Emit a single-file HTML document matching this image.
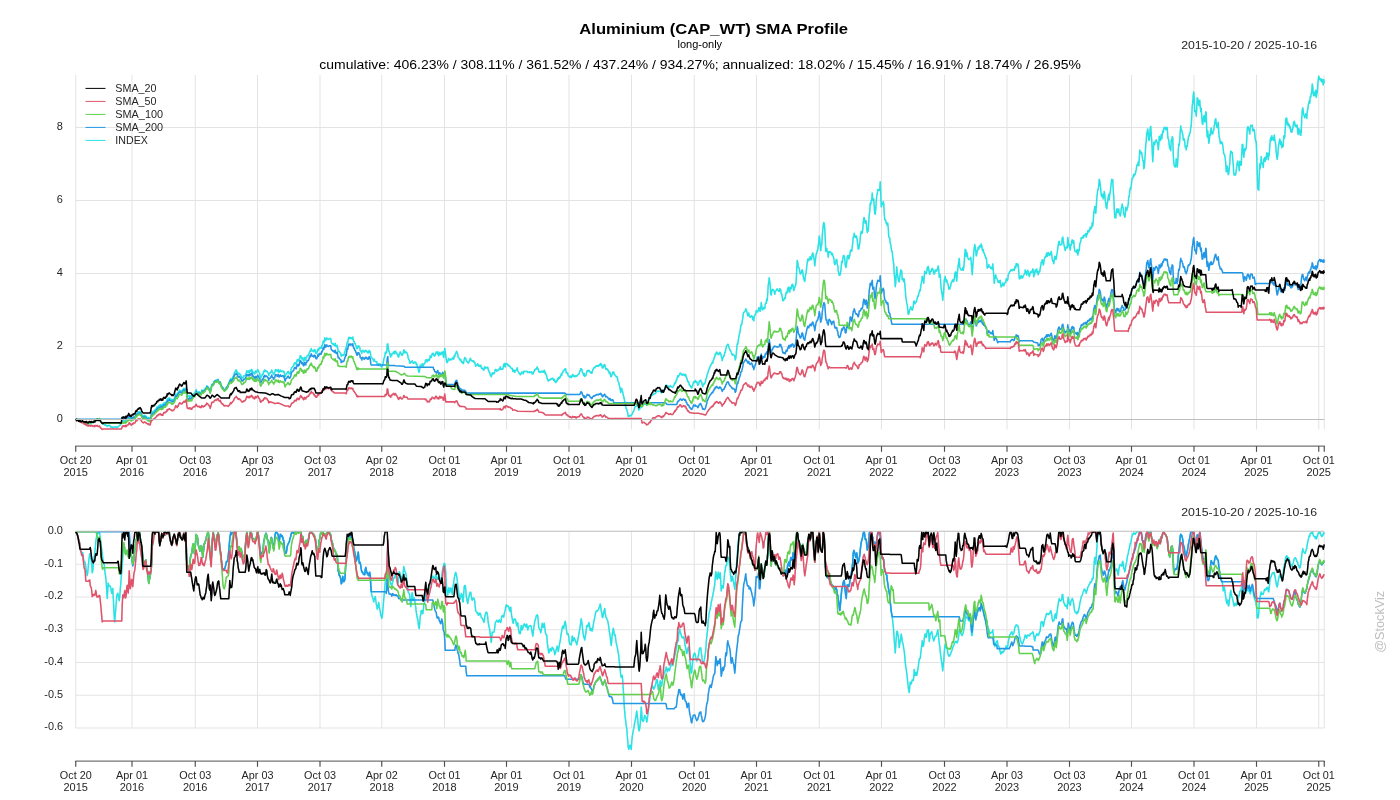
<!DOCTYPE html>
<html><head><meta charset="utf-8"><title>Aluminium (CAP_WT) SMA Profile</title>
<style>html,body{margin:0;padding:0;background:#fff;width:1400px;height:800px;overflow:hidden;font-family:"Liberation Sans",sans-serif}</style>
</head><body>
<svg width="1400" height="800" viewBox="0 0 1400 800" style="position:absolute;left:0;top:0;will-change:transform;font-family:'Liberation Sans',sans-serif">
<rect width="1400" height="800" fill="#fff"/>
<line x1="75.75" x2="75.75" y1="75" y2="429.5" stroke="#E3E3E3" stroke-width="1"/>
<line x1="132" x2="132" y1="75" y2="429.5" stroke="#E3E3E3" stroke-width="1"/>
<line x1="195.25" x2="195.25" y1="75" y2="429.5" stroke="#E3E3E3" stroke-width="1"/>
<line x1="257.5" x2="257.5" y1="75" y2="429.5" stroke="#E3E3E3" stroke-width="1"/>
<line x1="320" x2="320" y1="75" y2="429.5" stroke="#E3E3E3" stroke-width="1"/>
<line x1="381.75" x2="381.75" y1="75" y2="429.5" stroke="#E3E3E3" stroke-width="1"/>
<line x1="444.5" x2="444.5" y1="75" y2="429.5" stroke="#E3E3E3" stroke-width="1"/>
<line x1="506.5" x2="506.5" y1="75" y2="429.5" stroke="#E3E3E3" stroke-width="1"/>
<line x1="569" x2="569" y1="75" y2="429.5" stroke="#E3E3E3" stroke-width="1"/>
<line x1="631.5" x2="631.5" y1="75" y2="429.5" stroke="#E3E3E3" stroke-width="1"/>
<line x1="694.25" x2="694.25" y1="75" y2="429.5" stroke="#E3E3E3" stroke-width="1"/>
<line x1="756.5" x2="756.5" y1="75" y2="429.5" stroke="#E3E3E3" stroke-width="1"/>
<line x1="819.25" x2="819.25" y1="75" y2="429.5" stroke="#E3E3E3" stroke-width="1"/>
<line x1="881.5" x2="881.5" y1="75" y2="429.5" stroke="#E3E3E3" stroke-width="1"/>
<line x1="944.5" x2="944.5" y1="75" y2="429.5" stroke="#E3E3E3" stroke-width="1"/>
<line x1="1007" x2="1007" y1="75" y2="429.5" stroke="#E3E3E3" stroke-width="1"/>
<line x1="1069.5" x2="1069.5" y1="75" y2="429.5" stroke="#E3E3E3" stroke-width="1"/>
<line x1="1131.5" x2="1131.5" y1="75" y2="429.5" stroke="#E3E3E3" stroke-width="1"/>
<line x1="1194" x2="1194" y1="75" y2="429.5" stroke="#E3E3E3" stroke-width="1"/>
<line x1="1256.5" x2="1256.5" y1="75" y2="429.5" stroke="#E3E3E3" stroke-width="1"/>
<line x1="1318.75" x2="1318.75" y1="75" y2="429.5" stroke="#E3E3E3" stroke-width="1"/>
<line x1="1324.25" x2="1324.25" y1="75" y2="429.5" stroke="#E3E3E3" stroke-width="1"/>
<line x1="75.75" x2="1324.25" y1="346.5" y2="346.5" stroke="#E3E3E3" stroke-width="1"/>
<line x1="75.75" x2="1324.25" y1="273.5" y2="273.5" stroke="#E3E3E3" stroke-width="1"/>
<line x1="75.75" x2="1324.25" y1="200.5" y2="200.5" stroke="#E3E3E3" stroke-width="1"/>
<line x1="75.75" x2="1324.25" y1="127.5" y2="127.5" stroke="#E3E3E3" stroke-width="1"/>
<text x="56.89" y="421.90" font-size="10.03" fill="#262626" textLength="6.11" lengthAdjust="spacingAndGlyphs">0</text>
<text x="56.89" y="348.90" font-size="10.03" fill="#262626" textLength="6.11" lengthAdjust="spacingAndGlyphs">2</text>
<text x="56.89" y="275.90" font-size="10.03" fill="#262626" textLength="6.11" lengthAdjust="spacingAndGlyphs">4</text>
<text x="56.89" y="202.90" font-size="10.03" fill="#262626" textLength="6.11" lengthAdjust="spacingAndGlyphs">6</text>
<text x="56.89" y="129.90" font-size="10.03" fill="#262626" textLength="6.11" lengthAdjust="spacingAndGlyphs">8</text>
<line x1="75.75" x2="75.75" y1="531.5" y2="728" stroke="#E3E3E3" stroke-width="1"/>
<line x1="132" x2="132" y1="531.5" y2="728" stroke="#E3E3E3" stroke-width="1"/>
<line x1="195.25" x2="195.25" y1="531.5" y2="728" stroke="#E3E3E3" stroke-width="1"/>
<line x1="257.5" x2="257.5" y1="531.5" y2="728" stroke="#E3E3E3" stroke-width="1"/>
<line x1="320" x2="320" y1="531.5" y2="728" stroke="#E3E3E3" stroke-width="1"/>
<line x1="381.75" x2="381.75" y1="531.5" y2="728" stroke="#E3E3E3" stroke-width="1"/>
<line x1="444.5" x2="444.5" y1="531.5" y2="728" stroke="#E3E3E3" stroke-width="1"/>
<line x1="506.5" x2="506.5" y1="531.5" y2="728" stroke="#E3E3E3" stroke-width="1"/>
<line x1="569" x2="569" y1="531.5" y2="728" stroke="#E3E3E3" stroke-width="1"/>
<line x1="631.5" x2="631.5" y1="531.5" y2="728" stroke="#E3E3E3" stroke-width="1"/>
<line x1="694.25" x2="694.25" y1="531.5" y2="728" stroke="#E3E3E3" stroke-width="1"/>
<line x1="756.5" x2="756.5" y1="531.5" y2="728" stroke="#E3E3E3" stroke-width="1"/>
<line x1="819.25" x2="819.25" y1="531.5" y2="728" stroke="#E3E3E3" stroke-width="1"/>
<line x1="881.5" x2="881.5" y1="531.5" y2="728" stroke="#E3E3E3" stroke-width="1"/>
<line x1="944.5" x2="944.5" y1="531.5" y2="728" stroke="#E3E3E3" stroke-width="1"/>
<line x1="1007" x2="1007" y1="531.5" y2="728" stroke="#E3E3E3" stroke-width="1"/>
<line x1="1069.5" x2="1069.5" y1="531.5" y2="728" stroke="#E3E3E3" stroke-width="1"/>
<line x1="1131.5" x2="1131.5" y1="531.5" y2="728" stroke="#E3E3E3" stroke-width="1"/>
<line x1="1194" x2="1194" y1="531.5" y2="728" stroke="#E3E3E3" stroke-width="1"/>
<line x1="1256.5" x2="1256.5" y1="531.5" y2="728" stroke="#E3E3E3" stroke-width="1"/>
<line x1="1318.75" x2="1318.75" y1="531.5" y2="728" stroke="#E3E3E3" stroke-width="1"/>
<line x1="1324.25" x2="1324.25" y1="531.5" y2="728" stroke="#E3E3E3" stroke-width="1"/>
<line x1="75.75" x2="1324.25" y1="564.25" y2="564.25" stroke="#E3E3E3" stroke-width="1"/>
<line x1="75.75" x2="1324.25" y1="597.0" y2="597.0" stroke="#E3E3E3" stroke-width="1"/>
<line x1="75.75" x2="1324.25" y1="629.75" y2="629.75" stroke="#E3E3E3" stroke-width="1"/>
<line x1="75.75" x2="1324.25" y1="662.5" y2="662.5" stroke="#E3E3E3" stroke-width="1"/>
<line x1="75.75" x2="1324.25" y1="695.25" y2="695.25" stroke="#E3E3E3" stroke-width="1"/>
<line x1="75.75" x2="1324.25" y1="728.0" y2="728.0" stroke="#E3E3E3" stroke-width="1"/>
<text x="47.73" y="533.90" font-size="10.03" fill="#262626" textLength="15.27" lengthAdjust="spacingAndGlyphs">0.0</text>
<text x="44.27" y="566.65" font-size="10.03" fill="#262626" textLength="18.73" lengthAdjust="spacingAndGlyphs">-0.1</text>
<text x="44.27" y="599.40" font-size="10.03" fill="#262626" textLength="18.73" lengthAdjust="spacingAndGlyphs">-0.2</text>
<text x="44.27" y="632.15" font-size="10.03" fill="#262626" textLength="18.73" lengthAdjust="spacingAndGlyphs">-0.3</text>
<text x="44.27" y="664.90" font-size="10.03" fill="#262626" textLength="18.73" lengthAdjust="spacingAndGlyphs">-0.4</text>
<text x="44.27" y="697.65" font-size="10.03" fill="#262626" textLength="18.73" lengthAdjust="spacingAndGlyphs">-0.5</text>
<text x="44.27" y="730.40" font-size="10.03" fill="#262626" textLength="18.73" lengthAdjust="spacingAndGlyphs">-0.6</text>
<defs><clipPath id="cu"><rect x="70" y="75" width="1260" height="360"/></clipPath><clipPath id="cl"><rect x="70" y="531" width="1260" height="225"/></clipPath></defs>
<g fill="none" stroke-width="1.55" stroke-linejoin="round" stroke-linecap="butt" clip-path="url(#cu)">
<path d="M75.8 418.8l.4 .8l.6 1l.4-1.1l.6 .5l.4-.1l.6 1.2l.4-.4l.6-1.1l.4 2.1l.6-.3l.4 .2l.6 .5l.4-.9l.6 .6l.4 .2l.6 .3l.4 .6l.6-.2l.4 0l.6 .8l.4-1l.6 .4l.4 1.1l.6-.4l.4 .6l.6-1l.4-.2l.6 0l.4 .7l.6-.6l.4-1.1l.6 .6l.4-.7l1 .6l.6-.8l.4-.8l.6 1l.4-1.3l.6-.5l.4 .1l.6 .1l.4-1.3l.6 .9l.4-.1l.6-.2l.4-1l.6 .6l.4 1l1 1.4l.6 .7l.4 1.1l.6 .2l.4 .5l.6-.2l.4-.8l.6 1.9l.4 .3l.6-.4l.4 .2l.6 .3l.4 1.1l.6-.8l.4 .1l.6-.5l.4 .2l.6-.1l.4 .7l.6 1.4l.4-.7l.6 .1l.4 .4l.6-.2l.4 .8l1-1.1l.6 .1l.4 .2l.6 0l.4 .5l.6-.8l.4 .5l.6-.2l.4-.2l.6-.6l.4-.5l.6-.7l.4 .1l.6-1l.4-.4l.6-.9l.4-1.4l.6-.1l.4 .4l.6-1.1l.4 .7l.6-.4l.4 .8l.6-1.9l.4 1.4l.6-.8l.4-.9l.6-.4l.4 .1l.6-1.5l.4-.5l.6 0l.4 1.2l.6-.6l.4 1.2l.6-.4l1-1.2l.4 .7l.6-1.2l.4 .3l.6-.2l.4-.8l.6-2.1l.4-.3l.6 .7l.4-1.6l.6-.5l.4 .2l.6-1l.4 .1l.6 .5l.4-.9l.6 1.2l.4 .5l.6 1.8l.4 .5l.6 .3l.4 1l.6-.8l.4-.1l.6-.6l.4 1l.6-.2l.4 .5l.6 .8l.4 0l.6 .8l.4-.2l.6-.4l.4 1.3l.6-.8l.4 .7l.6-3l.4-1l.6-2.3l.4 .8l.6-1.2l.4-.7l.6 .2l.4-.8l.6-.3l.4-.8l.6-.6l.4 0l.6-1.7l.4-.4l.6 .5l.4-1.1l.6-.6l.4 .3l.6-.5l.4-1l1 1.4l.6-1.2l.4 .8l.6 0l.4-1.7l.6-.9l.4-.1l.6 .7l.4-.1l.6-.9l.4-1l.6 .3l.4-2.8l.6 .7l.4-1.2l.6 .1l.4-.8l.6 .5l.4 .4l.6 .2l.4 .6l.6 .7l.4-.7l.6 .7l.4-.1l.6-.9l.4-.3l.6-1.6l.4-1.3l.6-2l1 .7l.4 .2l.6-2.3l.4 .8l.6-1.8l.4-.8l.6-.7l.4 .6l.6 0l.4 .8l.6 0l.4-.6l.6-1.2l.4-.2l.6-1.2l.4 .3l.6 1.3l.4-1l.6-.4l.4-1l.6 5l.4 2.5l.6 1l.4 .8l.6-.7l.4 .6l.6-1.3l.4 .8l.6 .8l.4-.9l.6 1.1l.4-1.7l.6-.5l.4-.7l.6-.5l.4-.4l.6 .3l.4-1.4l.6-1.5l.4-1.2l.6 2.1l.4 .3l.6 .6l.4-.5l.6 .3l.4-.7l.6 1.4l.4-.1l.6-.7l.4 .8l.6-3l.4 .1l.6 .7l.4 .5l.6-.7l.4-1.3l.6 .4l1-2.1l.4 .1l.6-2.1l.4 .7l.6 .1l.4 1.3l.6 .2l.4 .9l.6 .5l.4 2.3l.6-2.5l.4-1.7l.6-3.1l.4-.2l.6 0l.4-.7l.6-.3l.4-2.1l.6 0l.4-.9l.6 .3l.4 .6l.6-.6l.4-1l.6 1.3l.4-1.4l.6 2.7l.4-.3l.6 1.1l.4-1.1l.6 2.1l.4 1.6l.6 .8l.4 1l.6-.1l.4 1.2l.6 .6l.4 .9l.6-.2l.4-.4l.6-.3l.4-1.5l.6-.7l.4 .5l.6-1.3l.4-1.6l.6-1.4l.4-.9l.6-1.5l.4-.9l.6-.9l.4 1.5l.6-1.6l.4-.2l.6-1.5l.4-.6l.6-.9l.4-2.1l.6-1.4l.4-.4l.6-.5l.4-1.3l.6 1.6l.4 .2l.6 1.4l.4 1.2l.6-.6l.4-.4l.6 .6l.4 1.1l.6 .2l.4 1.5l.6 1.1l.4 .4l.6-.8l.4 .2l.6-1.6l.4 .4l.6-.8l.4 0l.6-1.5l.4-1.1l.6-2.2l.4 .5l.6 1.1l.4 0l.6-1.6l.4 1.6l.6-.3l.4-1.9l.6 1l.4 .3l.6-2l.4 1.3l.6 2l.4-.6l.6 1.1l.4 .9l.6-.5l.4-2.3l.6-.4l.4 1.8l.6-.9l.4-.5l.6-1.8l.4 1.2l.6 1l.4 .9l.6 .9l.4 3.2l.6 1.3l1-2.2l.4-1.6l.6 .4l.4-.6l.6-3l.4 .8l.6-1.9l.4 1.6l.6-.4l.4-.3l.6 .4l.4 .5l.6 1.2l.4 0l.6 2.7l.4-2.3l.6 .1l.4-.2l.6-1.3l.4 .1l.6-2l.4 2.1l.6 .5l.4 .9l.6 1l.4-1.5l.6-.3l.4-2.6l.6-.5l.4 .4l.6 .2l.4 1.4l.6-1l.4-1.1l.6 2.6l.4 .1l.6-1.3l.4-.9l.6 1.4l.4 .1l.6-.3l.4-.3l.6 0l.4 1.1l.6-.8l.4 1l.6 3.6l.4 1l.6-2.4l1-.5l.4-1.4l.6-.6l.4-.5l.6 1.2l.4 1.3l.6-.4l.4-.2l.6-1.7l.4-2.6l.6-1.6l.4-.3l.6-.6l.4-.3l.6-.7l.4-2.2l1-.8l.6 1.6l.4 0l.6-2.8l.4-1.5l.6 1.1l.4-1.4l.6 1.6l.4-1.1l.6-2.3l.4-2.1l.6 .4l.4 1.2l.6 1.8l.4-.3l.6-1l.4 2.9l.6 .5l.4-1.5l.6-2.2l.4 2.2l.6 .5l.4-2.6l.6-.1l.4-1.8l.6 0l.4 .2l.6-1.1l.4-1.9l.6-.7l.4-1.8l.6 1l.4-2.8l.6 1.3l.4 1l.6 .3l.4-.4l.6 1.1l.4-2.2l.6 1.4l.4-.9l.6 3l.4 .4l.6-.2l.4-1.7l.6-2.3l.4 1.5l.6-.9l.4-2.2l.6 .8l.4-.3l.6-1l.4 1.1l.6-3l.4 .5l.6-2.6l.4-2.2l.6 2l.4-1.8l.6-3.3l.4 1l.6 1.7l.4-1.2l.6-1.5l.4 .9l.6 .4l.4 .1l.6 .1l.4-.9l.6 .3l.4 0l.6-.2l.4 3.7l1 1.4l.6-.1l.4 1.1l.6-.7l.4 1l.6 .7l.4-2.5l.6 2.8l.4 .5l.6 .3l.4-1.4l.6 3.2l.4 2.9l.6-.5l1 1.3l.4 1l.6 0l.4 3.1l.6-1.5l.4 .6l.6-.6l.4 .5l.6-.4l.4-1.2l.6-2l.4-1.1l.6-2.8l.4 1.4l.6-4.6l.4-2.3l.6 .2l.4-3.1l.6-2.1l.4 1.1l.6-1.1l.4 1.3l.6-1.1l.4 .1l.6 .3l.4 1l.6-1.9l.4 2.5l.6 2.1l.4-.3l.6 2.2l.4 0l.6 1.7l.4 1l.6 2.3l.4 0l.6-2.6l.4 1.1l.6-1.4l.4 1.7l.6 .2l.4 2.9l.6 .7l.4-.2l.6 2.2l.4-2.3l.6-.7l.4 .8l.6 .5l.4 .8l.6-1.1l.4-.9l.6 .9l.4-.6l.6 .6l.4 1.4l.6-.7l.4 1.1l.6-1.9l.4-.7l.6 2l.4-.8l.6 4.4l.4 .9l.6 1l.4 .2l.6 .3l.4 1.6l.6 1.2l.4-1.9l.6 1.7l.4 .3l.6 .4l.4 .4l.6-.4l.4 3.1l.6-.4l.4 1l.6-1.5l.4 .7l.6-1l.4 1.1l.6 1.6l.4-.3l.6 1.3l.4-1.6l.6-1.1l.4-2l.6-3.2l.4-1.5l.6-1.5l.4-3.6l.6-.8l.4 1.3l.6-1.5l.4-7.6l.6-.3l.4 3.1l.6 4.1l.4 .1l.6 2.8l.4 1.3l.6 1.6l.4-3l.6 1.4l.4-1.4l.6-.7l.4-.3l.6-1.2l.4 1.9l.6 .3l.4-2.8l.6 .4l.4 1l.6 .5l.4 1.5l.6 .7l.4 1.7l.6 0l.4-3.2l.6 .4l.4-2.4l.6 1.6l.4 .2l.6 1.8l.4 0l.6-1.2l.4-1.4l.6-2.8l.4 .4l.6 2.6l.4-.7l.6-.4l.4 .7l.6 .1l.4 1.2l.6 1.4l.4 3.1l.6 1l.4 .6l.6 3.2l.4 0l.6-.4l.4-1.2l.6 .1l.4-.9l.6 1.5l.4 1.1l.6 0l.4-.7l.6-.7l.4 .3l.6 0l.4 2.2l.6-.3l.4 1.7l.6 1.4l.4 1.9l.6 2.9l.4 .2l.6-3.3l.4-3.9l.6 1.4l.4-.7l.6-1.2l.4-.9l.6 2.6l.4 .2l.6-2.2l.4-.7l.6 0l.4-1.9l.6-1.9l.4 .5l.6-.2l.4 2l.6-1.4l.4-1.2l.6 .6l.4 .5l.6-1.8l.4-2.9l.6 .4l.4 1.3l.6-2.2l.4-1.7l.6-.1l.4-.3l.6 2.3l.4-.6l.6 1.2l.4-1.7l.6-1l.4-1.4l.6 .1l.4 1.7l.6-1.9l.4 2.9l.6 1l.4-1.3l.6-2.3l.4 1.3l.6 1.2l.4-.3l.6-2.2l.4 .5l.6-.8l.4 4.3l.6 1.2l.4-4.9l.6-4.1l.4 3.7l.6 3.2l.4 3.8l.6 3.3l.4 .2l.6-.9l.4-2.2l.6-1l.4 1l.6 .7l.4-1l.6-.2l.4 .5l.6 .3l.4-1.2l.6-1.1l.4 1.2l.6 .2l.4-3l.6 .7l.4-2.4l.6-1.1l.4-1.2l.6-.5l.4 2l.6 .9l.4 3l.6 .3l.4 .7l.6 1.4l.4 .4l.6-.8l.4 2.1l.6 1.1l.4-.8l.6 1.3l.4 .7l.6-1.5l.4-2.8l.6-1.8l.4 .9l.6-.1l.4 2l.6 1.3l.4-.1l.6 .7l.4 .8l.6-.6l.4-1.3l.6-1l.4-1.9l.6 .7l.4 1.4l.6 .5l.4-.2l.6 .3l.4 .6l.6-.7l.4 1.6l.6-.3l.4 2.2l.6 1.8l.4-.7l1-.9l.6-.9l.4 1.9l.6 .6l.4-.9l.6 .8l.4 0l.6-.9l.4 2.3l.6 1.3l.4-.1l.6-.6l.4 1.6l.6 .5l.4-1.1l.6-2.4l.4 1.5l.6-.8l.4 .6l.6-.5l.4 .2l.6-.5l.4 2.5l.6 .8l.4 1.7l.6 .4l.4 2.5l.6 .2l.4 1.5l.6-2l.4-1.7l.6 1l.4-1.3l.6 .1l.4 .6l.6-1.8l.4-2.1l.6 0l.4 0l.6 1.6l.4-.6l.6-.2l.4-.1l.6-1l.4-.4l.6 .5l.4-2.7l.6 1.9l.4 .7l.6-.4l.4 .1l.6 .3l.4-2.1l.6-2.5l.4-1.1l.6 2.5l.4 .9l.6-3.6l.4 .6l.6-.4l.4 .6l.6 .1l.4 1.7l.6-.7l.4 .3l.6 1.1l.4-.1l.6 1.1l.4 .7l.6 .1l.4-.1l.6 2.7l.4 .4l.6-1.6l.4 1.7l.6 .8l.4-1.5l1-.8l.6-1.3l.4-1l.6 2.9l.4 .9l.6 .8l.4 1l.6 .2l.4 1.2l.6-.3l.4-1.2l.6-1.3l.4 .1l.6 .4l.4 1.2l.6-2.5l.4 .1l.6 .2l.4 0l.6 0l.4-.2l.6-.1l.4 .4l.6 1l.4-.4l.6 0l.4-.4l.6 .9l.4-.5l.6 0l.4-.5l.6 1l.4 1.3l.6-.5l.4 .3l.6-2.5l.4 .3l.6-2.1l1 .1l.4-1.3l.6 .5l.4-1.9l.6 1.6l.4 .5l.6 2.8l.4 .3l.6-.1l.4-.5l.6 1l.4-1.3l.6 .1l.4-.1l.6 .9l.4-1.1l.6 1.2l.4-1.9l.6 1.1l.4 2.4l.6-.6l.4 1.6l.6 1.1l.4 2.9l.6 1l.4 1.3l.6-1.1l.4-.3l.6 .6l.4-1l.6-.3l.4 .2l.6-.8l.4-.2l.6 .9l.4-.6l.6 1.9l.4-1l.6 2l.4 .3l.6 1l.4-2l.6 .8l.4-.9l.6-2.3l.4 1.3l.6-2l.4 .9l.6-1.8l.4 .7l.6-1.8l.4-1.5l.6 1.1l.4-2.7l.6 0l.4-1.5l.6 0l.4-1.2l.6-.2l.4-1.1l.6 1l.4 3.3l.6-.3l.4 .9l.6-.1l.4 2.7l.6 0l.4 .5l.6 .9l.4-1.4l.6 .4l.4 1.1l.6-.7l.4-1.3l.6-1.2l.4 1.8l.6-.5l.4 .9l.6 .4l.4-1.1l.6 .4l.4 0l.6-.7l.4 .4l.6-1.1l.4-.3l.6-.8l.4 0l.6-2.8l.4-.2l.6-2.1l.4 .2l.6 .7l.4 2.1l.6 1.7l.4 .2l.6 1.9l.4-2l.6 3l.4-1.1l.6 .1l.4-1.2l.6-2.1l.4-1.6l.6 .6l.4 0l.6-.9l1 1.3l.4 .7l.6 .7l.4-.8l.6 1.2l.4-1.1l.6-2.5l.4-.6l.6-1.3l.4-.2l.6 .3l.4-1.2l.6-.2l.4-.8l.6 .4l.4-.5l.6 .2l.4 .5l.6-.5l.4-1l.6 .4l.4-1.4l.6-.4l.4 1.9l.6-.4l.4 2.9l.6 .1l.4-.5l.6-1.5l.4-1.3l.6 .2l.4 2l.6 2.1l.4 .5l.6-.8l.4 .6l.6 .4l.4 1.5l.6 0l.4 2.3l.6-1.2l.4 1.2l.6 3.1l.4 .1l.6-1.5l.4-.8l.6-2.2l.4 .1l.6-.1l.4 2.6l.6 0l.4 .5l.6 .6l.4 1.1l.6 .1l.4-.2l.6 3.4l.4 1.4l.6 .8l.4 2.8l.6 1.5l.4 3l.6 2.8l.4-4.1l.6 .2l.4 1.9l.6 1.7l.4 3.1l.6 1.3l.4 2.2l.6 3l.4 1.4l.6 2.9l.4 2.7l.6 .4l.4 2.2l.6 1.9l.4 3.1l.6-.7l.4 0l.6 .4l.4-.8l.6 .4l.4-.2l.6-.8l.4-.6l.6-1.8l.4-.4l.6-.9l.4-1.6l.6-1.9l.4-1l.6-.3l.4 0l.6-.2l.4-.9l.6-.5l.4 2l.6 3.4l.4-.3l.6-.9l.4-1.8l.6-.4l.4 .8l.6-1.6l.4 1l.6-1.4l.4-.7l.6-.2l.4-.6l.6 .4l.4 0l.6 0l.4 .3l.6 .8l.4-1.5l.6-.4l.4-1.4l.6-2.3l.4-1.6l.6 .8l.4-.3l.6-3.1l.4 .4l.6-.9l.4 .2l.6-.4l.4-.7l.6 .1l.4-.6l1-.1l.6-.6l.4-1.2l.6-.1l.4-.3l.6-.4l.4 .2l.6 .3l.4-.1l.6-.3l.4 .2l.6-.1l.4 1.7l.6-.5l.4-1.4l.6-.6l.4 1.4l.6-1l.4-1.2l.6-.6l.4-1.5l.6-2.1l.4-.4l.6 .5l.4 .4l.6-.1l.4 .4l.6 1l.4-.6l.6 0l.4-1.1l.6 1.1l.4 .1l.6 .5l.4 .3l.6-.3l.4-.4l.6-1.5l.4-.7l.6-1.9l.4 .9l.6-1.5l.4-1.8l.6-.3l.4-2.3l.6-1.9l.4 1.1l.6-1.1l.4-.7l.6-1.3l.4-.6l.6-.1l.4 1.2l.6 .7l.4 .2l.6-.9l.4-.2l.6 .9l.4-.5l.6 1.2l.4-1.5l.6 .6l.4 2.5l.6 .6l.4 2.2l.6 1.6l.4-.4l.6 .8l.4 2.5l.6 1l.4-.3l.6 1.8l.4 .3l.6 .6l.4-1.8l.6-.7l.4-2.5l.6-1.3l.4 .9l.6-.4l.4-1.7l.6 1.5l.4-.5l.6 .4l.4 1.1l.6 2.2l.4-.1l.6-1.8l.4-1.6l.6-1.1l.4-.2l.6-.3l.4 1.8l.6 .6l.4 2.2l.6 1.9l.4-2.2l.6-.4l.4 .1l.6-1.1l.4-.1l.6-3.4l.4-1l.6-1.9l.4-2.2l.6-1l.4-1.8l.6-1.8l1-2.1l.4-1.8l.6-.5l.4-1l.6-1.1l.4-1.1l.6 .9l.4-2.8l.6-.5l.4-2.8l.6 0l.4-3l.6 .6l.4-2l.6-.6l.4 1.2l.6 0l.4 1.5l.6-.1l.4-.7l.6-1.7l.4 .8l.6 .9l.4 2.3l.6 1.7l.4 2.7l.6-2.8l.4-.4l.6-1.8l.4 .1l.6-3.5l.4 .1l.6-3.2l.4-1.5l.6-2.3l.4-.3l.6-.8l.4 .3l.6 2l.4 1.8l.6 .7l.4 1.8l.6 .2l.4 1.2l.6 1.6l.4 1.3l.6-1l.4 .7l.6 .3l.4 .1l.6 1.3l.4 3.4l.6-1.4l.4-4.2l.6-6l.4-4.6l.6 .4l.4-3.5l.6-3.1l.4-2.8l.6-2.2l.4-1.7l.6-5l.4-1l.6-.2l.4-3.4l.6-2.8l.4-4.5l.6-1.6l1-.8l.4-.5l.6-2.3l.4 1.2l.6 1.4l.4 1.9l.6 2.7l.4-1.4l.6-1.5l.4 2.9l.6 .9l.4 .5l.6-.6l.4-1l.6 0l.4 .9l.6 3.1l.4-2.6l.6 3.7l.4-3.8l.6-1.7l.4-.9l.6-.7l.4-3.1l.6 1.2l.4-.2l.6 .4l.4-1.6l.6-2.7l.4 .1l.6 2.6l.4 1l.6-3.4l.4-5.5l.6 4l.4 2.1l.6 1.4l.4-1.4l.6-1.1l.4 .2l.6 1l.4-4.5l.6-1.5l.4 .6l.6-4.5l.4 1.9l.6-7.5l.4-7.9l.6-3.2l.4-4.3l.6 4l.4 4.5l.6 7.2l.4 1.6l.6-3.8l.4-1.6l.6-.4l.4 .4l.6 .8l.4 .9l.6 2.9l.4-2.1l.6-1.2l.4-.9l1-1.3l.6 1.4l.4 .4l.6 .4l.4 .5l.6-2.9l.4 1l.6 .3l.4 4.1l.6 .1l.4 2.9l.6 3.8l.4-1.3l.6 .9l.4-1.8l.6-1l.4 .9l.6-4.4l.4-1.9l.6 1l.4-1l.6-4.2l.4 1.5l.6-2.4l.4 5l.6-.2l.4-3.9l.6-.7l.4 1.5l.6-3.6l.4-.9l.6 .3l.4 2.2l.6 3.8l.4-1.2l.6-2.6l.4-.3l.6-1.9l.4-4.3l.6-11.2l.4-8.7l.6 1.9l.4 4.7l.6 .4l.4 1.1l.6 3.4l.4 2l.6-.2l.4-.8l.6-2.8l.4-.2l.6 1.8l.4 4.4l.6 2.8l.4 1.4l.6 1.2l.4-4l.6-3.8l.4-1.6l.6-6l.4-2.9l.6-4.1l.4 .9l.6 .6l.4-2l.6-1.1l.4-.8l.6 3.1l.4-.2l.6-1.7l.4-4l.6-1l.4 1.7l.6 2.8l.4 2.4l.6 6.1l.4-3.9l.6-5l.4-3.2l.6-.8l.4-2.3l.6-.9l.4-3.9l.6-3.5l.4-6.3l.6 2.9l.4 6.3l.6 5.4l.4-4l.6-2.1l.4-8.8l.6-5.1l.4-5.3l.6-2.9l.4 1.2l.6 4.7l.4 10.2l.6 12.7l.4 .1l.6-3l.4 3.1l.6 .8l.4 4.9l.6-5.3l.4-.5l.6 .8l.4-.2l.6 .3l.4 1.4l.6 1.1l.4-1.6l.6 2.4l.4 .6l.6 2.1l.4 4.2l.6 2l.4-.4l.6-1.9l.4-2.8l.6 .2l.4 4.3l.6 1.6l.4 5.7l.6 1.7l.4 2.4l.6-.1l.4-.6l.6-3.6l.4-4.1l.6-5.7l.4 1.3l.6-3.2l.4-3.2l.6-.7l.4 .7l.6 2.5l.4 6l.6 2.8l.4-.7l.6-4.7l.4-5.3l.6-1.1l.4-.2l.6 3.5l.4-1l.6-2.3l.4-3.8l.6-1.9l.4 .7l.6 .6l.4-3.5l.6-5l.4-5.5l.6-.8l.4-3.2l.6 3.1l.4 1.1l.6-.2l.4-1.3l.6 1.5l.4 3l1 8.5l.6 .1l.4-2.6l.6-3.6l.4-4.4l.6-5.1l.4-1.8l.6 0l.4 1.7l.6-4.1l.4-6.2l.6-4.8l.4-.5l.6 4l.4 1.6l.6-2.6l.4 1.3l.6 6.2l.4 4.4l.6-3.5l.4 2l.6-8.6l.4-7.8l.6-3.8l.4-7.4l.6 1.1l.4-3.9l.6-.7l.4-6.8l.6 6.8l.4 .8l.6-1.6l.4 7.1l.6 7.6l.4 .4l.6-5.6l.4-6.7l.6-6.2l.4-1.4l.6-4.7l.4 0l.6 .2l.4 .7l.6-1.4l.4-7.3l.6 13l.4 12l.6-.9l.4-2.6l.6 .7l.4-2.5l.6 2.4l.4 9.3l.6 6.4l.4-.1l.6 1.4l.4 2.6l.6-.7l.4 2.5l.6-2l.4 4.5l.6 9.1l.4 .5l.6 .8l.4 5l.6 1.2l.4 4.1l.6 2.9l.4 0l.6 6.3l.4 3.3l.6 3.1l.4 10.1l.6 4.1l.4 8.4l.6-3.9l.4-8.1l.6-7.8l.4 5.9l.6 3.5l.4 2.7l.6 2.3l.4 .6l.6-5.2l.4-2.5l.6-4.3l.4 .5l.6 1.2l.4 8.1l.6-1.2l.4 1l.6 2l.4-2.6l.6 5.2l.4 5l.6 8.1l.4 2.5l.6 3.8l.4 1l.6 5.3l.4 4.4l.6 0l.4-2.1l.6-2.8l.4-.7l.6-1.9l.4 2l.6 .5l.4 .9l.6-1.5l.4-2.1l.6-5.2l.4-.3l.6 2.8l.4-.7l.6-1.1l.4 .3l.6-2.6l.4-1.4l.6-2.4l.4 .5l.6-2.8l.4-1.5l.6-2l.4 .9l.6-4.9l.4-2.7l.6-2.3l.4-4.8l.6 2.1l.4 1.1l.6 3.7l.4-6.7l.6-5.2l.4 1.7l.6-.4l.4 1.1l.6-1.8l.4-4.3l.6 2l.4-3.2l.6 2.7l.4 3.7l.6 1.7l.4-2.5l.6-1.2l.4 .5l.6-2.2l.4-.7l.6 .4l.4 1.8l.6 3.3l.4 .1l.6-1.2l.4-2.7l.6 .2l.4 .8l.6-.1l.4-2l.6-1.3l.4-1.7l.6 3.6l.4 7.5l.6-3.1l.4 1.5l.6 8.2l.4 5.5l.6 3.4l.4 2.3l.6 5.4l.4-5.4l.6-6.3l.4-7.7l.6-2.9l.4-1.4l.6 3.1l.4 2.4l.6-2.2l.4 2.3l.6 1.6l.4 1.3l.6 4l.4-1.5l.6 1.4l.4-1.9l.6-1.5l.4-2.9l.6-.7l.4-1.2l.6-1l.4 1.9l.6-.5l.4-1.6l.6-5.2l.4-2.3l.6 0l.4 4.9l.6 4.1l.4-7.2l.6-4.9l.4-4.1l.6-2.8l.4-3.7l.6 8.5l.4 1.3l.6 1.3l.4 .6l.6-.3l.4 0l.6-2.2l.4 2.7l.6-2.7l.4-5.2l.6-7.8l.4-5.2l.6 .8l.4 6.1l.6-3.8l.4 1.9l.6 3l.4 1.3l.6 .9l.4-.1l.6-.4l.4-.5l.6-1.2l.4 4.6l.6 7.4l.4 5.2l.6-8l.4-6.4l.6-7.9l.4-3.9l.6-3.8l1 6.4l.4 5l.6-1.7l.4-3.5l.6-.5l.4-3l.6 1.7l.4-2.2l.6-1.2l.4 .6l.6 .7l.4-3l.6 1.8l.4 3.7l.6 1.5l.4-1.3l.6 3.3l.4 .2l.6 2.3l.4 .3l.6 2.3l.4-.3l.6 4.5l.4 5.9l.6-1.4l.4 .6l.6-2.7l.4 1.5l.6 .5l.4 .7l.6 1.2l.4-1.1l.6 .2l.4 1.3l.6-5l.4 5.8l.6 5.9l.4 7.7l.6-4.3l.4-2.3l.6-1.8l.4 2.9l.6 .4l.4 1l.6 1.6l.4 1.7l.6-1.5l.4 .9l.6 .8l.4-2.4l.6 5.1l.4 1.6l.6-1.6l.4 .1l.6-2.4l.4 .6l.6 2.2l.4-2.1l.6-.7l.4-.6l.6-.2l.4-3.5l.6 .7l.4 1l.6-1l.4-4.6l.6-1l.4-1.1l.6-1.3l.4 0l.6-1.6l.4 .7l.6-.8l.4 .8l1-1.4l.6 0l.4 1.3l.6-2.9l.4-1.3l.6 1.5l.4-4.2l.6 .4l.4 1.5l.6-1.5l.4 1l.6 6.7l.4 6.9l.6 .3l.4-2.3l.6 1.2l.4-2.2l.6 1.3l.4 1.2l.6-.6l.4-1.4l.6-1.1l.4-.8l.6-.4l.4-3.9l.6 1.6l.4 .6l.6 2.9l.4-3.5l.6-1.2l.4 1.9l.6 2.5l.4 1.7l.6-1.2l.4-2.9l.6-.5l.4 .7l.6-.3l.4-1.6l.6-1.7l.4 1.2l.6 6.7l.4-2.3l.6-.4l.4-4.2l.6 1.6l.4 .1l.6-2.6l.4 3.6l.6-1l.4 3.2l.6-1.6l.4-1.8l.6 .2l.4-2.9l.6-3.2l.4-3.3l.6 0l.4-2.4l.6 2.1l.4 3.1l.6-1.5l.4-3.9l.6-1.9l.4-.9l.6 .4l.4-2.3l.6-1.9l.4 3.3l.6-2.8l.4-.9l.6 .7l.4 2.2l.6-.3l.4-.7l.6-1.7l.4-1.4l.6 3.6l.4 4.1l.6 2.2l.4-.4l.6 2.7l.4-3.4l.6-3.9l.4 .1l.6 2.9l.4-.1l.6-4.3l.4-2.2l.6-4.9l.4-2.6l.6-3.2l.4-.7l.6 3.6l.4 0l.6-.2l.4 0l.6-.4l.4-6.1l.6-1.2l.4 3.2l.6 3.7l.4 1.9l.6 2.6l.4 2.1l.6-2.3l.4-1.2l.6 .3l.4 .6l.6-10.5l1 7.4l.4 2.1l.6-2.1l.4 5.1l.6-4.3l.4-.8l.6-3.5l.4-1.5l.6 3.2l.4-2.1l.6-.1l.4 6.4l.6 3.2l.4 1.2l.6-.3l.4-.4l.6 1.7l.4-3.2l.6 5.6l.4-1.9l.6-3.2l.4 .8l.6-6.8l.4-1.1l.6-1.4l.4-3.7l.6-.1l.4 .7l.6-.2l.4-2.3l.6 1.3l.4-2.1l.6-.1l.4 .2l.6-1.6l.4 3.6l.6-3.1l.4 .4l.6-3.6l.4 .4l.6 .7l.4-2l.6 .6l.4-3.4l.6 1.1l.4 .3l.6-1.4l.4-4.3l.6 2.9l.4-4.4l.6-8.7l.4-2.2l.6-3.8l.4 4.5l.6 2.2l.4-6l.6-8.6l.4-4.2l.6-4.9l.4 0l.6-4.5l.4-5.8l.6 2l.4 2.7l.6 5.5l.4 5.4l.6 1.6l.4-2.2l.6 .2l.4 4.4l.6-2.1l.4-5.2l.6 2.4l.4 6.2l.6 3.1l.4 4.2l.6 1.1l.4-4.3l.6-3.3l.4-3.8l.6-3l.4 5.5l.6-5.2l.4-2l.6-5.1l.4-4.3l.6-3.8l.4 2.1l.6-1.6l.4 9.9l.6 7.1l.4 11.5l.6 9.2l.4 .2l.6 .2l.4-5.2l.6-3.4l.4-.4l.6 3.5l.4-.2l.6-3.1l.4 4.5l.6 .6l.4 1.8l.6-2.5l.4-4.7l.6-2.2l.4-2.6l.6 3.5l.4 .2l.6 7l.4 .3l.6 2.3l.4-1.4l.6-8.7l.4 .9l.6 2.3l.4-2.1l.6-1.3l.4-3l.6-7.5l.4-.1l.6-5.5l.4-2.9l.6 1l.4-3.2l.6-5l.4-2.3l.6-.2l.4-2l.6-2.1l.4 1.9l.6-2l.4 .1l.6-2.7l.4-1.8l.6-4.1l.4-1l.6 .4l.4-3l.6 3.8l.4-5.7l.6-10.1l.4 2.5l.6 1l.4-1.5l.6 1.1l.4 3.4l.6 3.9l.4 0l.6 8.2l.4-.6l.6-6.7l.4-7.3l.6-9.6l.4-3.3l.6-8.1l.4-1.4l.6-2.5l.4 4.1l.6 7l.4 0l.6-5.6l.4-6.4l.6-1.8l.4 8.1l.6 6.5l.4 10.6l.6 10.2l.4-8.1l.6-11.5l.4 .7l.6 1.6l.4-3.2l.6-.6l.4-.9l.6 2.1l.4 .3l.6 2.1l.4 5.4l.6-4.8l.4-8.6l.6 1.4l.4 2.9l.6-1.1l.4-5l.6 4.3l.4-3.1l.6-4.8l.4 1.4l.6-3.2l.4-1.8l.6 1.2l.4-1l.6 2.2l.4-2.1l.6-.1l.4 .2l.6 9.3l.4 1.9l.6 1.4l.4 4.9l.6 3.3l.4-.4l.6 2.6l.4-10.3l.6 .9l.4-4.6l.6 1.1l.4 16.1l.6 7.8l.4 4.1l.6 .6l.4 .6l.6-1.7l.4-6.5l.6 2.2l.4 6.1l.6-5.6l.4-9.9l.6-7.5l.4 1.1l.6-5.4l.4-7.8l.6-6.1l.4 4.6l.6-.4l.4 2.7l.6 1.6l.4 5.2l.6 .7l.4-1.4l.6 3.6l.4 4.7l.6-.9l.4 3.5l.6-4.2l.4 .7l.6-4.6l.4-3.3l.6-2.6l.4 .1l.6-3l.4 0l.6-5.8l.4-1l.6-10.4l.4-9.7l.6-3.9l.4-6.8l.6-3.3l.4 7.2l.6 12.5l.4-1.5l.6 1.9l.4 4.2l.6-7.9l.4-10.7l.6 1.2l.4 1.8l.6 4.8l.4-2.3l.6-2.9l.4 6.3l.6 5.1l.4-3.5l.6 8.7l.4 6.2l.6 1.3l.4-4.2l.6-4.2l.4-.4l.6 6.4l.4-2.4l.6-7.8l.4 1l.6 17.7l.4 6.5l.6-6l.4 5.3l.6 7l.4-2l.6-7l.4 1.1l.6-5.6l.4-1.8l.6 5.9l.4-.5l.6 .4l.4-2.7l.6-1l.4-3.7l.6-3.3l.4-3.5l.6-.9l.4 4.3l.6 3.9l.4 .9l.6-2.1l.4-3.5l.6 9.9l.4 4.9l.6 2.2l.4 4l.6 .6l.4-2.1l.6 1.1l.4-.3l.6 2.8l.4 4.4l.6 4l.4 .6l.6 1.3l.4 2.7l.6 5.4l.4 8l.6-.3l.4-5.3l.6 4.1l.4 4.4l.6-1.2l.4-4.9l.6-4.5l.4-9.1l.6-3.7l.4 .2l.6 1.4l.4-.3l.6 7.3l.4 4.6l.6 8.7l.4 1.9l.6-.9l.4 1l.6-1l.4-3.4l.6-4l.4-4.1l.6-1.6l.4 3.9l.6 .6l.4 5.3l.6-9.5l.4 1.7l.6 .8l.4 1.5l.6-12l.4-8.8l.6-.1l.4 6.5l.6 6.4l.4-4.1l.6-4.6l.4 2.1l.6-1.8l.4-.6l.6-8.9l.4-10.2l.6-2.4l.4 0l.6 3.4l.4 .3l.6 3.5l.4-5.8l.6-2.8l.4 .4l.6-.3l.4-.4l.6 5.6l.4-1.8l.6 2.1l.4-1.4l.6 4.2l.4 5.3l.6 2.5l.4 0l.6 13.6l.4 17l.6 16.7l.4 .6l.6 .6l.4-13.5l.6-12.8l.4 4.5l.6-4.3l.4-7.5l.6 6.5l.4 .3l.6 1.2l.4 3l.6-7.7l.4-1.2l.6-1l.4 3.8l.6-4.7l.4 2.5l.6-6.3l.4 2l.6-1.6l.4 6.5l.6-4.6l.4 .1l.6-9l.4-6.2l.6-2.5l.4 3l.6-4.9l.4 3.4l.6-1.4l.4 2.4l.6 0l.4-5.1l.6 4.6l.4 2l.6 3.6l.4 6.5l.6 5.5l.4 2.2l.6-4.3l.4-6.3l.6-4.5l.4-2.3l.6-3l.4 2.3l.6 3.4l.4-3.1l.6 6.1l.4-3l.6-.4l.4 2.2l.6-10.6l.4 2.7l.6-1.8l.4-7.2l.6-10.2l.4-1.3l.6 .1l.4 6.2l.6-2.1l.4 3.5l.6-1.1l.4-.3l.6 3.4l.4-1l.6 4.8l.4-2.4l.6 3.1l1-4l.4-3.2l.6-2.6l.4-1.3l.6 1.9l.4 3.2l.6-.3l.4-.9l.6 2l.4-1.8l.6 6.9l.4 2.3l.6-6l.4 1.2l.6 1l.4 4.3l.6 .3l.4-3.7l.6-14.1l.4-7l.6-2.6l.4 3l.6 3.8l.4 1.3l.6 1.7l.4-1.7l.6-2.1l.4 .4l.6 4.1l.4-7l.6-1.8l.4-4.2l.6-2.5l.4-2.1l.6 2.3l.4-6.2l.6 .2l.4-3.3l.6-2.1l.4-7.7l.6 2.6l.4 7.7l.6 1.5l.4-.3l.6-3.5l.4 3.4l.6-5.2l.4 7.2l.6-3l.4-1.9l.6-7.5l.4-5.2l.6-3.5l.4 2.9l.6-.9l.4 1.1l.6 1.4l.4-1.8l.6 2.9l.4 .1l.6-2.4l.4 5.4l.6-5.1l.4 3.4" stroke="#28E2E5"/>
<path d="M75.8 419.2l45.4 0l.6-.4l.4-1.2l.6 .1l.4 .6l.6-1l.4 .9l.6-.3l.4 1.1l.6-1.8l.4 1.6l.6-.6l.4-.8l.6-.3l.4 .4l.6-1.4l.4-.4l.6 .3l.4 1.4l.6-.5l.4 1.4l.6-.2l1-.8l.4 .8l.6-1l.4 .5l.6 0l.4-.6l.6-1.9l.4-.2l.6 .8l.4-1.5l.6-.5l.4 .2l.6-.9l.4 .1l.6 .4l.4-.7l.6 1.1l.4 .6l.6 1.7l.4 .5l.6 .3l.4 1l.6-.7l.4-.1l.6-.6l.4 1l.6-.1l.4 .4l.6 .9l.4 0l.6 .8l.4-.2l.6-.4l.4 1.4l.6-.8l.4 .7l.6-2.9l.4-.9l.6-2.3l.4 .8l.6-1.2l.4-.6l.6 .1l.4-.8l.6-.3l.4-.7l.6-.6l.4-.1l.6-1.6l.4-.4l.6 .5l.4-1.1l.6-.5l.4 .2l.6-.5l.4-.9l1 1.2l.6-1.2l.4 .8l.6 0l.4-1.6l.6-.9l.4-.1l.6 .6l.4-.1l.6-.9l.4-.9l.6 .2l.4-2.6l.6 .6l.4-1.2l.6 .1l.4-.9l.6 .6l.4 .3l.6 .2l.4 .5l.6 .7l.4-.7l.6 .6l.4-.1l.6-.8l.4-.4l.6-1.6l.4-1.2l.6-2l1 .6l.4 .2l.6-2.2l.4 .7l.6-1.8l.4-.8l.6-.7l.4 .5l.6 0l.4 .7l.6 .1l.4-.7l.6-1.2l.4-.2l.6-1.2l.4 .2l.6 1.3l.4-1l.6-.4l.4-1l.6 6l.4 3.1l.6 .8l.4 .7l.6-.7l.4 .5l.6-1.3l.4 .6l.6 .8l.4-1l.6 .9l.4-1.6l.6-.6l.4-.8l.6-.5l.4-.5l.6 .2l.4-1.4l.6-1.6l.4-1.2l.6 1.8l.4 .3l.6 .5l.4-.6l.6 .3l.4-.6l.6 1.3l.4-.1l.6-.7l.4 .7l.6-2.9l.4 .1l.6 .7l.4 .4l.6-.7l.4-1.3l.6 .5l1-2.2l.4 .1l.6-2.1l.4 .7l.6 0l.4 1.3l.6 .2l.4 .9l.6 .5l.4 2.2l.6-2.4l.4-1.7l.6-3.1l.4-.2l.6-.1l.4-.7l.6-.3l.4-2.1l.6 0l.4-.9l.6 .3l.4 .6l.6-.6l.4-1l.6 1.2l.4-1.4l.6 2.6l.4-.2l.6 1.1l.4-1.1l.6 2.1l.4 1.6l.6 .7l.4 1.1l.6-.2l.4 1.2l.6 .7l.4 .8l.6-.2l.4-.4l.6-.3l.4-1.4l.6-.8l.4 .5l.6-1.3l.4-1.5l.6-1.4l.4-.8l.6-1.3l.4-.8l.6-.8l.4 1.7l.6-1.5l.4 0l.6-1.3l.4-.4l.6-.8l.4-1.8l.6-1.3l.4-.1l.6-.4l.4-1.1l.6 1.6l.4 .1l.6 1.4l.4 1.2l.6-.6l.4-.4l.6 .6l.4 1.1l.6 .2l.4 1.5l.6 1.1l.4 .3l.6-.7l.4 .2l.6-1.5l.4 .4l.6-.8l.4 .1l.6-1.4l.4-1.1l.6-2.1l.4 .5l.6 1.1l.4 0l.6-1.5l.4 1.6l.6-.3l.4-1.8l.6 1l.4 .2l.6-1.9l.4 1.3l.6 2l.4-.6l.6 1.1l.4 1.2l.6 .4l.4-1.8l.6-.3l.4 1.7l.6-.9l.4-.5l.6-1.7l.4 1.2l.6 .9l.4 .8l.6 .9l.4 2.9l.6 1.2l1-2.1l.4-1.5l.6 .4l.4-.6l.6-2.8l.4 .7l.6-1.8l.4 1.5l1-.7l.6 .3l.4 .5l.6 1.2l.4-.1l.6 2.5l.4-2.1l.6 .1l.4-.2l.6-1.3l.4 .1l.6-1.9l.4 1.9l.6 .5l.4 .8l.6 1l.4-1.5l.6-.2l.4-2.5l.6-.5l.4 .3l.6 .2l.4 1.3l.6-.9l.4-1.1l.6 2.5l.4 .1l.6-1.3l.4-.9l.6 1.4l.4 .1l.6-.3l.4-.4l.6 .1l.4 .9l.6-.7l.4 .9l.6 3.4l.4 .9l.6-2.3l1-.4l.4-1.4l.6-.6l.4-.4l.6 1.1l.4 1.2l.6-.4l.4-.2l.6-1.6l.4-2.5l.6-1.5l.4-.3l.6-.6l.4-.3l.6-.7l.4-2.1l1-.8l.6 1.5l.4 0l.6-2.7l.4-1.5l.6 1.1l.4-1.3l.6 1.5l.4-1.1l.6-2.2l.4-2l.6 .4l.4 1.1l.6 1.7l.4-.3l.6-.9l.4 2.7l.6 .5l.4-1.4l.6-2.1l.4 2.1l.6 .5l.4-2.5l.6-.1l.4-1.8l.6 .1l.4 .2l.6-1.1l.4-1.8l.6-.7l.4-1.7l.6 .9l.4-2.6l.6 1.2l.4 1l.6 .3l.4-.3l.6 1l.4-1.9l.6 1.3l.4-.8l.6 2.8l.4 .4l.6-.1l.4-1.6l.6-2.2l.4 1.5l.6-.9l.4-1.9l.6 .7l.4-.3l.6-.8l.4 1l.6-2.8l.4 .5l.6-2.4l.4-2l.6 1.9l.4-1.7l.6-3.1l.4 1l.6 1.7l.4-1.1l.6-1.3l.4 .9l.6 .4l.4 .2l.6 .1l.4-.8l.6 .3l.4 0l.6-.2l.4 3.5l1 1.3l.6 0l.4 .9l.6-.5l.4 .9l.6 .6l.4-2.3l.6 2.6l.4 .5l.6 .2l.4-1.2l.6 3l.4 2.7l.6-.5l1 1.2l.4 1l.6 0l.4 2.9l.6-1.4l.4 .5l.6-.5l.4 .4l.6-.4l.4-1.2l.6-1.9l.4-1.1l.6-2.7l.4 1.3l.6-4.4l.4-2.2l.6 .1l.4-3l.6-2l.4 1l.6-1.1l.4 1.1l.6-1l.4 0l.6 .3l.4 1.1l.6-1.8l.4 2.5l.6 2l.4-.2l.6 2.2l.4 0l.6 1.7l.4 1l.6 2.2l.4 .1l.6-2.4l.4 1l.6-1.2l.4 1.6l.6 .3l.4 2.8l.6 .7l.4-.1l.6 2.1l.4-2l.6-.7l.4 .8l.6 .6l.4 .7l.6-1.1l.4-1l.6 .8l.4-.7l.6 .5l.4 1.2l.6-.7l.4 .9l.6-1.9l.4-.8l.6 1.8l.4-.1l.6 5.4l.4 1.3l15.6 0l.4-6.4l.6-2l.4 7.3l.6 1.6l6 0l.4 .3l8.6 .4l1 .9l.4 .1l28 .1l.6 2.3l.4-.1l.6 2.1l.4-.1l.6 .5l.4 1.1l.6-1.4l.4 .8l.6-2l.4 2.1l.6 1.5l.4-.3l.6-1.1l.4 1.6l.6 1l.4 0l.6-1.6l.4-.1l.6-1.3l.4 2.8l.6-.1l.4-1.5l.6-1.1l.4 4.5l.6 3.7l.4 3.8l8 0l.6-.1l.4-2.2l.6-1.1l.4-.6l.6-.1l.4 2l.6 1.2l.4 2.7l.6 .5l.4 .9l.6 1.4l.4 .3l.6-.7l.4 1.4l.6 .6l.4-.6l2.6 .2l.4 .7l.6 .5l.4 1.7l98.6 0l.4 .3l1 1l13.6 0l.4-.6l.6-1.8l.4-.2l.6 .5l.4 1.6l.6 1.4l.4 .3l.6 1.5l.4-1.4l.6 2.3l.4-.7l.6 .2l.4-1.3l.6-.8l.4-1l.6 .6l.4 .3l.6-.5l1 1.5l.4 .7l.6 .8l.4-.3l.6 1.1l.4-.5l.6-1.5l.4-.2l.6-.7l.4 .1l.6 .3l.4-.8l.6-.1l.4-.6l.6 .2l.4-.3l.6 .1l.4 .3l.6-.4l.4-.5l.6 .3l1-1.1l.4 1.5l.6-.1l.4 2l.6 0l.4-.4l.6-1.1l.4-.9l.6 .1l.4 1.2l.6 1.4l.4-.7l.6 .4l.4 .5l.6 .4l.4 1l.6 .3l.4 .9l.6-1.3l.4 .3l.6 1.7l.4 .2l.6-.8l.4 .4l.6-.5l.4 .9l.6 2.2l51.4 0l.6 .1l1 1.3l.4 .2l9.6 0l.4-1.4l.6-1.7l.4 .3l.6-.8l.4-.4l.6-1l.4-.4l.6-.1l.4 .9l.6 .5l.4-.1l.6-.8l.4-.4l.6 .4l.4-.2l.6 1.1l.4-.7l.6 .8l.4 2l.6 .3l.4 1.5l.6 .9l.4-.3l.6 .5l.4 1.6l.6 .8l.4-.2l.6 1.3l.4 .3l.6 .4l.4-1.3l.6-.6l.4-1.7l.6-1l.4 .9l.6 .1l.4-.9l.6 1.3l.4-.4l.6 0l.4 .5l.6 1.2l.4-.3l.6-1.4l.4-1.1l.6-.9l.4-.1l.6-.2l.4 1.6l.6 .7l.4 1.8l.6 1.5l.4-.7l.6 .5l.4 .7l.6-.7l.4-.1l.6-2.2l.4-1.5l.6-2.2l.4-2.4l.6-.7l.4-1.2l.6-1.3l1-1.5l.4-1.1l.6-.5l.4-.6l1-1.5l.6 .6l.4-1.8l.6-.3l.4-1.7l.6 .1l.4-1.8l.6 .6l.4-1.1l.6-.4l.4 .9l.6 .1l.4 1l.6 0l.4-.4l.6-1.1l.4 .4l.6 .3l.4 1.3l.6 1l.4 1.5l.6-1.6l.4 0l.6-1l.4 .3l.6-2.2l.4 .1l.6-2l.4-.9l.6-1.5l.4-.2l.6-.6l.4 .2l.6 1.4l.4 1.3l.6 .5l.4 1l.6 0l.4 .7l.6 .9l.4 .9l.6-.6l.4 .6l.6 .2l.4 .1l.6 1l.4 2.3l.6-.9l.4-2.3l.6-3.5l.4-2.5l.6 .5l.4-2.1l.6-1.8l.4-1.8l.6-1.3l.4-1.1l.6-3.2l.4-.7l.6-.3l.4-2.4l.6-2l.4-3.2l.6-1.5l1-1.5l.4-.2l.6-1.5l.4 .9l.6 .7l.4 1l.6 1.4l1-1.6l.4 2l.6 .7l.4 .3l.6-.6l.4-.8l.6 .2l.4 1.2l.6 2.6l.4-.8l.6 3.4l.4-1.5l.6-1.9l.4-1.4l.6-1.2l.4-3.4l.6-1l.4-2l.6 .1l.4-.1l.6-.7l.4 .6l.6 1.9l.4 .9l.6-2.3l.4-3.6l.6 2.6l.4 1.2l.6 .7l.4-1.1l.6-.9l.4 .2l.6 .6l.4-3l.6-.9l.4 .4l.6-2.1l.4 2.8l.6-3.3l.4-4.9l.6-3.1l.4-3.6l.6 3.4l.4 3.6l.6 4.9l.4 1.2l.6-2.2l.4-.8l.6-.9l.4-1.1l1-1.6l.6 .7l.4-.5l.6 .1l.4 .2l.6 .4l.4-.3l.6 .4l.4-.2l.6-.2l.4-.2l.6-2.2l.4 .4l.6-.1l.4 2.5l.6 .2l.4 2.4l.6 2.9l.4-.4l.6 1.1l.4-.6l.6 0l.4 1.1l.6-2.6l.4-1l.6 1l.4-.5l.6-3l.4 .2l.6-2.3l.4 2.5l.6-.8l.4-2.2l.6 0l.4 1.4l.6-1.9l.4-.7l.6 0l.4 1.1l.6 2.2l.4-.4l.6-1.2l.4-.7l.6-2.5l.4-4.2l.6-7.4l.4-4.4l.6 2.3l.4 4.2l.6 1.2l.4 .6l.6 2.1l.4 1.2l.6-.3l.4-1l.6-2.8l.4-1l.6 .9l.4 3l.6 1.9l.4 1l.6 .5l.4-2.9l.6-2.9l.4-1.3l.6-3.4l.4-1.4l.6-2.1l.4 1.2l.6 .4l.4-1.7l.6-1.2l.4-.9l.6 1.6l.4 .2l.6-.9l.4-2.4l.6-.4l.4 1.2l.6 1.9l.4 1.5l.6 4l.4-2.8l.6-3.5l.4-2.3l.6-.7l.4-1.3l.6-.3l.4-2.3l.6-2.1l.4-3.8l.6 2.2l.4 4.5l.6 3.9l.4-2.3l.6-1.6l.4-5.9l.6-3.5l.4-3.8l.6-2.3l.4 0l.6 2l.4 5.8l.6 7.7l.4 1.8l.6-.4l.4 3.4l.6-.4l.4 2.3l.6-4.4l.4-1.4l1 1.4l.6 .9l.4 1.8l.6 1.3l.4-2.5l.6 .2l.4-1l.6 0l.4 3.1l.6 2.7l.4 1l.6 .1l.4-.7l.6 .2l.4 2.9l.6 1.1l.4 3.7l.6 1l.4 1.2l.6-.4l.4-.7l.6-2.7l.4-1.9l.6-3l.4 1.6l.6-1.2l.4-1.8l.6-.6l.4 .4l.6 1.5l.4 3.6l.6 .6l.4-1.6l.6-4.1l.4-1.9l.6 .9l.4 1.1l.6 .4l.4-2.5l.6-3.4l.4-4.9l.6 .3l.4 2l.6 1.9l.4-2.5l.6-3.4l.4-3.7l.6-.7l.4-2.2l.6 1.9l.4 1.9l.6 1.2l.4 .4l.6-.3l.4 .7l.6 1.6l.4 .8l.6-2l.4-3.8l.6 .1l.4-.4l.6-.8l.4-1.5l.6-.4l.4 .7l.6-2.6l.4-3.9l.6-3l.4 .3l.6 3.2l.4 1.8l.6-3.6l.4-1l.6 2.3l.4 5.6l.6-1.9l.4-.5l.6-7.8l.4-6.9l.6-3.9l.4-3.6l.6 2.3l.4-2.5l.6-.4l.4-2.4l.6 8.8l.4-.2l.6-1.7l.4 5.1l.6 5.8l.4 .1l.6-4.6l.4-5.5l.6-4.5l.4-.6l.6-2.8l1 .4l.4 .6l.6-.8l.4-4.7l.6 9.8l.4 8l.6-1.4l.4-2.5l.6 .4l.4-1.7l.6 1.6l.4 6l.6 4.1l.4 0l.6 1l.4 1.8l.6-.4l.4 1.7l.6-1.2l.4 3.2l.6 6.3l.4 .4l.6 .6l.4 3.2l.6 .8l.4 3.6l.6 2.7l.4 .6l71 0l.6 .4l.4-1l.6-2.8l.4-2.1l.6 .3l.4 3.8l.6-2.7l.4 1.2l.6 1.9l.4 1l.6 .7l.4 .2l.6-.5l.4-1.3l.6-1.6l.4 2.2l.6 4.2l.4 2.8l.6-3.3l.4-2l.6-2.9l.4-1.2l.6-2.6l1 3.9l.4 3.1l.6-1.1l.4-2.3l.6-.3l.4-1.5l.6 1.6l.4-.9l.6-.7l.4 .4l.6 .5l.4-2l.6 1.1l.4 2.2l.6 1l.4-.9l.6 2.1l.4-.1l.6 1.1l.4 0l.6 1.6l.4-.4l.6 2.6l.4 3.5l.6-1.1l.4 .2l.6-1.8l.4 .9l.6 .5l.4 .5l.6 .9l.4-.7l.6 .2l.4 .8l.6-3.4l.4 3.6l.6 2.5l.4 3.8l.6-2.4l.4-.9l.6-.6l.4 2.5l.6 .8l.4 1.2l.6 1.7l.4-.9l11.6 0l.4 .2l.6-1.6l.4 0l.6-1l.4 .1l1 .5l.6 .6l.4-.2l.6-3l.4-.9l.6 1.1l.4-2.7l.6 .4l.4 1l.6-.8l.4 .7l.6 2.7l.4 2.9l.6-1l12.4 0l.6 .2l1 1l.4 .3l3.6 .7l.4 2.7l.6-.4l.4-.6l.6 .7l.4-1.6l.6-2.2l.4-2.3l.6 0l.4-1.1l.6 1.6l.4 2.1l.6-.9l.4-2.3l.6-1.1l.4-.6l.6 .2l.4-1.4l.6-1.1l.4 2.1l.6-1.7l.4-.4l.6 .4l.4 1.3l.6-.5l.4-.9l.6-1.2l.4-.6l.6 2.5l.4 2.6l.6 1.4l.4-.2l.6 1.5l.4-2.4l.6-2.8l.4 .1l.6 2.3l.4 .6l.6-2.6l.4-1.9l.6-3.6l.4-1.9l.6-1.6l.4-.2l.6 2.3l.4 .2l.6-.3l.4-.2l.6-.4l.4-3.7l.6-.7l.4 2.2l.6 2.6l.4 1.3l.6 1.4l.4 1.2l.6-1.2l.4-.3l.6 .5l.4 .2l.6-7.3l.4 2.5l.6 2.5l.4 1.3l.6-1.1l.4 3.1l.6-2.7l.4-.6l.6-2.4l.4-.9l.6 2l.4-1.3l.6 0l.4 3.7l.6 1.9l.4 .7l.6-.2l.4-.2l.6 1.2l.4-1.9l.6 3.4l.4-1l.6-2.1l.4 .3l.6-4.2l.4-.7l.6-.8l.4-2.3l.6-.2l.4 .4l.6-.3l.4-1.3l.6 .8l.4-1.3l.6-.1l.4 .1l.6-.9l.4 2.2l.6-1.9l.4 .2l.6-2.2l.4 .2l.6 .3l.4-1.3l.6 .6l.4-1.9l.6 .9l.4 .4l.6-.6l.4-2.3l.6 1.5l.4-3.4l.6-5.8l.4-1.3l.6-2.3l.4 3.2l.6 1.9l.4-3.8l.6-5.7l.4-2.7l.6-2.8l.4 .1l.6-2.6l.4-3.8l.6 1l.4 1.6l.6 3.6l.4 3.6l.6 1.1l.4-1l.6 .3l.4 2.6l.6-1.5l.4-3.5l.6 1.1l.4 3.9l.6 2.2l.4 2.8l.6 .6l.4-2.7l.6-2.1l.4-2.3l.6-2l.4 3.3l.6-3.2l.4-1.3l.6-3l.4-2.6l.6-2.3l.4 1.3l.6-.9l.4 5.9l.6 4.1l.4 6.6l.6 5.1l.4 .6l.6 .7l.4-2.6l.6-1.7l.4-.2l.6 2.1l.4-.1l.6-1.7l.4 2.8l.6 .5l.4-.6l.6-1.1l.4-2.4l.6-.9l.4-1.6l.6 2l.4 0l.6 3.2l.4-.9l.6 .3l.4-.3l.6-4.8l.4 1.1l.6 1.9l.4-1.5l.6-1l.4-1.5l.6-4.2l.4 .4l.6-2.9l.4-1.8l.6 .2l.4-2.4l.6-3.4l.4-1.2l.6 .1l.4-1l.6-1l.4 1.4l.6-1l.4 .3l.6-1.8l.4-1.3l.6-2.6l.4-.6l.6 .3l.4-1.6l.6 2.4l.4-3.6l.6-6.4l.4 2l.6 1.2l.4-.9l.6 .6l.4 2.2l.6 3l.4 .6l.6 5.2l.4 .1l.6-4l.4-4.4l.6-5.7l.4-3.2l.6-6l.4-.9l.6-1.5l.4 2.7l.6 4.5l.4 .2l.6-3.7l.4-4.2l.6-1.3l.4 5l.6 4l.4 6.3l.6 5.9l.4-5l.6-7l.4 .9l.6 1.3l.4-2.4l.6-.8l.4-.6l.6 1.2l.4 .5l.6 1.8l.4 3.7l.6-3.2l.4-5.4l.6 1l.4 1.9l.6-.9l.4-3.2l.6 2.4l.4-1.7l.6-2.8l.4 .8l.6-2.1l.4-1.3l.6 .6l.4-.6l.6 1.2l.4-.9l.6 .3l.4 0l.6 5.4l.4 1.3l.6 1l.4 3.2l.6 2.4l.4 .2l.6 1.4l.4-6.8l.6-.1l.4-2.7l.6 .6l.4 10.2l.6 5.2l.4 2.3l1 .3l.6-1.1l.4-4l.6 1.5l.4 3.8l.6-3.5l.4-6.2l.6-4.8l.4 1l.6-3l.4-4.9l.6-4l.4 2.6l.6-.2l.4 1.8l.6 1.1l.4 3.3l.6 .5l.4-.7l.6 2.3l.4 2.9l.6-.4l.4 2.3l.6-2.4l.4-.5l.6-3.7l.4-1.5l.6-1l.4 .5l.6-1.4l.4 .1l.6-3.8l.4-.9l.6-6.2l.4-5.7l.6-3l.4-4.6l.6-2.1l.4 4.6l.6 8.3l.4-.4l.6 1.4l.4 2.4l.6-5.4l.4-7l.6 1.2l.4 1.5l.6 2.1l.4-2.1l.6-1.5l.4 4.9l.6 3.3l.4-2.8l.6 6.8l.4 4.2l.6-.2l.4-3.5l.6-2.6l.4-.3l.6 5.1l.4-1.8l.6-7.6l.4 1.2l.6 13.3l.4 3.6l.6-4.4l.4 3.2l.6 5.2l.4-1.8l.6-5.1l.4 1.4l.6-2.4l.4-.7l.6 2.9l.4-.9l.6 .4l.4-1.5l.6-1l.4-2.7l1-4.1l.6-.6l.4 2.7l.6 2.5l.4 .6l.6-1.2l.4-2l.6 5.8l.4 2.9l.6 1.1l.4 2.3l.6 .2l.4-.5l.6 1.6l.4 .7l.6 1.9l19.4 0l.6 .7l.4 4.2l.6 3.8l.4-2.4l.6-2.6l.4 1.3l.6 .1l.4 2.4l.6-2.3l.4-2.9l.6-.8l.4 0l.6 2.1l.4 .6l.6 2.1l.4-3.3l.6-1.7l.4 .3l.6-.1l.4 .2l.6 3.5l.4-.8l.6 1l.4-.9l.6 3.5l.4 3.7l.6-.2l.4-.8l13.6 0l.4-3.3l.6-.5l.4 2.8l.6-2.4l.4 2.5l.6-.1l.4 1.8l.6 .6l.4-2.1l.6 2.1l.4 .3l.6 1.3l.4 1.6l.6 5l.4 1.9l.6-1.6l.4-2.7l.6-2.6l.4 .4l.6-.9l.4 1.9l.6 2.2l.4-2.2l.6 2.7l.4-2.2l.6 .1l.4 2.1l.6-4.5l.4 2.4l.6 0l.4-2.8l.6-4.6l.4-.9l.6-.1l.4 3l.6-1.2l.4 1.8l.6-.3l.4-.5l.6 1.7l.4-.8l.6 2.3l.4-1.5l.6 1.4l.4-.9l.6-.9l.4-1.5l.6-1.4l.4-.6l.6 1l.4 1.8l1-.1l.6 .8l.4-1l.6 3.5l.4 1.2l.6-3.4l.4 .5l.6 .3l.4 1.2l.6-1.9l.4-5l.6-4.7l.4-1.8l.6-.2l.4 2.1l.6 2.8l.4 .4l.6 1l.4-1.3l.6-2.2l.4 .1l.6 3l.4-3.7l.6-1.4l.4-2.4l1-1.2l.6 1.4l.4-3.2l.6-.2l.4-2.8l.6-.2l.4-3.9l.6 1.5l.4 3.9l.6-1.3l.4 1.8l.6-1.9l.4 1.7l.6-2.7l.4 3.8l.6-1.4l.4-.7l.6-3.5l.4-2.3l.6-1.1l.4 0l.6-1.2l1 2.2l.4-1.8l.6 1.3l.4 .5l.6-1.4l.4 2l.6-2.4l.4 2.9" stroke="#2297E6"/>
<path d="M75.8 418.8l.4 .7l.6 1l.4-1.1l.6 .6l.4-.1l.6 1.1l.4-.4l.6-1.1l.4 2l.6-.2l.4 .2l.6 .4l.4-.9l.6 .6l.4 .2l.6 .3l.4 .6l.6-.2l.4 0l.6 .7l.4-1l.6 .4l.4 1.1l.6-.4l.4 .6l.6-1l.4-.2l.6 0l.4 .7l.6-.6l.4-1.1l.6 .6l.4-.7l1 .6l.6-.7l.4-.8l.6 1l.4-1.3l.6-.5l.4 .1l.6 .1l.4-1.2l.6 .9l.4-.1l.6-.3l.4-.9l.6 .6l.4 1l1 1.5l.6 .7l.4 1l.6 .3l.4-.4l19 0l.6-.3l.4 .3l.6-1l.4 .6l.6-.3l.4 .8l.6-1.8l.4 1.3l.6-.7l.4-.8l.6-.5l.4 .2l.6-1.4l.4-.5l.6 .1l.4 1.1l.6-.6l.4 1.2l.6-.4l1-1.1l.4 .7l.6-1.1l.4 .3l.6-.2l.4-.7l.6-2l.4-.2l.6 .7l.4-1.5l.6-.4l.4 .2l.6-.9l.4 0l.6 .5l.4-.7l.6 1.1l.4 .5l.6 1.8l.4 .4l.6 .3l.4 1l.6-.7l.4-.1l.6-.5l.4 .9l.6-.1l.4 .4l.6 .8l.4 .1l.6 .8l.4-.3l.6-.3l.4 1.3l.6-.8l.4 .8l.6-2.8l.4-.9l.6-2.2l.4 .7l.6-1l.4-.7l.6 .2l.4-.8l.6-.3l.4-.7l.6-.5l.4-.1l.6-1.5l.4-.4l.6 .5l.4-1l.6-.6l.4 .3l.6-.5l.4-.9l1 1.3l.6-1.2l.4 .8l.6 0l.4-1.6l.6-.8l.4-.1l.6 .7l.4-.2l.6-.8l.4-.9l.6 .2l.4-2.5l.6 .7l.4-1.2l.6 .1l.4-.8l.6 .5l.4 .3l.6 .2l.4 .5l.6 .6l.4-.6l.6 .5l.4-.1l.6-.8l.4-.4l.6-1.5l.4-1.3l.6-1.9l1 .6l.4 .1l.6-2.2l.4 .7l.6-1.7l.4-.8l.6-.7l.4 .5l.6-.1l.4 .7l.6 0l.4-.6l.6-1.2l.4-.2l.6-1.2l.4 .2l.6 1.1l.4-.9l.6-.4l.4-1l.6 6l.4 3.1l.6 .8l.4 .6l.6-.7l.4 .3l.6-1.3l.4 .6l.6 .7l.4-1.1l.6 .9l.4-1.6l.6-.7l.4-.8l.6-.6l.4-.5l.6 .2l.4-1.5l.6-1.6l.4-1.3l.6 1.8l.4 .2l.6 .4l.4-.6l.6 .3l.4-.7l.6 1.3l.4-.1l.6-.7l.4 .7l.6-2.9l.4 .1l.6 .7l.4 .4l.6-.8l.4-1.2l.6 .4l1-2.1l.4 0l.6-2l.4 .7l.6 0l.4 1.2l.6 .2l.4 .9l.6 .4l.4 2.2l.6-2.4l.4-1.7l.6-3.1l.4-.2l.6 0l.4-.8l.6-.3l.4-2.1l.6-.1l.4-.8l.6 .3l.4 .5l.6-.6l.4-1l.6 1.2l.4-1.4l.6 2.7l.4-.3l.6 1.1l.4-1l.6 2l.4 1.6l.6 .8l.4 1.1l.6-.2l.4 1.2l.6 .7l.4 .9l.6-.2l.4-.5l.6-.2l.4-1.4l.6-.7l.4 .5l.6-1.3l.4-1.5l.6-1.3l.4-.8l.6-1l.4-.6l.6-.6l.4 1.8l.6-1.2l.4 .2l.6-1.1l.4-.2l.6-.6l.4-1.5l.6-1l.4 0l.6-.1l.4-1l.6 1.5l.4 .2l.6 1.2l.4 1.1l.6-.5l.4-.4l.6 .6l.4 1l.6 .1l.4 1.5l.6 1l.4 .3l.6-.7l.4 .1l.6-1.4l.4 .4l.6-.7l.4 0l.6-1.4l.4-1l.6-2l.4 .4l.6 1.1l.4 0l.6-1.5l.4 1.5l.6-.3l.4-1.7l.6 .9l.4 .2l.6-1.8l.4 1.2l.6 1.9l.4-.6l.6 1l.4 1.1l.6 .2l.4-1.7l.6-.3l.4 1.7l.6-.8l.4-.5l.6-1.5l.4 1.2l.6 .9l.4 .8l.6 .9l.4 2.9l.6 1.1l1-1.9l.4-1.3l.6 .4l.4-.6l.6-2.5l.4 .7l.6-1.7l.4 1.5l1-.5l.6 .3l.4 .5l.6 1.2l.4 0l.6 2.4l.4-2l.6 .2l.4-.2l.6-1.1l.4 .1l.6-1.7l.4 1.9l.6 .5l.4 .8l.6 1l.4-1.4l.6-.2l.4-2.2l.6-.5l.4 .4l.6 .3l.4 1.2l.6-.8l.4-.9l.6 2.3l.4 .2l.6-1.2l.4-.7l.6 1.3l.4 .1l.6-.2l.4-.3l.6 .1l.4 .9l.6-.6l.4 .9l.6 3.2l.4 .9l.6-2.1l1-.3l.4-1.2l.6-.5l.4-.3l.6 1l.4 1.2l.6-.3l.4-.2l.6-1.4l.4-2.2l.6-1.4l.4-.3l.6-.6l.4-.3l.6-.7l.4-1.9l1-.8l.6 1.4l.4-.1l.6-2.5l.4-1.4l.6 .9l.4-1.2l.6 1.4l.4-1.1l.6-2l.4-1.9l.6 .3l.4 1.1l.6 1.7l.4-.3l.6-.8l.4 2.6l.6 .5l.4-1.3l.6-1.9l.4 1.9l.6 .5l.4-2.2l.6 0l.4-1.6l.6 .1l.4 .2l.6-1l.4-1.6l.6-.6l.4-1.4l.6 .8l.4-2.1l.6 1.5l.4 1.2l.6 .7l.4 .1l.6 1.3l.4-1.4l.6 1.5l.4-.3l.6 2.9l.4 .7l.6-.1l.4-1.7l.6-2.3l.4 1l.6-1.1l.4-2l.6 .2l.4-.5l.6-1.1l.4 .6l.6-2.9l.4 .1l.6-2.5l.4-2.3l.6 1.4l.4-1.9l.6-3l.4 .9l.6 1.5l.4-1l.6-1.2l.4 .8l.6 .5l.4 .1l.6 .1l.4-.7l.6 .3l.4 0l.6-.1l.4 3.2l1 1.3l.6 0l.4 .9l.6-.5l.4 .9l.6 .6l.4-2.1l.6 2.5l.4 .4l.6 .3l.4-1.1l.6 2.8l.4 2.5l.6-.4l.4 .6l.6 .2l5.4 0l.6-.4l.4 1.1l.6-4l.4-2.1l.6 .1l.4-2.7l.6-1.9l.4 .7l.6-1l.4 .9l.6-1l.4-.1l.6 .6l.4 1.3l.6-1.2l.4 2.5l.6 2.1l.4 .1l.6 2.3l.4 .3l.6 1.8l.4 1.2l.6 2.2l.4 .4l.6-1.8l.4 1.3l.6-.8l.4 .6l27.6 0l.4-5.1l.6-1l.4 6.8l.6 1.5l6 0l.4 .1l3.6 1.8l2.4 1.9l1.6-.5l.4-.2l1-1l.6 .4l.4 .7l.6 .7l1.4 .8l.6 .1l17 .5l.4 .2l1.6 1l.4 .1l4 0l.6-.5l.4-1.5l.6-.3l.4-.4l.6 1.7l.4-.7l.6 .8l.4-1.3l.6-.2l.4-.7l.6 .5l.4 1.8l.6-1.4l.4 1.9l.6 .5l.4-1.3l.6-2.2l.4 1l.6 1.1l.4-.1l.6-1.6l.4 .3l.6-.7l.4 3.2l.6 .4l.4-3.7l.6-3.4l.4 2.6l.6 3.5l.4 8.5l3.6 .4l.4 .2l.6 .5l.4 1l.6 .9l.4 .5l2 .3l.6-.1l.4-2.2l.6-1l.4-.3l.6 .2l.4 1.4l.6 .4l.4 2l.6 .4l.4 .7l.6 1.2l.4 .2l.6-.8l.4 1.1l.6 .5l.4-.6l2.6 0l.4 .5l.6 .1l.4 1.3l40 0l2 .4l2 .7l.6 .1l4.4 .7l1 .2l18 0l.6-1l.4-.1l.6 0l.4-.9l.6 .3l.4-1.3l.6 1.3l.4 .4l.6 1.7l3.4 1.1l.6 .1l18.4 0l.6 .8l.4-1.6l.6 .2l.4-.9l.6-.1l.4-.9l.6-.2l.4-.7l.6 1l.4 2.5l.6 0l.4 1l.6 .4l.4 1.6l11 0l.6-1l.4-.2l.6-1.4l.4 .1l.6 .5l.4 1.6l.6 1.4l.4 .3l.6 1.3l.4-1.2l.6 2.1l.4-.7l.6 .2l.4-1.1l.6-.8l.4-.9l.6 .5l.4 .2l.6-.3l1 1.4l.4 .6l.6 .8l.4-.3l.6 1l.4-.4l.6-1.5l.4-.6l.6-1.1l.4-.4l.6 .1l.4-.7l.6-.1l.4-.5l.6 .2l.4-.3l.6 .1l.4 .3l.6-.3l.4-.5l.6 .3l.4-.5l.6-.4l.4 1.4l.6 0l.4 1.7l.6-.2l.4-.5l.6-1.1l.4-1l.6 .1l.4 1.1l.6 1.3l.4-.6l.6 .4l.4 .4l.6 .3l.4 1l.6 .2l25.4 0l.6-.7l.4 .1l.6 .8l.4 .7l.6-.2l.4-1.3l.6-.9l.4 1.8l.6 3.3l.4-.3l.6-.5l.4-1.4l.6 0l.4 1.4l.6-1.2l.4 1.5l.6-1.3l.4-.8l.6-.5l.4-.8l.6 .2l.4-.1l.6-.3l.4 .8l.6 1.2l.4-.6l.6 .5l.4-.4l.6-1l.4-.8l.6 1.4l.4 .6l.6-2.1l.4 1.2l.6-.1l.4 1l.6 .2l.4-.2l.6 .5l.4-.2l.6 .4l.4 .4l.6 0l.4-.5l.6 .4l.4-.3l.6-.6l.4-.2l.6 0l.4-.4l.6-.1l.4 .5l.6 .2l.4 .8l.6 .4l.4-1.1l.6-.5l.4 1.1l.6-.5l.4-1.7l.6-.9l.4-1.6l.6-2l.4 .1l.6 .7l.4 .6l.6 .2l.4 .4l.6 1l.4-.3l.6 .1l.4-.8l.6 .7l.4-.1l.6 .3l.4 .1l.6-.5l.4-.7l.6-1.5l.4-.9l.6-1.7l.4 .8l1-2.3l.6-.6l.4-1.9l.6-1.6l.4 .8l.6-.8l.4-.4l.6-1l.4-.3l.6 .1l.4 1.2l.6 .9l.4-.1l.6-.9l.4-.4l.6 .5l.4-.4l.6 1.3l.4-1l.6 .8l.4 2.2l.6 .5l.4 1.8l.6 1.3l.4-.2l.6 .6l.4 2.1l.6 1.1l.4 .1l.6 1.7l.4 .5l.6 .5l.4-1.9l.6-1l.4-2.3l.6-1.5l.4 .9l.6 0l.4-1.1l.6 1.4l.4-.4l.6 0l.4 .6l.6 1.4l.4-.3l.6-1.6l.4-1.5l.6-1l1-.5l.4 1.6l.6 .7l.4 1.9l.6 1.7l.4-.9l.6 .6l.4 .9l.6 0l.4 .7l.6-1.6l.4-1.8l.6-2.6l.4-2.7l.6-.7l.4-1.2l.6-1.3l.4-.7l.6-.7l.4-1.3l.6-.4l.4-.7l.6-.7l.4-.8l.6 .8l.4-2l.6-.2l.4-2.1l.6 0l.4-2.2l.6 .5l.4-1.5l.6-.5l.4 .9l.6 .1l.4 1.1l.6 0l.4-.4l.6-1.3l1 1.3l.4 1.7l.6 1.3l.4 2l.6-2l.4-.2l.6-1.2l.4 .2l.6-2.6l.4 .2l.6-2.2l.4-1l.6-1.7l.4-.1l.6-.6l.4 .1l.6 1.4l.4 1.3l.6 .4l.4 1.4l.6 .1l.4 .8l.6 1.2l.4 .9l.6-1l.4 .4l.6 0l.4-.1l.6 1.2l.4 2.7l.6-.9l.4-2.9l.6-4.3l.4-3.1l.6 .7l.4-2l.6-1.9l.4-2l.6-1.5l.4-1.3l.6-3.6l.4-.8l.6-.2l.4-2.6l.6-2.2l.4-3.4l.6-1.6l1-1.3l.4-.4l.6-1.8l.4 .8l.6 1.1l.4 1.4l.6 2l1-1.9l.4 2.2l.6 .7l.4 .4l.6-.7l.4-.8l.6 .1l.4 1.3l.6 2.7l.4-.7l.6 4.4l.4-1.3l.6-2.1l.4-1.5l.6-1.4l.4-3.8l.6-1.1l.4-2.3l.6 0l.4-.1l.6-.9l.4-.1l.6 .5l.4-.6l.6-2.5l.4-2.8l.6 4.3l.4 2.1l.6 1l.4-1l.6-1.2l.4-.4l.6 .1l.4-3.5l.6-.7l.4 .7l.6-2l.4 3.5l.6-3.3l.4-6.3l.6-5.5l.4-5.7l.6 4.6l.4 4.8l.6 5.6l.4 1.5l.6-2.5l.4-.9l.6-1l.4-1.1l.6-.8l.4-.8l.6 .9l.4-.7l.6 .1l.4 .2l.6 .4l.4-.4l.6 .3l.4-.4l.6-.4l.4-.3l.6-2.6l.4 .5l.6-.1l.4 2.8l.6 .3l.4 3l.6 3.6l.4-.2l.6 1.4l.4-.6l.6 .1l.4 1.4l.6-3l.4-1.2l.6 .9l.4-.5l.6-3.5l.4 .2l.6-2.7l.4 2.8l.6-1l.4-2.6l.6-.1l.4 1.5l.6-2.3l.4-.7l.6 .1l.4 1.4l.6 2.5l.4-.5l.6-1.6l.4-.9l.6-2.8l.4-4.8l.6-8.1l.4-4.6l.6 2.5l.4 4.6l.6 1.2l.4 .5l.6 2.2l.4 1.2l.6-.4l.4-1.3l.6-3.2l.4-1.2l.6 1.5l.4 4.3l.6 3.1l.4 2l.6 .5l.4-3.4l.6-3.3l.4-1.6l.6-4l.4-1.6l.6-2.5l.4 1.2l.6 .4l.4-1.9l.6-1.3l.4-1l.6 1.9l.4 .1l.6-1l.4-2.7l.6-.5l.4 1.5l.6 2.3l.4 2l.6 4.7l.4-3.2l.6-4l.4-2.6l.6-.8l.4-.7l.6 .4l.4-1.7l.6-1.5l.4-4.2l.6 1.8l.4 4.4l.6 3.6l.4-3.2l.6-2.6l.4-7.6l.6-4.9l.4-5.2l.6-3.4l.4-.1l.6 2.6l.4 6.9l.6 8.8l.4 .2l.6-2.3l.4 2.5l.6 .7l.4 3.8l.6-4l.4-.3l.6 .7l.4-.1l.6 .2l.4 1.3l.6 1.1l.4-1.1l.6 2l.4 .7l.6 1.8l.4 3.7l.6 2.2l.4 .5l.6-.6l.4-1.3l.6 .9l.4 3.2l.6 .3l.4 3.4l.6 1.9l.4 5.4l6.6 0l.4 .9l.6-1.8l.4-2.1l.6 .7l.4 1.3l.6 3.7l.4 .8l.6-.1l.4-1.1l.6 0l.4 1.6l.6 1.6l.4-2.4l.6-3.3l.4-3.7l.6-.4l.4-1.8l.6 1.9l.4 1.9l.6 1.2l.4 .5l.6-.2l.4 .6l.6 1.6l.4 .5l.6-2l.4-3.7l.6 .1l.4-.3l.6-.6l.4-1.8l.6-.8l.4 .2l.6-2.3l.4-3.5l.6-2.7l.4 .6l.6 3.5l.4 2l.6-3.4l.4-.9l.6 2l.4 5l.6-1.9l.4-.5l.6-7.3l.4-6.5l.6-3.5l.4-3.4l.6 2l.4-2.4l.6-.4l.4-2.2l.6 8.7l.4-.2l.6-1.7l.4 4.5l.6 4.9l.4 .1l.6-4l.4-4.8l.6-4.1l.4-.8l.6-2.8l.4 .1l.6 .1l.4 .5l.6-.8l.4-4.3l.6 9.7l.4 7.8l.6-1.5l.4-2.4l.6 .5l.4-1.6l.6 1.6l.4 5.9l.6 4.1l.4 0l.6 1l.4 1.6l.6-.1l.4 1.8l.6-.8l.4 1.1l.6 2.2l36.4 0l.6 2.5l.4 1l.6-1.2l.4-2.9l.6 1.6l.4-2.1l.6 2.1l.4 2.9l.6 1.5l.4-1.6l.6-.7l.4 .6l.6-.9l.4 .4l.6 1l.4 0l.6 .8l.4 2.4l.6 2l.4-.4l.6 0l.4 .3l.6 0l.4-.9l.6-.3l.4-1.1l.6 1.9l.4 4.7l.6-1.8l.4 1.5l.6 3.2l.4 1.3l.6-.2l.4 .8l.6 3.4l1-4.1l.4-3.4l.6-.7l.4 .4l.6 3l.4 2.4l.6-.7l.4 2.1l.6 1l.4 .9l.6 2.9l.4-.6l.6 1.5l.4-.9l.6-.8l.4-1.7l.6-.2l.4-.6l.6-1.1l.4 .8l.6-.9l.4-.5l.6-2.9l.4-.8l.6 .5l.4 1.7l.6 1.3l.4-4.5l.6-2.8l.4-2.4l.6-2l.4-2.7l.6 6l.4 1.3l.6 1l.4 .2l.6-.4l.4 0l.6-1l.4 2.1l.6-1.9l.4-4.1l.6-5.9l.4-3.7l.6 1l.4 4.6l.6-2.3l.4 1.2l.6 1.9l.4 .9l.6 .8l.4 .2l.6-.3l.4-.7l.6-1.1l.4 2.8l.6 5.2l.4 3.5l.6-5.2l.4-4.1l.6-5.4l.4-2.8l.6-2.6l.4 2.4l.6 2.5l.4 3.6l.6-1.3l.4-2.5l.6-.6l.4-2l.6 1.1l.4-1.4l.6-.7l.4 .4l.6 .5l.4-2l.6 1.1l.4 2.2l.6 1.2l.4-.6l.6 2.3l.4 .4l.6 1.8l.4 .5l.6 2l.4 .3l.6 3.6l.4 4.5l.6-.4l.4 .8l.6-1.4l.4 2.7l26.6 0l.4 .4l.6 .7l.4 1.4l.6-.9l.4 .1l.6 3.6l.4 3.9l.6-.9l12.4 0l.6 .1l.4 .6l.6 3.9l.4-.9l3.6-.3l.4 2.1l.6-.8l.4-.9l.6 .2l.4-1.7l.6-1.9l.4-2.1l.6 .2l.4-1.1l.6 1.6l.4 1.9l.6-1.1l.4-2.5l.6-1.2l.4-.6l.6 .1l.4-1.3l.6-1.1l.4 2l.6-1.6l.4-.4l.6 .4l.4 1.3l.6-.6l.4-.9l.6-1.1l.4-.5l.6 2.4l.4 2.5l.6 1.5l.4-.2l.6 1.4l.4-2.4l.6-2.7l.4 .1l.6 2.3l.4 .5l.6-2.5l.4-1.9l.6-3.6l.4-1.9l.6-1.6l.4-.3l.6 2.3l.4 .3l.6-.3l.4-.2l.6-.5l.4-3.6l.6-.7l.4 2.4l.6 2.9l.4 1.4l.6 1.1l.4 1l.6-1.4l.4-.2l.6 .5l.4 .1l.6-7.2l.4 2.4l.6 2.5l.4 1.4l.6-1.1l.4 3l.6-2.7l.4-.6l.6-2.3l.4-.9l.6 1.9l.4-1.2l.6-.1l.4 4l.6 2.1l.4 1l.6-.2l.4-.3l.6 1l.4-1.9l.6 3.1l.4-1.2l.6-2.1l.4 .3l.6-4.1l.4-.7l.6-.8l.4-2.2l.6-.3l.4 .4l.6-.3l.4-1.7l.6 .5l.4-1.1l1 .5l.6-.9l.4 2.1l.6-1.8l.4 .1l.6-2.1l.4 .1l.6 .3l.4-1.3l.6 .6l.4-1.8l.6 .8l.4 .2l.6-.8l.4-2.5l.6 1.5l.4-3.1l.6-5.4l.4-1.4l.6-2.2l.4 3.2l.6 1.9l.4-3.8l.6-5.6l.4-2.7l.6-2.5l.4 .3l.6-2.4l.4-3.5l.6 1.3l.4 1.6l1 6.5l.6 1.1l.4-1l.6 .3l.4 2.6l.6-1.6l.4-3.4l.6 1.1l.4 3.7l.6 1.9l.4 2.6l.6 .7l.4-2.5l.6-1.9l1-4.2l.4 2.8l.6-3.3l.4-1.1l.6-2.7l.4-2.4l.6-2l.4 1.6l.6-.7l.4 5.5l.6 3.9l.4 6.4l.6 5.1l.4 .8l.6 .8l.4-2.3l.6-1.5l.4-.2l.6 2l.4-.2l.6-2l.4 2.3l.6 .1l.4-.1l.6-.8l.4-2.1l.6-.7l.4-1.5l.6 1.9l.4 0l.6 3.7l.4-.3l.6 .8l.4-.3l.6-4.6l.4 1l.6 1.7l.4-1.2l.6-.6l.4-1.3l.6-3.9l.4 .4l.6-2.6l.4-1.7l.6 .1l.4-2.3l.6-3.3l.4-1.2l.6 0l.4-1l.6-.8l.4 1.4l.6-.8l.4 .4l.6-1.7l.4-1.3l.6-2.5l.4-.5l.6 .2l.4-1.5l.6 2.4l.4-2.3l.6-4.7l.4 1.9l.6 1.2l.4-.8l.6 .5l.4 2l.6 2.3l.4 .1l.6 4.6l.4-.2l.6-3.5l.4-3.7l.6-5.1l.4-2.6l.6-5.4l.4-.6l.6-1l.4 2.6l.6 4l.4 0l.6-3l.4-3.6l.6-1.1l.4 3.8l.6 3l.4 6l.6 5.7l.4-4.5l.6-6.4l.4 .9l.6 1.3l.4-2.2l.6-.9l.4-.6l.6 1.2l.4 .3l.6 1.5l.4 3.3l.6-2.8l.4-4.9l.6 1l.4 1.9l.6-.9l.4-3.2l.6 2.3l.4-1.7l.6-2.6l.4 .7l.6-2.1l.4-1.3l.6 .6l.4-.6l.6 1.3l.4-.9l.6 .3l.4 .1l.6 5.2l.4 1.1l.6 .8l.4 2.8l.6 2.1l.4 0l.6 1.4l.4-5.8l.6 .3l.4-2.6l.6 .6l.4 11.8l.6 4.6l4 0l.4-1.8l.6-3.1l.4 1.5l.6-1.9l.4-3.8l.6-2.9l.4 2.6l.6-.1l.4 1.5l.6 .6l.4 2.6l.6 .6l.4-.6l.6 1.7l.4 2.2l.6-.8l.4 1.5l.6-2.4l.4 2.5l.6-.3l.4-1.2l.6-.9l.4 .5l.6-1.1l.4 .3l.6-3l.4-.5l.6-3.9l.4-3.5l.6-2.7l.4-3.9l.6-1.7l.4 3.6l.6 6.2l.4-.7l.6 1l.4 2.1l.6-4.1l.4-5.4l.6 .6l.4 .9l.6 2.2l.4-1.4l.6-1.3l.4 3.7l.6 2.4l.4-2.7l.6 4.3l.4 3.1l.6 .4l.4-2.4l.6-2.1l.4-.2l.6 4.6l.4 2l.6 1.4l.4 .8l5.6 0l.4 1.4l.6-.3l.4-1.9l.6 1.3l.4 .1l.6-1.7l.4-2.1l.6-.9l.4 2.3l.6 2.2l.4 .7l.6-.7l.4-1.4l.6 4.9l.4-1.2l23 0l.6 .7l.4 2.8l.6 3.4l.4-2.1l.6-2.2l.4 1.2l.6-.3l.4 .9l.6-3.2l.4-3.9l.6-1l.4 0l.6 1.7l.4 .4l.6 1.8l.4-3.2l.6-1.7l.4 .6l.6 .2l.4 0l.6 3l.4-.8l.6 .8l.4-.9l.6 1.9l.4 2.8l.6 1.8l.4 .8l.6 1.5l.4 6l.6 6.9l11.4 0l.6-1.8l.4 .3l.6 1.3l.4 1.1l.6-2.5l.4 1.8l.6-.2l.4 1.3l.6-.4l.4-2.7l.6 2.2l.4 1.1l.6 1.8l.4 2.8l.6 2.3l.4 .9l.6-2l.4-2.9l.6-2.3l.4-1.3l.6-.9l.4 1.6l.6 1.9l.4-1.4l.6 2.6l.4-1.5l.6-.4l.4 .8l.6-4.7l.4 1.2l.6-.7l.4-3.1l.6-4.5l.4-.7l.6-.2l.4 2.7l.6-.9l.4 1.5l.6-.7l.4-.3l.6 1.7l.4-.1l.6 2.2l.4-1.4l.6 1.1l.4-.9l.6-.6l.4-1.3l.6-1.2l.4-.6l.6 .8l.4 1.5l.6 0l.4-.2l.6 1.1l.4-.7l.6 3.1l.4 1.1l.6-2.3l.4 .9l.6 .4l.4 1.7l.6-.1l.4-1.9l.6-6.5l.4-3.4l.6 1.2l.4-1l.6 2.3l.4 .4l.6 .9l.4-1.2l.6-2.1l.4 0l.6 2.4l.4-2.9l.6-.9l.4-1.9l.6-1.2l.4-.9l.6 1.3l.4-2.9l.6-.4l.4-2.5l.6 0l.4-3.2l.6 1.4l.4 3.5l.6-1.1l.4 1.7l.6-1.6l.4 1.5l.6-2.3l.4 3.3l.6-1.1l.4-.5l.6-3l.4-2l.6-1l.4-.1l.6-1.1l1 2.1l.4-1.4l.6 1.2l.4 .4l.6-1.3l.4 1.6l.6-2.3l.4 2.5" stroke="#61D04F"/>
<path d="M75.8 418.8l.4 .8l.6 1.1l.4-1.1l.6 .7l.4-.1l.6 1.2l.4-.3l.6-1l.4 2.1l.6-.2l.4 .3l.6 .5l.4-.7l.6 .6l.4 .4l.6 .4l.4 .7l.6-.1l.4 .1l.6 .8l.4-.8l.6 .5l.4 1.1l.6-.3l.4 .7l.6-.8l.4-.1l.6 .1l.4 .8l.6-.3l.4-.8l.6 .8l.4-.4l1 1l1-.9l.6 1.1l.4-.9l.6-.2l1 .6l.4-.8l.6 .9l.4 .2l.6 0l.4-.6l.6 .7l.4 .8l1.6 1.4l.4 .7l.6-.5l18.4 0l.6-.9l.4-1.8l.6-.2l.4 .4l.6-.8l.4 .6l.6-.3l.4 .8l.6-1.5l.4 1.2l.6-.6l.4-.7l.6-.4l.4 .2l.6-1.4l.4-.9l.6 .2l.4 1.3l.6-.2l.4 1.2l.6-.5l1-1.2l.4 .5l.6-1.2l.4 .3l.6-.1l.4-.7l.6-1.7l.4-.2l.6 .6l.4-1.3l.6-.4l.4 .2l.6-.7l.4 .2l.6 .5l.4-.6l.6 1l.4 .3l.6 1.5l.4 .3l.6 .2l.4 .8l.6-.6l.4-.1l.6-.4l.4 .8l.6-.2l.4 .4l.6 .6l.4 0l.6 .6l1-.4l.4 1.2l.6-.7l.4 .7l.6-2.5l.4-.9l.6-1.9l.4 .8l.6-.9l.4-.4l.6 .3l.4-.6l.6-.3l.4-.7l.6-.6l.4-.1l.6-1.4l.4-.3l.6 .4l.4-.9l.6-.5l.4 .3l.6-.5l.4-.6l1 1.6l.6-.7l.4 .9l.6-.1l.4-1.6l.6-1l.4-.4l.6 .6l.4-.1l.6-.7l.4-.7l.6 .3l.4-2.2l.6 .6l.4-.9l.6 .1l.4-.6l.6 .4l.4 .3l.6 .3l.4 .4l.6 .6l.4-.5l.6 .5l.4-.1l.6-.7l.4-.4l.6-1.3l.4-1l.6-1.6l1 1.4l.4 .6l.6-1.9l.4 .4l.6-1.7l.4-.9l.6-.7l.4 .5l.6 0l.4 .7l.6 0l.4-.5l.6-1l.4-.2l.6-1l.4 .1l.6 .8l.4-1l.6-.5l.4-1.1l.6 5.5l.4 2.8l.6 .5l.4 .3l.6-.6l.4 .5l.6-.9l.4 .7l.6 .7l.4-.7l.6 .9l.4-1.3l.6-.4l.4-.6l.6-.3l.4-.1l.6 .3l.4-.9l.6-1l.4-.8l.6 1.6l.4 .3l.6 .5l.4-.4l.6 .4l.4-.4l.6 1.1l.4 .1l.6-.5l.4 .7l.6-2.1l.4 .3l.6 .7l.4 .5l.6-.4l.4-.8l.6 .3l1-1.5l.4 .1l.6-1.6l.4 .6l.6 .1l.4 1l.6 .2l.4 .9l.6 .6l.4 1.9l.6-2l.4-1.5l.6-2.5l.4-.2l.6 .2l.4-.3l.6 0l.4-1.4l.6-.1l.4-.7l.6 .2l.4 .3l.6-.6l.4-.9l.6 .8l.4-1.2l.6 2.1l.4-.2l.6 .9l.4-.9l.6 1.5l.4 1l.6 .5l.4 .7l.6-.2l.4 .9l.6 .5l.4 .7l.6-.4l3 .4l.4 .4l.6-.8l.4-.3l.6-1.1l.4-.8l.6-.8l.4 1l.6-1.1l.4-.1l.6-1.1l.4-.3l.6-.7l.4-1.4l.6-1.1l.4-.2l.6-.4l.4-.9l.6 1.2l.4 .2l.6 1l.4 .8l.6-.5l.4-.3l.6 .4l.4 .8l.6 .1l.4 1.1l.6 .8l.4 .3l.6-.6l.4 .2l.6-1l.4 .3l.6-.5l.4-.2l.6-1.3l.4-1l.6-1.9l.4 .2l.6 1l.4 .2l.6-1l.4 1.1l.6-.3l.4-1.3l.6 .6l.4 .1l.6-1.4l.4 .9l.6 1.5l.4-.4l.6 .9l.4 .6l.6-.4l.4-1.7l.6-.3l.4 1.2l.6-.7l.4-.3l.6-.9l.4 1.2l.6 1l.4 .7l.6 .5l.4 2.1l.6 1l1-1.2l.4-.9l.6 .5l.4-.3l.6-1.9l.4 .5l.6-1.4l.4 1l.6-.3l.4-.2l.6 .5l.4 .6l.6 1.2l.4 .3l.6 2.2l.4-1.2l.6 .5l.4-.5l2 .7l2.6 1.1l.4 .1l2.6-.5l.4 0l2.6 .8l.4 .2l3.6 1.8l.4 .1l3.6 0l.4 1l.6-.2l.4-.2l.6-1l.4-1.5l.6-.9l.4-.1l.6-.3l.4-.1l.6-.4l.4-1.4l1-.7l.6 .8l.4-.1l.6-1.8l.4-.9l.6 .9l.4-.6l.6 1.2l.4-.5l.6-1.1l.4-1.7l.6-.8l.4 .4l.6 1.5l.4 .3l.6-.2l.4 1.9l.6 .2l.4-.9l.6-1.4l.4 1.3l.6 .2l.4-1.5l.6-.1l.4-1.1l.6 .1l.4 .1l.6-.6l.4-1.2l.6-.6l.4-1.1l.6 .4l.4-1.8l.6 .7l.4 .5l.6 .1l.4 .3l.6 1.5l.4-.3l.6 1.6l.4-.1l.6 1.5l.4 0l.6-.2l.4-1.2l.6-1.4l.4 .9l.6-.7l.4-1.3l.6 .4l.4-.4l.6-.9l.4 .3l.6-2l.4 .4l.6-1.3l.4-1.1l.6 1.3l.4-1l.6-1.8l.4 .7l.6 1.1l.4-.7l.6-.7l.4 .5l.6 .3l.4 .1l.6 0l.4-.4l.6 .1l.4 0l.6-.2l.4 2.2l.6 .4l.4 .5l.6 .2l.4 .8l.6-.2l.4 .8l.6 .2l10.4 0l.6 0l.4 .9l.6-2.7l.4-1.2l.6 .3l.4-1.6l.6-1l.4 .8l.6-.5l.4 .8l.6-.7l.4 0l.6 .2l.4 .9l.6-.8l.4 1.6l.6 1.2l.4 .2l.6 1.4l.4 0l.6 1.1l.4 .5l.6 1.9l.4 .5l.6-1l.4 1l.6-.3l26 0l.4-1.9l.6-.2l.4 .6l.6-1l.4-5l.6 .3l.4 3.5l.6 2.8l.4-.4l.6 1l.4 .4l.6 .6l.4-2l.6 .5l.4-1.1l.6-.5l.4 0l.6-.7l.4 1.3l.6 .3l.4-1.4l.6 .5l.4 .9l.6 .6l.4 1.2l.6 .8l.4 1.3l.6 .5l.4-1.5l.6 .4l.4-1.3l.6 1l.4 .1l.6 .9l.4-.1l.6-.8l.4-.9l.6-1.7l.4 .2l.6 1.6l1-.1l.4 .1l.6-.2l.4 .5l.6 1.4l17 0l.4 .6l.6-.6l.4 .8l.6 .5l.4 1.6l1-.6l1 .7l.6-1.1l.4-1.8l.6 0l.4 .4l.6-1.6l.4-.7l.6 .4l.4 .3l.6 .6l.4 .2l.6 0l.4-1.6l.6-.9l.4 0l.6 .8l.4 1.6l.6-.9l.4 1.1l.6 .1l.4-1.2l.6-1.4l.4 1l.6 .8l.4-1.2l.6 .2l.4 .6l.6-.1l.4 2.5l.6 .1l.4-3.4l.6-2.8l.4 3.7l.6 4.2l8.4 0l.6 .8l.4-1.1l.6-.4l.4 0l.6-.4l.4 1.4l.6 .7l.4 1.8l.6 .3l.4 .4l.6 .9l.4 .2l.6-.2l4 .5l.4 .6l.6 .3l.4 1.3l33 0l.6 .4l.4-.9l.6 1.4l.4 .2l.6-.4l.4-.1l.6 0l.4-1.3l.6-1.4l.4-.6l.6 1.2l.4 .5l.6-2.1l.4 .4l.6-.2l.4 .3l.6 .1l.4 .9l.6-.5l.4 .1l.6 .5l.4-.1l.6 .6l.4 .4l.6 .2l.4 .1l.6 1.5l.4-.2l1.6 0l.4 .1l2 1l.6 .2l16.4 .2l.6-.7l1 .1l.4-.8l.6 .2l.4-1.1l.6 .8l.4 .5l.6 1.4l3.4 .6l.6 .2l2.4 2l.6 .3l15.4 0l.6 .5l.4-1.3l.6 .1l.4-.7l.6 0l.4-.6l.6-.1l.4-.5l.6 .6l.4 1.7l.6 0l.4 .4l.6-.1l.4 1.3l.6 0l.4 .2l.6 .6l.4-.4l.6 .4l.4 .7l.6-.1l1-1.4l.4 .8l.6-.4l.4 .3l.6 .3l.4-.5l.6 .3l.4 1l.6-1.1l.4 .3l.6-.4l.4 0l.6-.3l.4 .2l.6-1.4l.4-.3l.6-1.1l.4-.1l.6 .4l.4 1.2l.6 1.1l.4 .3l.6 1.1l.4-.7l.6 1.6l.4-.3l.6 .2l.4-.4l.6-.8l.4-.6l.6 .5l.4 .2l.6-.4l2 1.8l.4-.3l.6 .6l.4-.5l.6-1.1l.4-.4l.6-.8l.4-.3l.6 .1l.4-.5l.6 0l.4-.4l.6 .2l.4-.1l.6 .1l.4 .2l.6-.2l.4-.5l.6 .2l.4-.4l.6-.3l.4 1.1l.6 0l.4 1.2l.6-.1l.4-.3l.6-.8l.4-.7l.6 .1l.4 .9l.6 1.1l.4-.3l.6 .2l.4 .3l.6 .3l.4 .7l.6 .1l32.4 0l.6 2.9l.4 1.7l.6-.7l.4-.1l.6 .2l.4-.1l.6 .6l.4 .4l.6 .2l.4 .6l.6 .8l.4-.6l.6 .1l.4-.5l.6-.9l.4-.9l.6 .5l.4-.1l.6-1.9l.4-.2l.6-1.1l.4-.4l.6-.7l.4-.7l.6 .3l.4-.2l.6 .3l.4 0l.6-.5l.4-.9l.6-.2l.4-.2l.6-.4l.4 0l.6 .2l.4-.2l.6 .1l.4 .5l.6 .3l.4 .8l.6 .1l.4-1l.6-.5l.4 .7l.6-.6l.4-1l.6-.4l.4-.9l.6-1.4l.4 0l.6 .5l.4 .5l.6 0l.4 .3l.6 .7l.4-.3l.6 0l.4-.6l.6 .6l.4 0l.6 .3l.4 .1l.6-.3l.4-.4l.6-1.1l.4-.6l.6-1.3l.4 .5l1-2l.6-.4l.4-1.4l.6-1.1l.4 .7l.6-.8l.4-.5l.6-.9l.4-.2l.6 .3l.4 1.1l.6 .8l.4-.1l.6-.8l.4-.3l.6 .3l.4-.2l.6 .9l.4-.7l.6 .6l.4 1.8l.6 .3l.4 1.3l.6 1l.4-.2l.6 .4l.4 1.2l4.6 .7l4.4 0l4.6 1.1l2.4 .7l.6-.3l.4-.6l.6-1.1l.4-1.2l.6-.4l.4-.9l.6-.8l1-1l.4-.8l.6-.3l.4-.5l1-1l.6 .5l.4-1.4l.6-.3l.4-1.3l.6 0l.4-1.4l.6 .4l.4-.9l.6-.2l.4 .7l.6 .1l.4 .9l.6 0l.4-.4l.6-.9l1 .8l.4 1.2l.6 .8l.4 1.4l.6-1.5l.4-.2l.6-1l.4 0l.6-1.8l.4 .2l.6-1.6l.4-.7l.6-1.2l.4-.3l.6-.6l.4 .2l.6 1.2l.4 1l.6 .4l.4 .9l.6 .1l.4 .6l.6 .8l.4 .6l.6-.6l.4 .3l.6 0l.4 0l.6 .7l.4 1.8l.6-.7l.4-1.8l.6-2.7l.4-1.9l.6 .5l.4-1.5l.6-1.3l.4-1.3l.6-1l.4-.8l.6-2.4l.4-.3l.6 .1l.4-1.4l.6-1.2l.4-2l.6-1.1l1-.8l.4-.1l.6-1l1 1.3l.4 .9l.6 1.2l1-1.1l.4 1.6l.6 .6l.4 .3l.6-.6l.4-.6l.6 .1l.4 .9l.6 1.9l.4-.6l.6 2.6l.4-1.1l.6-1.3l.4-1l.6-.8l.4-2.5l.6-.6l.4-1.5l1 .3l.6-.4l.4 .7l.6 1.8l.4 1l.6-1.6l.4-2.9l.6 1.7l.4 .3l.6-.4l.4-1.8l.6-1l.4 .1l.6 .5l.4-2.1l.6-.4l.4 .6l.6-1.7l.4 1.8l.6-3l.4-4.1l.6-2.8l.4-3l.6 3.6l.4 3.6l.6 3.7l.4 1l.6-1.7l.4-.5l.6-.7l.4-.8l1-1.2l.6 .5l.4-.3l.6 .2l.4 .3l.6 .3l.4-.2l.6 .3l.4-.2l.6-.3l.4-.1l.6-1.8l.4 .2l.6-.2l.4 1.7l.6 .2l.4 1.9l.6 2.3l.4-.2l.6 1l.4-.4l.6 0l.4 1l.6-1.1l.4 .1l.6 1.5l.4 .5l.6-1.3l.4 .9l.6-.9l.4 2.5l.6 .1l.4-1.6l.6-.2l.4 .8l.6-1.5l.4-.5l.6-.1l.4 .8l.6 1.5l.4-1l.6-1.7l.4-1l.6-2.1l.4-3.3l.6-3.9l.4-.4l.6 1.9l.4 3l.6 1l.4 .1l.6 1.1l.4 .4l.6-.5l.4-1.1l.6-2.3l.4-1l.6 .8l.4 2.6l.6 1.9l.4 1.2l.6 .4l1-3.9l.4-.8l.6-2.6l.4-1.1l.6-1.7l.4 .7l.6 .4l.4-.8l.6-.4l.4-.2l.6 1.4l.4 0l.6-.6l.4-1.8l.6-.3l.4 .8l.6 1.2l.4 1.1l.6 2.7l.4-2.2l.6-2.7l.4-1.9l1-1.6l.6-.2l.4-1.5l.6-1.3l.4-2.4l.6 1.9l.4 3.5l.6 3l.4-1.3l.6-1.3l.4-4.4l.6-2.7l.4-3.2l.6-2.3l.4-.1l.6 1.5l.4 4.1l.6 5.5l.4 1.6l.6 .3l.4 2.8l.6 .6l.4 2.3l.6-2l.4 0l.6 .6l.4 .3l15.6 0l.4 .5l.6-1.3l.4-1.5l.6 .3l.4 .8l.6 2.4l.4 .4l.6-.1l.4-1.1l.6-.3l.4 .7l.6 .7l.4-1.2l.6-1.9l.4-2.2l.6-.4l.4-1.4l1 2.3l.6 .7l.4 .3l.6 .3l.4 1l.6 1.5l.4 .3l.6-1.4l.4-2.6l.6 .1l.4-.2l.6-.5l.4-1.2l.6-.5l.4 .2l.6-1.7l.4-2.5l.6-2l.4 .4l.6 2.3l.4 1.3l.6-2.4l.4-.8l.6 1.2l.4 3.4l.6-1.3l.4-.4l.6-5l.4-4.3l.6-2.2l.4-2.4l.6 1.3l.4-1.5l.6-.2l.4-1.6l.6 5.4l.4 0l.6-1l.4 2.8l.6 3.2l.4 0l.6-2.7l.4-3.1l.6-2.7l.4-.3l.6-1.7l.4 .2l.6 .1l.4 .4l.6-.6l.4-2.9l.6 6.1l.4 5.2l.6-.9l.4-1.5l.6 .4l.4-.9l.6 1.2l.4 3.5l.6 2.4l35 0l.4 1l.6-2.5l.4-1.2l.6-1.8l.4-4.4l.6 1.1l.4 .6l.6 2.3l.4-4.1l.6-3.1l.4 1l.6-.2l.4 .7l.6-1.1l.4-2.7l.6 1.2l.4-2l.6 1.4l.4 2.1l.6 .8l.4-1.3l.6-.6l.4 .6l.6-1.3l.4-.3l.6 .3l.4 .9l.6 1.6l.4-.1l.6-.9l.4-1.5l.6 .7l.4 1l.6 0l.4-1.8l1-2.6l.6 2.3l.4 4.6l.6-1.9l.4 .9l.6 5.3l.4 .5l12.6 0l.4 .5l.6-1.6l.4 .1l.6 1.4l.4 3.7l.6 3.2l.4-3l.6-3.3l.4-2.9l.6-1.8l.4-2.3l.6 4.9l.4 .9l.6 .7l.4 .1l.6-.3l.4 0l.6-.9l.4 1.8l.6-1.6l.4-3.4l.6-4.9l.4-3.1l.6 .8l.4 3.7l.6-1.9l.4 1.1l.6 1.7l.4 .7l.6 .6l.4 0l.6-.4l.4-.6l.6-1l.4 2.4l.6 4.2l.4 3l.6-4.1l.4-3.1l.6-4.5l.4-2.5l.6-2.3l.4 2.4l.6 2.4l.4 3.4l.6-.9l.4-1.9l.6-.2l.4-1.4l.6 1.3l.4-.9l.6-.5l.4 .5l.6 .5l.4-1.5l.6 1.1l.4 2.1l.6 .6l.4-.8l.6 1.5l.4 0l.6 1l.4 .2l.6 1.5l.4-.3l23.6 0l.4 .3l.6-1.3l.4 .1l.6-.6l.4 .5l.6-.3l.4-.6l.6-.4l.4 .2l.6-2.2l.4-.8l.6 1l.4-2.5l.6 .3l.4 1l.6-.8l.4 .7l.6 4.1l.4 4.3l.6-.7l3.4 .2l.6-1l.4 .4l.6 .7l.4-1.3l.6 1.8l.4 .9l.6 2.1l.4-1.4l.6-.1l1 2.4l.4 .7l.6-1l.4-1.8l.6-.4l.4 .3l.6-.2l.4-.9l.6-1l.4 .6l.6 3.8l.4-1.3l.6-.2l.4 .5l2.6 .3l.4 1.9l.6-.8l.4-1l.6 .1l.4-1.8l.6-2l.4-2.1l.6 0l.4-.9l.6 1.5l.4 1.8l.6-1.1l.4-2.4l.6-1.2l.4-.7l.6 .1l.4-1.3l.6-1l.4 1.8l.6-1.5l.4-.3l.6 .4l.4 1.2l.6-.3l.4-.6l.6-1l.4-.7l.6 2.1l.4 2.4l.6 1.4l.4-.2l.6 1.4l.4-2.3l.6-2.7l.4 .1l.6 2.2l.4 .5l.6-2.4l.4-2l.6-3.6l.4-1.6l.6-1.2l.4-.1l.6 2.2l.4 .3l.6-.3l.4-.2l.6-.5l.4-3.5l.6-.8l.4 2.2l.6 2.5l.4 1.3l.6 1.4l.4 1.2l.6-1.2l.4-.2l.6 .5l.4 0l.6-7l.4 2.4l.6 2.5l.4 1.3l.6-1.1l.4 2.9l.6-2.5l.4-.7l.6-2.3l.4-.8l.6 1.8l.4-1.2l.6 0l.4 4.1l.6 2.4l.4 1.3l.6 1.2l2.4 0l.6-1.1l.4 1.1l.6-2.9l.4-.4l.6-.5l.4-1.8l.6-.1l.4 .5l.6-.1l.4-1.6l.6 .3l.4-1l1 .6l.6-.9l.4 1.9l.6-1.7l.4 0l.6-2l.4 .1l.6 .3l.4-1.2l.6 .4l.4-1.6l.6 .7l.4 .1l.6-.7l.4-2.3l.6 1.5l.4-2.4l.6-4.6l.4-1.2l.6-1.9l.4 2.8l.6 1.5l.4-3.2l.6-4.8l.4-2.4l.6-2.5l.4 0l.6-2.4l.4-3.4l.6 .8l.4 1.2l1 5.4l.6 1.2l.4-.7l.6 .5l.4 2.6l.6-1.3l.4-2.9l.6 1.1l.4 3.6l.6 2l.4 2.6l.6 .6l.4-2.4l.6-1.9l.4-2.1l.6-2l.4 2.5l.6-3.2l.4-.8l.6-2.4l.4-2l.6-2l.4 1l.6-1l.4 5.1l.6 3.7l.4 6.4l.6 6.3l13 0l.4 .4l.6-3.3l.4 .4l.6-2.3l.4-1.3l.6 .4l.4-1.6l.6-2.6l.4-1.2l.6-.2l.4-1.2l.6-1.2l.4 .8l.6-1l.4 .3l.6-1.2l.4-.6l.6-1.5l.4-.9l.6-.3l.4-1.3l.6 2.2l.4-2.7l.6-4.9l.4 1.7l.6 1.1l.4-.6l.6 .6l.4 1.7l.6 2l.4 .1l.6 4.1l.4-.1l.6-3.1l.4-3.3l.6-4.5l.4-2.7l.6-5.1l.4-.5l.6-.8l.4 2.3l.6 3.3l.4-.1l.6-3.2l.4-3.6l.6-1.3l.4 3.9l.6 3.2l.4 5l.6 4.8l.4-4.2l.6-5.8l.4 1l.6 1.4l.4-2.1l.6-.9l.4-.5l.6 .9l.4 .4l.6 1.5l.4 3.2l.6-2.8l.4-4.6l.6 1l.4 1.8l.6-.7l.4-2.6l.6 1.9l.4-1.5l.6-2.4l.4 .7l.6-1.7l.4-1.1l.6 .6l.4-.3l.6 1.2l.4-.8l.6 .2l.4 .1l.6 4.4l.4 1.3l.6 2.1l11.4 0l.6-5.3l.4 1.2l.6 0l.4 1.4l.6 .8l.4 2.5l.6 .9l.4 0l.6 .9l.4 1.2l.6-.8l.4 2.2l.6-1.4l.4 .9l.6-1.7l.4-.9l.6-.6l.4 .5l.6-1.1l.4 .1l.6-3.1l.4-.8l.6-4.5l.4-4.3l.6-2.3l.4-3.5l.6-1.7l.4 3.4l.6 6.1l.4-.6l.6 1l.4 2l.6-4l.4-5.3l.6 .7l.4 .9l.6 1.7l.4-1.7l.6-1.2l.4 4l.6 2.8l.4-1.9l.6 4.3l.4 4l.6 2.8l.4 .1l.6-2.3l.4-.5l.6 2.7l.4 4.6l.6 2.1l.4 3.1l35.6 0l.4-5.1l.6-.6l.4 3.6l.6 3.6l.4-2.1l.6-2.2l.4 .8l.6-.9l.4-.5l.6-4l.4-4.5l.6-1l.4 .3l.6 1.8l.4 .5l.6 1.7l.4-3.1l.6-1.6l.4 .4l.6 .2l.4 0l.6 2.9l.4-.7l.6 .8l.4-.7l.6 1.9l.4 2.5l.6 1.5l.4 .4l.6 8.9l.4 3l12 0l.6-.8l.4 .6l.6 1.3l.4 1.1l.6-2.4l.4 1.7l.6-.1l.4 1.1l.6-.5l.4-2.8l.6 2.2l.4 1.4l.6 1.7l.4 2.5l.6 2l.4 1l.6-1.8l.4-2.5l.6-2l.4-1.1l.6-.8l.4 1.5l.6 1.8l.4-1.5l.6 2.3l.4-1.5l.6-.4l.4 .8l.6-4.4l.4 1.4l.6-.7l.4-3l.6-4.3l.4-.5l.6 .1l.4 2.6l.6-.9l.4 1.5l.6-.6l.4-.3l.6 1.5l.4-.3l.6 2l.4-1.4l.6 1l.4-.8l.6-.7l.4-1.2l.6-.9l.4-.4l.6 .9l.4 1.4l.6 0l.4-.2l.6 1.1l.4-.6l.6 3l.4 1.3l.6-1.5l.4 1.6l.6 .5l.4 1.7l.6-1.1l1 1l.4-.4l.6-.8l.4-.5l1.6 .6l.4-.7l.6-.4l1 1.5l.4-2.7l.6-1l.4-1.8l.6-1l.4-.8l.6 1l.4-2.4l.6-.2l.4-2.1l.6 .1l.4-2.6l.6 1.3l.4 2.9l.6-1.1l.4 1.5l.6-1.3l.4 1.3l.6-1.9l.4 2.9l.6-.9l.4-.3l.6-2.5l.4-1.8l.6-.7l.4-.2l.6-1.1l.4 .7l.6 .8l.4-1.2l.6 .9l.4 0l.6-1.2l.4 1.6l.6-1.9l.4 1.9" stroke="#DF536B"/>
<path d="M75.8 418.8l.4 .8l.6 1l.4-1l.6 .5l.4 0l.6 1.2l.4-.5l.6-1.1l.4 1.9l.6-.3l.4 .1l.6 .3l.4-1l.6 .5l.4 .2l.6 .2l.4 .6l.6-.4l.4 0l.6 .7l.4-1.1l.6 .4l.4 1l.6-.5l.4 .6l.6-1.1l.4-.3l.6 0l.4 .9l.6-.3l.4-.7l.6 1l.4-.5l1 .6l.6-.7l.4-.7l.6 .9l.4-1.2l.6-.5l.4 .1l.6 .1l.4-1.1l.6 1.1l.4 0l.6 0l.4-.9l.6 .5l.4 .9l1 1.3l.6 .5l.4 .6l.6-.1l.4 .1l.6-.6l16 0l.4 .3l.6-.2l.4 .1l.6-3.1l.4-2.7l.6 .1l.4 .5l.6-1l.4 .8l.6-.3l.4 1l.6-2l.4 1.5l.6-.9l.4-1l.6-.5l.4-.3l.6-1.7l.4 1.5l.6 .4l.4 1l.6-1l.4 1l1-1.5l.6-.6l.4 .7l.6-1.2l.4 .3l.6-.1l.4-.8l.6-2.1l.4-.3l.6 .8l.4-1.8l.6-.6l.4 .2l.6-1.1l.4-.1l.6 .5l.4-1l.6 1.2l.4 .6l.6 1.9l1 1.4l.4 .3l7 0l.6-2.2l.4-3l.6-2.3l.4 1.3l.6-1l.4-.4l.6 .6l.4-.7l.6-.3l.4-.9l.6-.6l.4-.1l.6-1.8l.4-.4l.6 .6l.4-1.2l.6-.6l.4 .4l.6-.6l.4-1l1 1.6l.6-1.4l.4 1l.6 .1l.4-1.8l.6-.9l.4 0l.6 .8l.4 0l.6-.9l.4-.9l.6 .3l.4-2.8l.6 .8l.4-1.2l.6 .2l.4-.8l.6 .7l.4 .3l.6 .3l.4 .5l.6 .7l.4-.7l.6 .8l.4 .1l.6-.9l.4-.7l.6-2.5l.4-1.6l.6-1.9l.4 .8l.6 .7l.4 .5l.6-2.6l.4 .5l.6-2.2l.4-1l.6-.6l.4 .7l.6 .1l.4 1l.6 .2l.4-.7l.6-1.3l.4-.2l.6-1.3l.4 .1l.6 1.3l.4-1.2l.6-.6l.4-1.3l.6 8.3l.4 3.8l3.6 0l.4 .4l1 1.4l.6 .5l1 .9l.4-.1l2-2.3l.6 .1l2 1.9l2.4 1.9l.6 .3l3 0l.4-.4l1.6-2.2l.4-.2l1 .6l.6 .4l1.4 2l.6-.5l1-2.2l.4-.3l2 1.7l.6-.2l2-2l.4-.1l1.6 1.2l.4 .5l1.6 1.5l.4 .2l7.6 0l.4 .1l.6-2.3l.4-1.4l.6-.8l.4 1.2l.6-1.5l.4-.2l.6-1.2l.4-.5l.6-.8l.4-1.7l.6-.9l.4 .1l.6-.1l.4-.7l.6 1.6l.4 .4l.6 1.3l.4 .9l.6-.5l.4-.3l.6 .4l.4 1.3l5 0l.6-.4l.4-1l.6-1.9l.4 .5l.6 1.4l.4 .4l.6-1.1l.4 .7l.6-.7l.4-1.8l.6 .9l.4 .2l.6-1.5l.4 1.1l.6 .7l2 1.5l.4 .3l2.6 .6l.4 .1l6.6 .6l.4 .1l1.6 .4l.4 .2l2.6 1.2l.4 0l2-1.2l.6 .1l2 1.1l.4 .1l2.6-.5l.4 0l2.6 1.4l4 1.6l.4 .1l3.6 0l.4 1.2l.6-.2l.4-.1l.6-1.1l.4-1.7l.6-.9l.4-.1l.6-.3l.4 0l.6-.5l.4-1.6l1-.8l.6 .9l.4-.1l.6-2.1l.4-1l.6 1.2l.4-.6l.6 1.5l.4-.5l.6-1.2l.4-1.7l.6-.9l.4 .8l.6 2.2l.4 .8l.6 .3l4 1.2l.4-.8l.6 0l.4 .1l.6-.7l.4-1.1l.6-.2l.4-.9l.6 .9l.4-1.2l3 0l.6 1.4l.4 .3l.6 2.7l.4 .2l5 0l.6-.4l.4-.3l.6-2l.4-1.6l.6 1.1l.4-1.1l.6-2l.4 .6l.6 .9l.4-.7l.6-.7l.4 .6l.6 .3l.4 .2l.6 .2l.4-.5l.6 0l.4-.1l.6-.2l.4 2.1l.6 .3l.4-.7l13 0l.6-.1l.4 .5l.6-3.3l.4-1.6l.6 .1l.4-1.9l.6-1.3l.4 .7l.6-.7l.4 .7l.6-1.1l.4-.3l.6 .1l.4 .9l.6-1l.4 1.8l.6 1.3l28.4 0l.6 .1l.4-1l.6-2l.4-.6l.6-.8l.4-2.5l.6-.3l.4 .8l.6-1.6l.4-6.7l.6 .3l.4 4.5l.6 3.8l.4-.4l.6 1.7l.4 1l2 .5l.6 0l4.4 0l.6 .2l3.4 2.3l.6 1.2l.4-.1l.6-.9l.4-1.1l.6-2.2l.4 .2l.6 2.3l.4 .1l.6 .6l2 .7l.4 .1l6.6 0l.4 .4l1 1.5l.6 .4l4.4 .2l2 1.4l.6 .1l.4-.8l.6-.1l.4-1.9l.6-1.9l1 .6l.4 1.9l.6-.9l.4-1l1 .8l.6-1.4l.4-2.1l.6 .4l.4-.4l.6-.4l.4-1.4l1-.7l.6 1.9l.4-.3l.6 1l.4-1.1l.6-.6l.4-.9l.6 .2l.4 1.5l.6-.9l.4 2.5l.6 .5l.4 .2l.6-1.2l.4 1.5l.6 1.2l.4-.5l.6-1.8l.4 .1l.6-.4l.4 3.8l.6 1.7l.4-2.4l.6-1.6l1 1l.4 2.1l8 0l.6 .2l.4-2.4l.6-1.1l.4-.3l.6 .2l.4 2l.6 1.2l.4 2.6l.6 .6l.4 .9l.6 1.3l.4 .3l.6-.9l.4 1.2l.6 .5l.4-.6l2.6 0l.4 .6l.6 .3l.4 1.6l4 .5l.6 .2l1.4 1.5l.6 .4l2 1.3l.4 .2l9.6 .2l.4 .3l2.6 2.2l.4 .3l8 0l.6 .7l.4-.3l1 .2l.6-1l.4-.4l.6 .1l.4-2l.6 1l.4-.4l.6 .7l.4 .4l.6 .5l.4-1.1l.6-1.8l.4-1l.6 1.3l.4 .4l.6-2.6l.4 .4l.6-.3l.4 .4l.6 .1l.4 1l.6-.5l.4 .2l.6 .6l.4-.1l.6 .6l.4 .1l.6-.2l.4-.4l.6 .7l2 0l.4 0l1 .2l5 0l2.6 1l2.4 .6l2.6 1.9l3 .6l.4 .1l.6 .1l.4 .6l.6-1.3l.4 .6l.6-1l.4 0l.6-.5l.4-1.1l.6-.1l.4-1.3l.6 1l.4 .4l.6 1.9l.4 .1l3 .8l.6 .1l14 0l.4 1.3l.6-.5l.4 1.7l.6 .2l.4-.2l.6-1.4l.4 .3l.6-1.4l.4-1l.6 .6l.4-1.8l.6 .1l.4-1l.6-.1l.4-.9l.6-.2l.4-.4l.6 1.3l.4 2.7l.6 .4l.4 .5l.6-.4l.4 1.1l11 0l.6-1.6l.4-.9l.6-2.1l.4-.7l.6 .2l.4 1.8l.6 1.6l.4 .4l.6 1.4l.4-1.2l.6 2.1l.4-.6l.6 .3l.4-1.1l.6-.7l.4-.8l.6 .6l.4 .3l.6-.2l1 1.6l.4 .8l.6 .8l.4 0l.6 1.1l.4-.2l.6-1.3l.4-.4l.6-1l.4-.2l.6 .2l.4-.7l.6-.1l.4-.4l.6 .2l.4-.1l.6 .1l.4 .3l.6-.2l.4-.5l.6 .3l.4-.4l.6-.5l.4 1.2l.6-.2l.4 1.4l3 .2l29 0l.6-1.7l.4-1l.6-2l.4-1.2l.6 .2l.4 1l.6 2.6l.4 1l.6 3.5l.4-.3l.6-2.3l.4-3.9l.6-2.5l.4-3l.6 7.1l.4 1.2l.6-1.5l.4-.6l.6-.6l.4-.7l.6-.1l.4-.4l.6-.2l.4 1.6l.6 2l.4-.3l.6 0l.4-1.5l.6-2.2l.4-1.8l.6 .7l.4-.2l.6-3.4l.4 0l.6-1.5l.4-.3l.6-.9l.4-1.2l.6-.8l.4 .2l.6 .6l.4 .3l.6-.8l.4-1.5l.6-.2l.4-.4l.6-.6l.4 0l.6 .3l.4-.3l.6 .3l.4 1.1l.6 .8l.4 1.4l.6 .8l.4-1.1l.6-.4l.4 1.7l.6-.3l.4-1.8l.6-.7l.4-1.5l.6-2.2l.4 .1l.6 1l.4 .8l.6 .3l.4 .6l.6 1.3l.4-.4l.6 .3l.4 .5l2 1.5l.6 .3l1.4 .5l.6-.2l.4 1l1-2.1l.6-.5l.4-2l.6-1.6l.4 .9l.6-.8l.4-.4l.6-1.1l.4-.4l.6-.1l.4 1.1l.6 .6l.4 1l.6 0l.4 .6l.6 1.5l.4 .1l2 .6l8.6 0l.4-1.6l.6 1.5l.4-.2l.6 .6l.4 1.2l.6 2l.4-.3l.6-1.8l.4-1.6l.6-1.2l.4-.4l.6-.5l.4 1.4l.6 .9l.4 2.2l.6 .4l2.4 .7l.6-.5l.4-1.3l.6-2.1l.4-2.2l.6-1l.4-1.6l.6-1.6l.4-1l.6-.9l.4-1.1l.6-.3l.4-.5l.6-.6l.4-1.2l.6 .4l.4-2.6l.6-.8l.4-2.4l.6 .2l.4-2.4l.6 .7l.4-1.5l.6-.4l.4 1l.6 .2l.4 .9l.6-.2l.4-.8l.6-.8l.4 2.7l.6 2.7l5.4 0l.6 .1l.4-2.9l.6-1.8l.4 .3l.6 1.6l.4 1.9l.6 1.4l.4 2.2l.6 1l.4-.1l4 0l.6-.3l.4-1.3l.6-2.5l.4-1.3l.6 1.2l.4-1.6l.6-1.4l.4-1.9l.6-1.6l.4-1.2l.6-3.6l.4-.5l.6 .2l.4-2.2l.6-1.6l.4-2.9l.6-1.8l1-1.9l.4-.2l.6-1.5l.4 1l.6 1.2l.4 1.4l.6 2l1-1.5l.4 2.3l.6 .8l.4 1l.6 .3l.4 .1l.6 .7l.4 .6l4 0l.6 .5l.4-1.2l.6-.7l.4-1.9l.6 2.6l.4 4.2l.6-.4l.4-1.8l.6-4.7l.4-1.8l.6 4.7l.4 2.5l.6 1.5l.4-.3l.6-.1l.4 .1l.6 .4l.4-2.9l.6-1l.4 .9l.6-2.2l.4 1.8l.6-4.3l.4-6.2l.6-3.3l.4-3.5l1 9.6l.6 4l.4 .6l.6-2.8l.4-1.3l.6-.6l.4 .1l1 .8l.6 .8l3.4 2.1l.6 .1l4 .7l.4 .6l.6 1.3l.4-.3l.6 .2l.4 1.3l.6-1.8l.4-.4l.6 1.4l.4 .2l.6-2.5l.4 .3l.6-2l.4 2.4l.6-.7l.4-1.7l.6 .3l.4 1.6l.6-1.5l.4-.5l.6-.2l.4 .8l.6 1.8l.4-1.2l.6-2.1l.4-.3l.6-.9l.4-2.5l.6-6.4l.4-4.9l.6 1.8l.4 3.4l.6 .8l.4 .6l.6 2l.4 1.1l.6-.1l.4-1.1l.6-2.9l.4-1.2l.6-.1l.4 1.6l.6 2l.4 1l.6 .9l.4-2.1l.6-1.5l.4 .3l.6-2.2l.4-.4l.6-1.1l.4 .5l.6 .3l.4-1.2l.6-.7l.4-.5l.6 1.5l.4-.3l.6-1.1l.4-2.3l.6-.5l.4 1.2l.6 1.9l.4 1.7l.6 3.8l.4-1.5l.6-1.9l.4-1l.6 .4l.4-1.3l.6-.5l.4-2.2l.6-1.9l.4-3l.6 2.4l.4 4.3l.6 3.8l.4-1.5l.6-1.1l.4-4.7l.6-2.7l.4-3.1l.6-1.8l.4 1.2l.6 3.3l.4 6.2l.6 6l15.4 0l.6-1.2l.4 .5l.6-2l.4-1.7l.6-.1l.4 .7l.6 1.3l.4 2.8l.6 1.5l.4 .7l.6-1.6l.4-1.7l.6 .5l.4 .9l.6 2.1l.4-.3l.6-1.1l.4-1.1l.6 .6l.4 1.2l.6 .5l.4-1.8l.6-2.4l.4-2.8l.6-1l.4-2.1l1 2.1l.6 .5l.4-.2l.6 .9l.4 1.7l.6 2.4l.4 1.1l1.6 .5l.4-.5l.6-1.4l.4 .2l.6 1.1l.4 1.9l.6-2.4l.4-3.4l.6-2.8l.4-.1l.6 2.2l.4 1.1l.6-1.8l.4 .2l.6 2.5l.4 3.4l.6-.5l.4 2.1l.6-2.8l.4-4.5l.6-5.1l.4-3l.6 1.2l.4-1.9l.6-.4l.4-2.4l.6 5.1l.4 .1l.6-1.1l.4 4.1l.6 4.5l.4 .6l.6-2.7l.4-3.3l.6-2.8l.4-.2l.6-1.7l.4 .3l.6 .2l.4 .5l.6-.3l.4-2.8l.6 7.3l20.4 0l.6 .1l.4 2.9l.6 .4l12 0l.4 1.4l.6 .9l.4 1.8l.6-1.9l.4-1.1l.6-1.9l.4-.4l.6-2.8l.4-2l.6-1.2l.4 .9l.6-3.3l.4-2.3l.6-2.2l.4-4.1l.6 2.1l.4 1.3l.6 3.2l.4-5.1l.6-4.2l.4 1l.6-.3l.4 .7l.6-1.4l.4-3l.6 1.5l.4-2.2l.6 1.9l.4 2.7l.6 1.2l.4-1.8l.6-.9l.4 .5l.6-1.6l.4-.4l.6 .3l.4 .9l.6 2l.4 .9l.6 .1l.4-1.1l.6 .7l.4 1.1l.6 .3l.4-1.1l.6-.6l.4-.9l.6 2.6l.4 2.9l4.6 .6l.4-2.8l.6-.1l.4 1l.6 3.6l.4 2l.6-1.3l.4 1.8l.6 .9l.4 .7l.6 2.6l.4-1.3l.6 1.6l.4-.6l.6-.4l.4-2.2l.6-.7l.4-1.1l.6-1.2l.4 .9l.6-.9l.4-1l.6-3.6l.4-1.4l.6 .2l.4 3.2l.6 2.7l.4-5l.6-3.3l.4-2.8l.6-2.2l.4-2.8l.6 6.2l.4 1.2l.6 .9l.4 .3l.6-.4l.4 0l.6-1.1l.4 2.3l.6-1.9l.4-4.1l.6-6.1l.4-3.8l.6 1.1l.4 4.8l.6-2.6l.4 1.3l.6 2.1l.4 .8l.6 .5l.4-.1l.6 .2l2 0l.4 7.5l.6-3.5l.4-2.2l.6-5.1l.4-2.6l.6-2.4l1 5.5l.4 3.9l.6-1.7l.4-3.1l.6-1l.4-1.6l.6 1.7l.4-.9l.6-.7l.4 .5l.6 .6l.4-2.2l.6 1.1l.4 2.3l.6 1l.4-1l.6 2.2l.4-.2l.6 1.2l.4-1.6l.6-.1l.4-.1l20.6 0l.4 1.1l.6-.8l.4-3.7l.6-.9l.4-.9l.6-1.2l.4-.1l.6-1.4l.4 .3l.6-.6l.4 .9l.6-.2l.4-.6l.6-.2l.4 .7l.6-2.6l.4-1.2l.6 1.3l.4-3.5l.6 .4l.4 1.3l.6-1.2l.4 .9l.6 3.5l.4 3.8l.6-1.3l3.4 .6l.6-1.6l.4 .4l.6 .7l.4-2.2l.6 2.3l.4 1.1l.6 2.9l.4-2.2l.6-.3l.4 1.7l.6 1.9l.4 1.1l.6-1.2l.4-2.5l.6-.5l.4 .4l.6-.3l.4-1.4l.6-1.4l.4 1.2l.6 5.7l.4-1.6l.6 1.3l3 1l.4 2.8l.6-1l.4-1.2l.6 .3l.4-2.3l.6-2.7l.4-2.9l.6-.1l.4-1.6l.6 1.9l.4 2.5l.6-1.3l.4-3l.6-1.5l.4-.6l.6 .4l.4-1.7l.6-1.4l.4 2.7l.6-2.1l.4-.7l.6 .4l.4 1.6l.6-.4l.4-.8l.6-1.6l.4-1.4l.6 2.4l.4 2.4l3.6 .7l.4 3.1l.6-1l.4-1.5l.6-3.9l.4-1.8l.6-1.5l.4-.6l.6 2.7l.4 0l.6-.2l.4-.1l.6-.5l.4-4.5l.6-1l.4 2.6l.6 2.9l.4 1.5l.6 1.7l.4 1.3l.6-1.5l.4-.1l.6 .8l.4 1.2l.6-6.8l.4 3.6l.6 3.5l.4 2.3l.6-.8l.4 4.3l.6-2.5l.4 .1l.6-1.9l.4-.8l.6 2.4l.4-1.4l.6 .1l.4 2.9l.6 .5l.4-.8l.6 1.4l4 0l.4-1.7l.6-1l.4-2.7l.6-.3l.4 .3l.6-.4l.4-1.8l.6 .8l.4-1.4l1 .3l.6-1.2l.4 2.4l.6-2.2l.4 .4l.6-2.5l.4 .3l.6 .4l.4-1.5l.6 .5l.4-2.3l.6 .7l.4 .3l.6-.8l.4-2.9l.6 1.9l.4-3.4l.6-6.4l.4-1.8l.6-2.9l.4 3.7l.6 2.2l.4-4.2l.6-6.3l.4-3l.6-3.3l.4 .1l.6-3.2l.4-4.5l.6 1.1l.4 1.8l.6 4.1l.4 4.1l.6 1.1l.4-1.5l.6 .1l.4 3.1l.6-1.5l.4-3.8l.6 1.6l.4 3.8l.6 1.6l.4 2.9l4 0l.6-3.2l.4-4.7l.6-3.2l.4 .8l.6-1.6l.4 7.1l.6 5.3l.4 8.1l.6 7.1l7 0l.4-2.1l.6 2.7l.4 .5l.6 4.8l.4 .5l.6 1.8l.4 1.1l.6-3.5l.4 2.5l.6 3l.4-2.2l.6-1.7l.4-1.3l.6-4.1l.4 .6l.6-2.8l.4-1.6l.6 .4l.4-2.1l.6-3.2l.4-1.4l.6-.2l.4-1.2l.6-.9l.4 1.6l.6-.8l.4 .5l.6-1.8l.4-1.3l.6-2.6l.4-.9l.6-.1l.4-1.7l.6 2.5l.4-2.9l.6-5.6l.4 2l.6 1.2l.4-.7l.6 .9l.4 2.6l.6 3.2l.4 1l.6 5.1l.4 .1l.6-3.7l.4-4.1l.6-5.4l.4-.2l.6-2.7l.4-.5l.6-1.4l.4 2.3l.6 3.7l.4-.3l.6-3.3l.4-3.9l.6-1.2l.4 4.2l.6 3.3l.4 7.7l.6 7.4l.4 2.1l.6-2.4l4.4 .3l.6 1.6l.4-3.9l.6 1.4l.4 2.1l.6 0l.4-2.1l.6 2.5l.4-1.5l.6-2.5l.4 .8l.6-1.5l.4-.8l.6 .8l.4-.5l.6 1.2l.4-1.3l.6-.3l.4-.1l.6 3.1l10 0l.4-1.4l.6-2.9l.4 1.8l.6-1.8l.4-4.6l.6-3.9l.4 2.3l.6 .2l.4 1.9l.6 1l.4 2.9l.6 .9l.4-.2l.6 .9l5 .9l.4 0l.6-3.7l.4-1.1l.6-4.3l.4-3.9l.6-2.6l.4-4.2l.6-2l.4 3.7l.6 7.2l.4-.7l.6 .7l.4 2l.6-4.1l.4-5.6l.6 .5l.4 .9l.6 2.4l1-2.7l.4 3.7l.6 1.7l.4-4.7l.6 4.2l4 0l.4 6.3l.6 6.5l.4 1l4.6 0l.4 1.7l.6-.2l.4-2l.6 1.2l.4-.1l.6-1.8l.4-2.3l.6-1l.4 2.2l.6 2.2l.4 .7l.6-.7l.4-1.4l.6 4.6l.4-1.3l12 0l1-.7l.6 3.8l.4 1.6l.6 3.8l.4 .1l.6-.2l.4 .8l.6-.2l1 2.9l.4 .1l.6 1.1l.4 3.8l.6-1.4l2 0l.4 1.5l.6-7l.4-5.4l.6 0l.4 4.6l.6 4.5l.4-3.2l.6-3.5l.4 1.4l.6-.5l.4 .1l.6-4.9l.4-5.7l.6-1.1l.4 .2l.6 2l.4 .4l.6 1.8l.4-3.2l.6-1.7l.4 .2l.6-.1l.4-.1l.6 3.1l.4-1.1l.6 .5l.4-1.4l.6 1.6l.4 1.2l9.6 0l.4 1.2l.6-1.5l.4 1.8l.6-3.8l.4 .7l.6-.8l.4 4l.6 1.5l.4-6.1l.6-4.7l.4-2l.6-.6l.4 .9l.6-2.8l.4 2.1l.6 .7l1-.2l.4-2.9l.6 2.5l.4 1.6l.6 3l.4 1.7l2.6 .2l.4-.5l.6-1.7l.4 1.6l.6 2.6l.4 .3l.6 2.3l.4-1.5l.6 .6l.4 2.3l.6-2.5l.4-.8l.6-1.4l.4-4l.6-5.4l.4-.7l.6 .2l.4 3.3l.6-1.4l.4 1.1l.6-.3l.4 1.2l.6 2.7l2.4 .5l.6-1.6l.4-.9l.6 .6l.4-1.9l.6 .9l.4 1.7l1 0l.6 .4l.4-1.3l.6 3.2l.4 1.1l.6-2.6l.4 1.2l.6 1.1l.4 2.8l.6 .7l.4-2.3l.6-2.2l.4 3.5l.6-5.1l.4 .7l.6 1.3l.4 .2l.6 0l.4 1.2l.6 .4l1 0l.4-3.5l.6-.9l.4-2.2l.6-1.4l.4-1l.6 1.4l.4-2.9l.6 .2l.4-2.2l.6-.5l.4-3.9l.6 1.3l.4 3.8l.6-1.3l.4 1.8l.6-1.9l.4 1.7l.6-2.3l.4 3.7l.6-.9l.4 0l.6-2.8l.4-1.8l.6-.6l.4-.1l.6-1.2l.4 1.1l.6 1.2l.4-1.4l.6 1.3l.4 .2l.6-1.5l.4 1.9l.6-2.6l.4 2.4" stroke="#000000"/>
</g>
<g fill="none" stroke-width="1.55" stroke-linejoin="round" stroke-linecap="butt" clip-path="url(#cl)">
<path d="M75.8 531.9l.4 1l.6 1l.4 1.4l.6 .8l.4 1.6l1 3.9l.6 1.8l.4 4.8l.6 2.8l.4 .6l.6 2.5l.4-1.5l.6 .2l.4 4.3l.6 3.1l.4 1l.6 .8l.4 .6l.6 4l.4 3.7l.6 1.9l.4 3.4l.6-2.9l.4-5.5l.6-5.7l.4-4.4l.6-3.3l.4 2.4l.6 2.4l.4 1.5l.6 5.4l.4 7.3l.6-2l.4-5.2l.6-4.6l.4-4l.6-5l.4-3.3l.6-6.8l.4-3.6l.6-1.9l.4-3.4l.6-.1l.4 .7l.6-.8l.4-.4l.6 1.1l.4 4.2l.6 3.7l.4 4.3l.6 4.4l.4 3.2l.6 4.5l.4 3.9l.6 1.9l.4 .7l.6 6.2l.4 3.5l.6 3.4l.4 5.3l.6 8.5l.4 7.2l.6-7.9l.4-7.4l.6 2.1l.4 .8l.6 .3l.4-.2l.6 1.8l.4 3.1l.6 2.3l.4-2.2l.6-2.7l.4 8.3l.6 9.9l.4 10.7l.6 4.6l.4-7.5l.6-5.4l.4-6.2l.6-7.1l.4-1.4l.6-1.1l.4 1.8l.6 3.7l.4 2l.6-4.3l.4-6.7l.6-6.2l.4-6.2l.6-6l.4-6.3l.6-7.4l.4-7l.6-7.5l.4 2.6l.6 2.8l.4 4.9l.6 .6l.4-.3l.6-1.9l.4-1l.6 3l.4 2.4l.6 1.6l.4 0l.6-3.7l.4-3.3l.6 2.2l.4 2.9l.6 1.7l.4 3.8l.6 4l.4-1.5l.6-4l.4-5.2l.6-4.7l.4-2.3l.6-4.2l.4-3.6l.6-1.2l.4-4.1l.6-1.5l.4-1l.6-.5l.4 1.1l.6 0l.4 5.1l.6 3l.4 3.9l.6 2.8l.4 3.7l.6 6.7l.4 4.1l.6 1l.4 1.2l.6-.9l.4-1.7l.6-1.6l.4 3.8l.6 3.6l.4 1.8l.6 5.9l.4 3l.6 5.2l.4-2.8l.6-2.6l.4-1.9l.6-4.6l.4-2.4l.6-10.4l.4-11.6l.6-4.1l.4-5.8l.6-1.7l.4-2l.6-.2l.4 .7l.6-2l.4-.1l.6-.3l.4 0l.6 .2l.4-.2l.6 1.6l.4 6.4l.6 4.8l.4-1.7l.6-2.4l.4-1.2l.6-5l.4 .6l.6 3l.4-1.7l.6-1.8l.4-1.7l.6 1.4l.4 1.2l.6-.5l.4 0l.6-.4l.4-.9l.6 0l.4-1.3l.6 .8l.4-1.2l.6 4.4l.4 4l.6 1.8l.4 1.7l.6 1.2l.4-1.4l.6-1.3l.4-3.4l.6-1.9l.4-.1l.6 0l.4 1.7l.6 1.1l.4 3l.6 2.3l.4-2.3l.6-5.3l.4-1.3l.6-3l.4 .3l.6 .1l.4 1.3l.6 3.5l.4 0l.6-.1l.4 1l.6-.8l.4-2.4l.6-2.2l.4 3.4l.6 3.9l.4-5.5l.6-3.7l.4 12.8l.6 18.1l.4 2.4l.6 1.5l.4 2.1l.6 .6l.4-2l.6-3.1l.4-4.7l.6-3.5l.4-1l.6-2.1l.4-2.3l.6-4.5l.4-1.1l.6 2.5l.4 4.6l.6 .7l.4-6.4l.6-6l.4-4.5l.6 1.3l.4-.9l.6 3.6l.4 4.9l.6 2.1l.4 .9l.6 3.5l.4-2l.6-1.6l.4-1.3l.6 .7l.4 5.2l.6 4.9l1-8.3l.4-4.6l.6-.3l.4-1.9l.6-1.7l.4-1.6l.6-3.1l.4-.6l.6-2l.4-1.3l.6 5.4l.4 6.9l.6 6l.4 5.5l.6 3.3l.4-1l.6-8.8l.4-7.9l1-8.5l.6 3.3l.4 .8l.6 4.5l.4 3.4l.6-.2l.4-1.6l.6-4.7l.4-3.1l.6-.6l.4-1.2l.6 2.8l.4 4.7l.6 6.4l.4 3.4l.6 3.4l.4 5.3l.6 4.9l.4 3.8l.6 .7l.4 .6l.6 .6l.4 .4l.6-1.4l1-3.6l.4-2.7l.6-.9l.4-.5l.6-2l.4-3.2l.6-4.9l.4-5.1l.6-6.8l.4-2.9l.6-3.7l.4 2.4l.6-1l.4-.5l.6-.5l.4 .5l.6-.9l.4-.2l.6-.6l.4 0l.6 .1l.4 4l.6 4.4l.4 4.1l.6 4.6l.4 1.3l.6-1.7l.4-1.2l.6 2.1l.4 3.3l.6-2l.4-1.5l.6 3.6l.4 2l.6 1.6l.4 2.4l.6-.8l.4-1.4l.6-3.2l.4-5.6l.6-6.4l.4-3.5l.6-3.9l.4 1.3l.6 5.7l.4 2.6l.6-1.7l.4-2.4l.6-3.6l.4-2.9l.6-1.3l.4 2.9l.6-.6l.4 3.1l.6 1.8l.4-.3l.6 .7l.4 .2l.6 1.2l.4 .2l.6-3.2l.4 .5l.6-2.1l.4-2.8l.6-1.6l.4 2.9l.6 3.2l.4 4.1l.6 6.2l.4 5.2l.6 3.1l.4-2l.6-1.5l.4-.8l.6 .1l.4-4.4l.6-6.2l.4-1.5l.6-3.1l.4-1.2l.6-2l.4-.2l.6 2.4l.4 3.2l.6 .9l.4 .9l.6 6.6l.4 3.8l.6-3.9l.4-4.6l.6-3.1l.4-1.7l.6 .7l.4 3.8l.6 2.5l.4 2.2l.6 1.8l.4-5.2l.6-5.9l.4-3.7l.6-1.8l.4 .1l.6 .4l.4 1l.6 0l.4 1.5l.6 3.8l.4 2.4l1-6.6l.6-.1l.4 .7l.6 1.1l.4-.8l.6 1.6l.4 2.9l.6 .3l.4 5.1l.6 6l.4 1l.6 0l.4-.2l.6-2.6l.4-3.4l.6-1.8l.4-1l.6-1.2l.4 0l.6-3.1l1-3.2l.4-2.1l.6-1.5l.4 .2l.6-.4l.4 .9l.6-.5l.4-1.1l.6-.2l.4 0l.6 2l.4 .2l.6-2.2l.4 0l.6 .2l.4 .5l.6 .4l.4-.6l.6-.3l.4-.2l.6 0l.4 2.1l.6 6.3l.4-1.2l.6-2.1l.4 4l.6 2.5l1-1.1l.4 3.8l.6-1.6l.4-3.6l.6 1l.4 .7l.6-.2l.4-2.2l.6-2.4l.4-3.6l.6-1.1l.4-1.3l.6 .8l.4-.4l.6 .7l.4 .4l.6 .5l.4 .8l.6 1.1l.4-.8l.6 2.8l.4 .1l.6 4.5l.4 3.7l.6 4.2l.4 2.4l.6 .3l.4-3.2l.6-5.1l.4-4l.6-1.5l1-6.1l.4 1.3l.6-1.7l.4 1.7l.6-1.2l.4-.3l.6 2.3l.4-.3l.6-.7l.4 1l.6 1.7l.4 .5l.6-3.6l.4-.6l.6-.2l.4-.9l.6 1.2l.4-.5l.6 .9l.4 .7l.6 1.4l.4 4l.6 1.6l.4 1.5l.6 1.7l.4 2.5l.6 2l.4 1.9l.6 .7l.4-.9l.6 2.8l.4 1.6l.6 .9l.4 .2l.6 8.4l.4 6.7l.6 1.3l.4 3l.6 .2l.4 1.6l.6 2.2l.4 3.8l.6-1l.4-2.2l.6-3.5l.4 2.9l.6 2.2l.4-1.4l.6-1.6l.4-5l.6-9.3l.4-4.1l.6-7.3l.4-4.3l.6-3.3l.4-5.6l.6-2.8l.4-.2l.6-1.3l.4 3l.6-1l.4-2l.6-1.1l.4 4.1l.6 1.2l1 8.7l.4 1.7l.6 2.4l.4 2.5l.6 3l.4 3l.6-1.1l.4-1.9l.6-3.1l.4-2.1l.6 4.6l.4 5.6l.6-1l.4 1.1l.6 2.9l.4 2.8l.6 3.2l.4-.4l.6 1l.4 1.3l.6 .6l.4 .4l.6-.1l.4-4.7l.6-2l.4 1.9l.6 2.4l.4 1.4l.6-.4l.4 1.8l.6 .4l.4-1.6l.6 0l.4 2.6l.6 8.9l.4 6.4l.6 3.3l.4 1.6l.6 1l.4 1.9l.6 2.4l.4-2.7l.6-.6l.4-2.1l.6 3.5l.4 4l.6 1.7l.4 3.4l.6-1.5l.4-2.3l.6-2.8l.4 3.7l.6 3.1l.4 2l.6 3.7l.4 1.3l.6 2l.4-1.1l.6-5.9l.4-5.6l.6-6.7l.4-4.9l.6-6.3l.4-5.7l.6-1.3l.4-1.1l.6-10.3l.4-16.2l.6-4.6l.4 14.8l.6 11.2l.4 1l.6 3.2l.4 2.5l.6 2.8l.4-.7l.6 2.6l.4-2.2l.6-1.6l.4-2.2l.6-2.4l.4 .4l.6-1.4l.4-1.3l.6 1.1l.4 .9l.6 3l.4 2.5l.6 1.9l.4-3.4l.6-3.9l.4-5.8l.6 .8l.4 1.2l.6 2.7l.4 1l.6 1.4l.4 1.7l.6-4.5l.4-3.9l.6-5.4l.4 1.9l.6 3l.4 .6l.6 1.2l.4 2.4l.6 4.4l.4 2.9l.6 4l.4 5.3l.6 .7l.4 .4l.6 1.9l.4 6.9l.6 4.5l.4-5.2l.6-6.2l.4-2.6l.6 4l.4 4.1l.6-1.5l.4-1.4l.6 2.5l.4 3.6l.6 3.3l.4 4.7l.6 2.9l.4 3l.6 1.5l.4 4.2l.6 3.9l.4 1l.6-5.9l.4-6.3l.6-1.4l.4-4.4l.6 .2l.4 2.1l.6 .9l.4-2.8l.6-5.5l.4-2l.6-2.2l.4-2.9l.6-3.1l.4-2.3l.6 .8l.4 2.3l.6 0l.4-3.4l.6-2.6l.4-1.9l.6-3.1l.4-2.3l.6-1.9l.4-.3l.6-2.7l.4-1.1l.6-.7l.4 .7l.6 1.7l.4-.3l.6 .5l.4-1.7l.6-2.1l.4-.6l.6 3.2l.4 2l.6-.1l.4-.5l.6-2.1l1 1.3l.4 2.9l.6 1.2l.4-1.9l.6-4.5l.4-3l.6-4.1l.4-2.2l.6-1.5l.4-1.5l.6 .3l.4 2.9l.6 5.4l.4 10.1l.6 8.3l.4 3l.6 1.9l.4-4.6l.6-2.9l.4 2.7l.6 2.1l.4-2.3l.6-2.4l.4 .6l.6 3.1l.4 2.9l.6-5.8l.4-3.8l.6-1.8l.4-4.6l.6-2.7l.4-2.3l.6-1.1l.4 1.9l.6 2.1l.4 4.5l.6 4l.4 5.1l.6 2.5l.4 3.2l.6 2.5l.4 1l.6-3l.4-2.7l.6 .5l.4 2.4l.6 5.4l.4-.2l.6-8.1l.4-7.1l.6-1l.4 0l.6 4l.4 6.2l.6 3.4l.4 2.8l.6 1.6l.4-2.8l.6-3.1l.4-2l.6-1.9l.4-1.4l.6 0l.4 3.6l.6 3.5l.4 .9l.6-1.2l.4-1.1l.6 0l.4 1.1l.6 2.3l.4 5.3l.6 4.5l.4 .5l.6 .3l.4 1.3l.6-.5l.4 2.4l.6 .3l.4-1.2l.6-1.2l.4 .6l.6 1.2l.4 2.4l.6 .9l.4 .2l.6 .8l.4 1.3l.6 2l.4-1.2l.6-4.3l.4-2.3l.6-2l.4 .1l.6-.5l.4 1.7l.6 3.7l.4 5.2l.6 2.4l.4 2.3l.6 2.7l.4 3.6l.6 4.9l.4 3.6l.6-5l.4-5.3l.6 .7l.4-.3l.6-.2l.4-1.2l.6-3.5l.4-4.3l.6-1.3l.4-.5l.6-1.2l.4 .9l.6 .3l.4 .9l.6-1.6l.4-1l.6 1.7l.4 .5l.6 .6l.4-2.6l.6-3.9l.4 .3l.6-.8l.4 .8l.6 .9l.4-3.5l.6-1.9l.4-1.7l.6-3.3l.4-1.9l.6 .3l.4 1.3l.6-.7l.4 .4l.6 1l.4 2.1l.6 1.7l.4-2.7l.6-1.1l.4 4.9l.6 4.4l.4 1.8l.6 3.5l.4 1.5l.6-3.4l.4-.9l.6 .3l.4-.3l.6 1.7l.4 2.8l.6 2.2l.4-2.5l.6-.4l.4 4.5l.6 3.6l.4 2.3l.6 .5l.4 0l.6-4.9l.4-3.2l.6 1.4l.4 2.8l.6-1.1l.4-2.6l.6-1.5l.4-.7l.6 .4l.4 1.7l.6 1l.4-1.7l.6-1.2l.4 2.5l.6 3.3l.4-1.7l1-2.2l.6-.3l.4-.1l.6 .2l.4 1.1l.6 3.4l.4 2.7l.6 3.1l.4-3.2l.6-5l.4-2.8l.6-3.8l.4-1.7l.6-1.1l.4-2.7l.6-.2l.4-.9l.6 1.1l.4 5.6l.6 6.3l.4 .7l1 1.8l.6 2.5l.4-1.9l.6-3.8l.4-3.8l.6 2.4l.4 1.8l.6-1.2l.4-2.9l.6 3.7l.4 4.8l.6 2.2l.4 .9l.6 .2l.4 6.7l1 7.8l.6 3.4l.4-1.1l.6-2l.4-1.4l.6 1.4l.4 1l.6-1.7l.4-2l.6 .9l.4 .5l.6 1.3l.4 1.1l.6 3.7l.4-1.1l.6-1.8l.4-2.5l.6-1l.4-2.2l.6 2.1l.4 3.3l.6-3l.4-2.5l.6-3.3l.4-1.7l.6-4.4l.4-2.9l.6-2.9l.4-3l.6-1.8l.4 1.1l.6 1.4l.4-2.7l.6-3.2l.4-1.4l.6 3l.4 4l.6 3.8l.4 2.4l.6-.4l.4-.2l.6 3l.4 4.7l.6 2.7l.4 0l.6 .5l.4 .2l.6-4.3l.4-4.6l.6 2.1l.4 2.8l.6-1.4l.4-1.7l.6 1.6l.4 .6l.6 1.7l.4 1l.6 2.1l.4-2.6l.6-1.9l.4-2.6l.6-3.1l.4-2.8l.6-2.7l.4-3l.6-4.2l.4-3.1l.6 3.3l.4 3.6l.6 5l.4 3.4l.6 3.1l.4 .5l.6 2.3l.4-3.4l.6-2.6l.4-3.8l.6-4.7l.4-.1l.6 1.4l.4-1.7l.6-2.5l.4 1.1l.6 3.5l.4 3.1l.6 .1l.4-2l.6 2.4l.4 .2l.6-3l.4-2.6l.6-3.5l.4-2l.6-2.6l.4-2.6l.6-2.5l.4-1.1l.6-.3l.4 .1l.6-.1l.4-1l.6-.9l.4-1.6l.6-.9l.4-2.4l.6 2.1l.4 5.1l.6 1.2l.4 4.7l.6 .4l.4-2.5l.6-2.4l.4-2.3l.6-1.7l.4 4.3l.6 3.8l.4 .8l.6 1l.4 1.2l.6 1.3l.4 2.6l.6 3.3l.4 4.3l.6 2.2l.4 3.7l.6 5.4l.4 3l.6-5.2l.4-6.1l.6-2.8l.4-3.1l.6 1.8l.4 5l.6-1l.4 1.6l.6 3.9l.4 3.7l.6 1.6l.4 2.2l.6 3.4l.4 2.6l.6 2.3l.4 5.9l.6 3.5l.4 5.1l.6 5.7l.4 1.7l.6-1.1l.4-.9l.6 5.9l.4 7.3l.6 8.3l.4 9.4l.6 6.4l.4 5.3l.6 3.7l.4 4.4l.6 2.4l.4 7l.6 5.9l.4 6.1l.6 1.9l.4-2.2l.6-1.8l.4-.1l.6 2.3l.4 1.9l1-12.8l.6-3.3l.4-2.5l.6-2.4l.4-2.9l.6-3l.4-2.2l.6-2.3l.4-3.8l.6-3.1l.4 3.8l.6 5.1l.4 4.6l.6 5.3l.4 1l.6-2.7l.4-4.3l.6-8.2l.4-8.6l.6 6l.4 6.7l.6 1.3l.4 .2l.6-1.2l.4-2.7l.6-2l.4 .9l.6 1.1l.4 1.7l.6 3l1-6.7l.4-3.7l.6-4.4l.4-4.8l.6-3l.4-4.5l.6-2.8l.4-2.6l.6-1.7l.4-1.4l.6-.4l.4 1.1l.6 2.1l.4-1.2l.6-.8l.4-2l.6-1.6l.4-2.6l.6-1.5l.4 .4l.6 5.1l.4 4.3l.6-1.4l.4-2.9l.6-1.4l.4-3l.6 1.9l.4 3.6l.6-.7l.4-3.1l.6-3.2l.4-1.4l.6-3.3l.4-1.2l.6-.8l.4-2.1l.6-1.7l.4-1.7l.6 2.6l.4 2.4l.6-1.8l.4-1.6l.6 1.3l.4 .8l.6-1.3l.4-2l.6-1.1l.4-1.9l.6-1.7l.4 1.9l.6 .9l.4-2.1l.6-2.7l.4-1.5l.6-3.8l.4-1.1l.6-3.1l.4-2.8l.6-2.5l.4-3.1l.6-2.1l.4 .2l.6-7.8l.4-1.5l.6-2.5l.4 3.1l.6 1.1l1 3.9l.4 0l1 .9l.6-1.4l.4 1.3l.6 6l.4 1.8l.6 2.3l.4 3.3l.6 2.1l.4-1.2l.6-3.6l.4-1.1l.6-.7l.4 5.7l.6 5l.4 6.2l.6 6.8l.4 2.9l.6-1.5l.4-6.3l.6-4.9l.4-4.3l.6-1.9l.4-1.1l.6-.4l.4 1.2l.6 2.9l.4 1.4l.6 2.4l.4-1.4l.6-.6l.4-3.2l.6-2.5l.4-3.6l.6-1.7l.4 .8l.6-1l.4 4.5l.6 3.1l.4 5.2l.6 2.4l.4-.7l.6 .8l.4-3l.6-2.5l.4-3.2l.6-4.6l.4-6.9l.6-6.1l.4-4l.6-5.1l.4-7.5l.6-4.2l.4-3.5l.6-1.7l.4-2.2l.6-2.8l.4-3.4l.6-2.4l.4-2.2l.6-1.8l.4-3.1l.6-2.4l.4-3.3l.6-2.5l.4-7.2l.6-5.7l.4 2.4l.6 3.7l.4 1.5l.6-3.9l.4-3.5l.6 3.3l.4 2.9l.6-3.3l.4-2.1l.6 8.3l.4 9.8l1-5.1l.6-.4l.4 2.5l.6-5l.4-5.5l.6-5.2l.4-1.7l.6-4.8l.4 .2l.6-1.5l.4-4.2l.6-3l.4 .1l.6 1.5l.4 2.9l.6 4.9l.4 5.3l.6 4.6l.4 4.8l.6-1.8l.4-3.2l.6 1.5l.4 3.1l.6 2.3l.4 2.7l.6 3.4l.4-5.2l.6-7.8l.4-7.2l.6-8.5l.4-6.5l.6-5.8l.4-6.6l.6-3.9l.4-4.3l.6-.7l.4-.6l.6-.7l.4 0l.6 .8l.4-.2l.6 .1l.4-.7l.6 0l.4 .7l.6 .6l.4 .7l.6 .8l.4 5.9l.6 2.9l.4 3.4l.6 3.2l.4 2l.6-2.5l.4 1.3l.6 2.9l.4 3.2l.6 1.9l.4 .5l.6 1.6l.4 2.3l.6 1.8l.4-.8l.6 2.2l.4 .2l.6 1.1l.4 1.4l.6 .6l.4-2l.6 1l.4-.6l.6-1.7l.4-5l.6-3.5l.4 16.1l.6 4.2l.4 1.2l.6-7.1l.4-8.2l.6 4.6l.4 4l.6 2.3l.4 2.2l.6-.7l.4-3.1l.6-2.9l.4-5.7l.6-2.8l.4 1.9l.6 .4l.4-4.4l.6-7.5l.4-11l.6-7.5l.4-1.5l.6 2.9l.4 7.8l.6 15.5l.4 3.9l.6-5.8l.4-4.7l.6 5.4l.4 3.8l1-5.3l.6 4.6l.4 2.9l.6 1.3l.4-1.1l.6-.1l.4 1.1l.6 2.4l1 1.9l.4 .6l.6-1.1l.4 1.9l.6 1l.4 2l.6-1l.4 .3l.6 2.3l.4-1.7l.6 0l.4-1.1l.6-1.5l.4-.1l.6 1.1l.4 2.1l.6-.8l.4-3.7l.6-4.2l.4-.3l.6-2.3l.4 3.7l.6 .3l.4-4.8l.6-3.3l.4 1.6l.6-.1l.4-.9l.6-3.3l.4-2.6l.6 5.9l.4 4l.6-6.7l.4-6.4l.6-4.6l.4-6.1l.6-6.7l.4-.2l.6 3.7l.4 4.1l.6 1.5l.4 .9l.6 3.4l.4 3l.6 4.1l.4 4.7l.6-4.7l.4-5.7l.6-1.2l.4 2.3l.6 1.4l.4 1.2l.6 4l.4-1.4l.6-.6l.4 .8l.6-3.6l.4-4.1l.6-4.8l.4-1l.6-3.3l.4 1l.6 2.2l.4-.9l.6-2.6l.4-4.3l.6 1l.4 .2l.6 .5l.4 6.5l.6 11.5l.4 4.1l.6 5l.4-5.8l.6-6.6l.4-4.9l.6-3.5l.4-3.3l.6 9l.4 6.2l.6-9l.4-11.4l.6 5.3l.4 9.2l.6 3.7l.4 .9l.6 1l.4-1.5l.6-8.3l.4-10l.6 3l.4 2.2l.6 12.9l.4 11.6l.6 8.4l.4 2.5l.6 1.2l.4 4l.6-.6l.4 .9l.6-1.9l.4 2.3l.6 2.4l.4 1.1l.6 .1l.4 1.3l.6 1.7l.4 .1l.6 1l.4-.3l.6 1.3l.4 2.7l.6-.2l.4-.8l.6-.8l.4 .3l.6 1.9l.4 4.2l.6 .9l.4 3.7l.6 3.6l.4 4.2l.6 3.6l.4-3.8l.6-5.8l.4-5.4l.6-5.6l.4-1.9l.6-2.3l.4-2.9l.6-1.6l.4-.6l.6 5.2l.4 5.4l.6 3.9l.4 1.8l1-11.6l.6-.1l.4-.1l.6 1.5l.4-.5l.6-3.6l.4-3.4l.6-2.6l.4-2.8l.6-2.4l.4-4.2l.6-5.2l.4-7.8l.6-2.2l.4-.1l.6 1.6l.4 1.9l.6 2.2l.4-2l.6-1.6l.4 3.7l.6 5.6l.4-.8l.6-1.4l.4-2.4l.6-3.2l.4-4.6l.6-5.2l.4-2.7l.6-2.6l.4-1l.6-2.9l.4-2.7l.6-1.3l.4-.7l.6 4.1l.4 3.9l.6-.4l.4 .5l1 9.8l.6-1.9l.4-1.1l.6-6.7l.4-6.3l.6-.6l.4-1.3l.6 1.4l.4-1.4l.6 1.2l.4 2.8l.6 2.2l.4 3.6l.6 2.3l.4-.5l.6-.3l.4 2.5l.6 3.5l1-9.3l.4-2.5l.6-4.3l.4 0l.6 .8l.4 .3l.6 .8l.4-2l.6 8.3l.4 11.4l.6 3.8l.4 2l.6 1.1l.4-.7l.6 2.8l.4 5.4l.6 3.4l.4 1.1l.6 2l.4 1.5l.6 .7l.4 4.9l.6 3.4l.4 2.9l.6 3.9l.4 2.4l.6 3.8l.4 5.3l.6 5.2l.4 4.6l.6 2.8l.4 1.7l.6 5.6l.4 3.9l.6 6.6l.4 7.7l.6 6.1l.4 6.7l.6-7.1l.4-8l.6-6.2l.4-.4l.6 2.4l.4 2.4l.6 6.3l.4 5.3l.6-4l.4-2.5l.6-3.2l.4-3.8l.6 2.9l.4 5l.6 .8l.4 1.8l.6 4.2l.4 2.4l.6 5.2l.4 6l.6 4.2l.4 2.2l.6 4.6l.4 4l.6 5.5l.4 4.4l.6 3l.4 2.2l.6-5.4l.4-5l.6 .5l.4 1.4l.6-2.3l.4-1.8l.6 .1l.4 .5l.6-3.6l.4-7.3l.6 5.5l.4 .2l.6-2.8l.4-.2l.6 3l.4-2.1l.6-3.4l.4-2.6l.6-4.5l.4-3.2l.6-1l.4-.1l.6-5l.4-4.1l.6-4l.4-4.6l.6 3.1l.4 2.5l.6-2.1l.4-5.1l.6-4l.4-1.2l.6 1.9l.4 1.6l.6-3l.4-4l.6 .7l.4-1.4l.6 3.4l.4 8.3l.6-3.7l.4-3.7l.6-1.1l1-1.3l1 5.9l.4 1.5l.6 1.9l.4-1.4l.6-2.1l.4-1.2l.6 .3l.4-.4l1-4l.6-2.4l.4 3.7l.6 5.8l.4 3.9l.6 3.2l.4 5l.6 4.5l.4 3.8l.6 3.1l.4 3.7l.6 4.4l.4-5.1l.6-5.3l.4-7.4l.6-6.2l.4-2.5l.6 1.5l.4 2.1l.6-.1l.4 1.5l.6 3.1l.4 2.6l.6 1.1l.4-.7l.6 .5l.4-1.4l.6-.8l.4-1.9l.6-.9l.4-1.1l.6-2.4l.4-.7l.6-1.7l.4-.7l.6-1.7l.4-1l1-.3l.6 1.4l.4 .2l.6-1.6l.4-1.9l.6-4l.4-5.4l.6-.7l.4 1.8l.6 2.3l.4 .8l.6 .6l.4 .7l.6-2.1l.4-.3l1-6l.6-3.6l.4-4.4l.6-4.2l.4 3.1l.6-.2l.4 0l.6-.2l.4 1.8l.6 1.2l.4 .4l.6-.4l.4-.6l.6 2.6l.4 6.8l.6 6.2l.4-.7l.6-7.6l.4-5.9l.6-6l.4-4.2l.6-.8l.4 6.6l.6 1.3l.4-1.5l.6-2.1l.4-2.3l.6-.9l.4-2.4l.6-.1l.4-1.1l.6 .9l.4 1.8l.6-2.9l.4-3.4l.6 1.7l.4 1.7l.6 2.3l.4 .4l.6 3.4l.4 1.8l.6 2.2l.4 1.1l.6 2l.4-.7l.6 0l.4 3.8l.6 2.1l.4 2.2l.6 .8l.4 2.3l.6 1.3l.4 .9l.6-.4l.4-1l.6 0l.4-.1l.6-2.2l.4 4.6l.6 5.1l.4 4.4l.6 2.5l.4-1.3l.6-2l.4-.9l.6-.7l.4-.9l1 5.2l.6 .1l.4 1.9l.6 2.4l.4 1.7l.6 2l.4-.4l.6-2.1l.4 1.1l.6 .1l.4-1.2l.6-.1l.4-1.1l.6-.8l.4-.7l.6-.6l.4-2.5l.6 1.3l.4 1.2l.6-2.3l.4-4l.6-2.6l.4-2.2l.6-2.4l.4 .1l.6-1.5l.4-.5l.6-1.1l1 3.2l.4-.9l.6-.9l.4-1.3l.6-3.7l.4-1.9l.6-.1l.4-1.3l.6 .4l.4 .8l.6-.4l.4 1.4l.6 3.9l.4 3.5l.6 3.2l.4 1l.6 2.8l.4 .8l.6 1.4l.4 .5l.6-.9l.4-1.3l.6-1.7l.4-1.2l.6-2.2l.4-1.8l.6 1l.4 .6l.6 1.5l.4-2.5l.6-.5l.4-.1l.6 .5l.4 .5l.6-.6l.4-1.4l.6-.4l.4 .1l.6-.4l.4-.5l.6-1l.4 .6l.6 3.1l.4 2.7l.6 2.6l.4-3.5l.6-1.3l.4-.5l.6-1.8l.4 .9l.6-.3l.4 1.1l.6-.9l.4-1.7l.6-.9l.4-1.4l.6-5.9l.4-2.8l.6 .5l.4-.5l.6 1.8l.4 2.9l.6-1.8l.4-3.1l.6-2.2l.4-1.5l.6-1l.4-2.4l.6-1.1l.4 .6l.6 0l.4 .6l.6-.1l.4-1.2l.6-.3l.4-1.1l.6-1.2l.4 1.4l.6 3.5l.4 3.1l.6 2.7l.4-.4l.6-.2l1-5.1l.4-1.9l.6 2.6l.4 2.1l.6-4.7l.4-3.2l.6-3.8l.4-2.8l.6-3.4l.4-2l.6 2.3l.4 .2l.6-.4l.4-.3l.6-2.1l.4-3.5l.6-.3l.4 5.2l.6 3l.4 .4l.6 1.5l.4 1.5l.6-.3l.4-.4l.6 1.1l.4 2.2l.6-7.7l.4-3.7l.6 3.4l.4 2.7l.6 .6l.4 1.3l.6-3l.4-1.7l.6-1.1l.4-1.1l.6 1.4l.4 1.3l.6 3.6l.4 4l.6 2.5l.4 1l.6 .5l.4-.1l.6 1.3l.4-2.2l.6 1.2l.4-1.1l.6-2.5l.4-1.7l.6-3.8l.4-2.4l.6-1.8l.4-2.7l.6-1l.4-.9l.6-1.3l.4-2.1l.6-.4l.4-2.1l.6 .3l.4 .9l.6 .6l.4 2.4l.6-2.4l.4-.9l.6-2.6l.4-.9l.6-.9l.4-1.3l.6-.4l.4-1.9l.6 .3l.4-.2l.6-1.1l.4-2.8l.6 .9l.4-1.1l.6-8.9l.4-7.4l.6-4.3l.4 1.3l.6 5.4l.4-6.9l.6-8.3l.4-6l.6-6.1l.4-2.1l.6-1l.4-2.2l.6 1.1l.4-.4l.6 5.6l.4 4.6l.6 4.2l.4 2.8l.6 1.6l.4 3.1l.6-1.3l.4-3.2l.6 0l.4 2.9l.6 2.2l.4 2.8l.6 4.2l1-2.8l.4-1.7l.6-2.6l.4 1.5l.6-2.2l.4-.9l.6-2.4l.4-1.9l.6-1.7l.4 .3l.6-2.4l.4 1.6l.6 4.2l.4 10.2l.6 8.8l.4 1l.6-.4l.4-1.2l.6 .2l.4 1.5l.6 3.1l.4 1.2l.6-4.9l.4-2.8l.6-2.4l.4-.2l.6 .4l.4-.1l.6 1l.4-3.3l.6-1.4l.4 2.5l.6 4.2l.4 1l.6 2.6l.4-1.4l.6-4.4l.4-2l.6-2.5l.4-4l.6-2.4l.4-1.3l.6-3.7l.4-.9l.6-3.2l.4-2.3l.6-.7l.4-2.4l.6-3.3l.4-1.9l.6-.5l.4-1.5l.6-.4l.4 1.1l.6-.6l.4 .9l.6-1l.4-.7l.6-1.1l.4 0l.6 .5l.4-.5l.6 .3l.4 .1l.6-.4l.4 .7l.6 .7l.4-1l.6 3.8l.4 3.9l.6 1.3l.4 .2l.6 5.7l.4 2.7l.6-4.4l.4-4.4l.6-5.1l.4-1.3l.6-.8l.4-1.2l.6-.5l.4 3.3l.6 4.5l.4-3.2l.6-2.5l.4-1.8l.6-.1l.4 3.3l.6 3.9l.4 2.8l.6 2.4l.4-.6l.6-1.5l.4 .8l.6 1.4l.4-.2l.6-1l.4-1.2l.6 3.2l.4 2.3l.6-2.3l.4-1.5l.6-1l.4-2l.6-.2l.4 3l.6-2.6l.4-3.7l.6 .7l.4-2.4l.6-2.4l.4 .1l.6-.9l.4 .5l.6 .7l.4 .9l.6 .5l.4 1.1l.6 1.9l.4 1.2l.6 5.5l.4 4.1l.6 3.5l.4 2.4l.6 1.6l.4-2l.6-2.1l.4-5.2l.6 .9l.4-2l.6 6.1l.4 10l.6 11l.4-1.5l.6-1.1l.4-1l.6-.6l.4-.4l.6 .8l.4-2.1l.6-4.7l.4-6.1l.6-4.8l.4-3l.6-5.8l.4-6.3l.6-2l.4 .7l.6 .5l.4 1.8l.6 2.4l.4 4.3l.6 2l.4 1.1l.6 4l.4 3.8l.6 0l.4 1l.6-3.4l.4-1.2l.6-2.6l.4-3.3l1-5.1l.6-3.1l.4-1.9l.6-3.5l.4 .1l.6-.5l.4 0l.6 .6l.4-.5l.6 .8l.4 2.4l.6 4.7l.4 1.1l.6 .7l.4 2.5l.6-3.9l.4-4.7l.6 .6l.4 1l.6-.1l.4-1.9l.6-1.9l.4 2.5l.6 5.5l.4 3.8l.6 5.1l.4 3.6l.6 3.7l.4 1.9l.6-.6l.4 1.4l.6 2.1l.4 1.5l.6 2.2l.4 1.4l.6 4.2l.4 5.8l.6 2.5l.4 .4l.6-.7l.4-1.3l.6-5l.4-4.3l.6-4.9l.4-3l.6 1.9l.4 .1l.6 1.1l.4 0l.6 .3l.4-2.3l.6-2.6l.4-2l.6-1.5l.4 1.2l.6 1.1l.4 1.6l.6 .3l.4 1.1l.6 5.1l.4 3.2l.6 3.1l.4 3.5l.6 2.2l.4 1.5l.6 1.5l.4 .3l.6 4.8l.4 4.7l.6-1.6l.4-2.2l.6 2.7l.4 4.1l.6 3.1l.4 3.5l.6 2.8l.4-2.9l.6-.4l.4 5.4l.6 .5l.4-3.7l.6-4.2l.4-4.6l.6-3l.4 2.8l.6 3.4l.4 .7l.6 2.4l.4 2.1l.6 3.1l.4 1.1l.6-1.5l.4-1.2l.6 .7l.4 1.5l.6-1.7l.4-2.7l.6-1.8l.4-1.1l.6-2.3l.4-.5l.6-4l.4-.4l.6-.6l.4-1.1l.6-3.5l.4 .5l.6 4l.4 2.7l.6-.6l.4-1.2l.6-.2l.4 1.7l.6 .6l.4-2.3l.6-2.5l.4 .5l.6 1.7l.4 .3l.6-.3l.4-2.4l.6 3.5l.4 2.1l.6-2l.4-1.4l.6-.8l.4-1.6l.6 1.5l.4 2.5l.6 3.3l.4 2.1l.6 2.3l.4 .6l.6 1.3l.4 3.1l.6 4.2l.4 8.6l.6 .5l.4-.9l.6-4.4l.4-9.5l.6-4.3l.4-2.3l.6-3.2l.4-1.6l.6 2.6l.4-.8l.6-.2l.4 .9l.6-2.3l.4-1.3l.6-1.4l.4 1l.6-1.5l.4 .6l.6-1.9l.4-.3l.6 .5l.4 3.3l.6 .8l.4-4.3l.6-6.1l.4-2.8l.6-1.8l.4-.5l.6-2.4l.4-.2l.6-1.1l.4 .4l.6 .8l.4-1.5l.6 3.1l.4 2.5l.6 2.6l.4 3.4l.6 1.9l.4 1.1l.6-3l.4-3.1l1-4.5l.6-1.5l.4 1.6l.6 1.3l.4-.7l.6 2.4l.4-2.3l.6-1.6l.4-2.8l.6-5.7l.4-1.4l.6-2.4l.4-2.8l.6-3l.4-1.4l.6-.3l.4 1.4l.6-.1l.4 1l.6-.2l.4 1.5l.6 2.2l.4 1l.6 2.6l.4-.4l.6 1.3l.4-.2l1-3.2l.6-2.3l.4-1.5l.6-1l.4-.1l.6 .4l.4 1.4l.6 2l.4-.3l.6 1.6l.4 2.6l.6 .1l.4 1.4l.6 .9l.4-.5l.6-3.7l.4-4l.6-4.6l.4-3.3l.6-3.2l.4 1.9l.6 1.5l.4 .4l1 1l.6-2.1l.4-1.8l.6-1.2l.4-3.8l.6-2.4l.4-2.6l.6-1.1l.4-2.5l.6 .4l.4-2.7l.6-.5l.4-.4l.6 .4l.4-1.6l.6 1l.4 2.8l.6 .8l.4 .5l.6 .2l.4 1.4l.6-1.6l.4 2.4l.6-1.2l.4-1.4l.6-2.1l.4-1l.6-.9l.4 .9l.6-1.3l.4 .6l.6 2.3l.4 .7l.6 .9l.4-.2l.6-1.8l.4 .4l.6-2.1l.4 1.5" stroke="#28E2E5"/>
<path d="M75.8 531.8l45.4 0l.6 .1l.4-.4l.6 .2l.4-.2l1 0l.6 1.5l.4-1.5l1.6 0l.4 .1l.6 1.3l.4-1.4l.6 .6l.4-.3l.6 7l.4 9.4l.6 4.1l.4 3l.6 1.9l.4 4.2l.6 4.4l.4-1.7l.6-4l.4-5.5l.6-4.9l.4-2.3l.6-4.1l.4-3.6l.6-1.1l.4-4.1l.6-1.5l.4-1l.6-.5l.4 1l.6 .1l.4 5.2l.6 3.3l.4 3.3l.6 2.1l.4 3.8l.6 7.8l.4 4.1l.6 1l.4 1.2l.6-1l.4-1.9l.6-1.7l.4 3.9l.6 3.6l.4 1.9l.6 5.7l.4 2.9l.6 5l.4-2.6l.6-2.5l.4-1.7l.6-4.1l.4-1.9l.6-10.9l.4-12.4l.6-4l.4-5.7l.6-2.2l.4-2.3l.6-.3l.4 .7l.6-1.4l2.4 0l.6 .4l.4 7.2l.6 5.5l.4-1.8l.6-2.6l.4-1.5l.6-5.3l.4 1l.6 3.7l.4-1.6l.6-2.2l.4-2.1l.6 1.2l.4 1.3l.6-.5l.4 .1l.6-.3l.4-.7l.6-.2l.4-1.6l.6 .5l.4-.5l.6 4.2l.4 4.4l.6 2.2l.4 1.8l.6 1.4l.4-1.5l.6-1.7l.4-3.8l.6-2l.4-.2l.6 .1l.4 1.8l.6 1.3l.4 3.4l.6 2.6l.4-2.9l.6-6.1l.4-1.7l.6-2.9l.4 .4l.6 .3l.4 1.6l.6 3.9l.4 .2l.6 0l.4 1.2l.6-.9l.4-2.8l.6-2.5l.4 3.7l.6 4.1l.4-7l.6-2.6l.4 11.2l.6 20l.4 2.6l.6 1.7l.4 2.3l.6 .6l.4-2.2l.6-3.4l.4-4.9l.6-4l.4-.8l.6-1.8l.4-2.8l.6-5.2l.4-1.1l.6 3.7l.4 5.7l.6 1l.4-7.5l.6-7l.4-5l.6 1.8l.4-.5l.6 3.8l.4 5.1l.6 2.1l.4 .8l.6 3.5l.4-2.1l.6-1.9l.4-1.5l.6 1l.4 5.5l.6 5.3l.4-4.3l.6-4.5l.4-4.9l.6-.2l.4-1.8l.6-1.6l.4-1.7l.6-3.2l.4-.6l.6-2.5l.4-.7l.6 4.7l.4 7.6l.6 6.8l.4 6.5l.6 4.3l.4-1.3l.6-10.2l.4-9.4l1-8.2l.6 3.3l.4 .7l.6 5.4l.4 4.4l.6-.2l.4-2.6l.6-5.6l.4-3l.6-.6l.4-1.4l.6 2.6l.4 5l.6 6.8l.4 3.6l.6 3.1l.4 5.2l.6 5l.4 3.7l.6 .8l.4 .6l.6 .6l.4 .4l.6-1.4l.4-1.9l.6-1.9l.4-2.7l.6-.5l.4 .1l.6-2.1l.4-3.6l.6-5.3l.4-5.1l.6-6.9l.4-2.9l.6-3.8l.4 2.5l.6-1l.4-.4l.6-.5l.4 .5l.6-.9l.4-.2l.6-.6l1 0l.4 4.1l.6 4.4l.4 4.6l.6 5.1l.4 1.2l.6-2.3l.4-1.8l.6 2.3l.4 3.5l.6-2.3l.4-1.8l.6 3.9l.4 2.4l.6 1.8l.4 2.3l.6-.9l.4-1.4l.6-3.2l.4-6l.6-6.6l.4-4.2l.6-4.6l.4 1.6l.6 7.2l.4 4l.6-1.6l.4-3.7l.6-4.3l.4-2.7l.6-1l.4 2.8l.6-.5l.4 3.3l.6 2l.4-.3l.6 .4l.4 0l.6 1.3l.4 .3l.6-3.2l.4 .5l.6-2.4l.4-3.2l.6-1l.4 2.4l.6 3.6l.4 4.1l.6 6.3l.4 5.5l.6 3.4l.4-2.2l.6-1.9l.4-.7l.6 .1l.4-4.5l.6-6.4l.4-1.6l.6-3.1l.4-1.2l.6-2l.4-.1l.6 2.5l.4 3.3l.6 .8l.4 .7l.6 6.9l.4 4.3l.6-4.2l.4-4.9l.6-3.3l.4-2l.6 .9l.4 4.2l.6 2.6l.4 2.4l.6 1.9l.4-5.5l.6-6.3l.4-3.6l.6-1.7l.4-.1l.6 .2l.4 1l.6 .3l.4 1.7l.6 3.9l.4 2.5l.6-3.7l.4-3.7l.6-.1l.4 1.1l.6 1.3l.4-.8l.6 1.5l.4 2.8l.6 .3l.4 5.5l.6 6.4l.4 1l.6 .2l.4-.4l.6-2.9l.4-3.8l.6-1.7l.4-.9l.6-1.3l.4-.1l.6-3.1l1-3.2l.4-2.1l.6-1.5l.4 .2l.6-.3l.4 .9l.6-.5l.4-1.1l.6-.2l.4 0l.6 1.9l.4 .2l.6-2.1l.4 0l.6 .4l.4 .6l.6 .2l.4-.7l.6-.5l1 0l.4 1.3l.6 7.4l.4-1.4l.6-2.4l.4 4l.6 2.7l.4-.5l.6-.5l.4 3.8l.6-1.8l.4-3.8l.6 1.5l.4 1.1l.6-.4l.4-2.6l.6-2.5l.4-3.6l.6-1.1l.4-1.2l.6 .6l.4-.4l.6 .7l.4 .4l.6 .5l.4 .8l.6 1.2l.4-.7l.6 2.8l.4 0l.6 4.5l.4 3.8l.6 4.3l.4 3.6l.6 .7l.4-4.1l.6-5.9l.4-4l.6-1.5l.4-3.2l.6-3.3l.4 1.3l.6-1.5l.4 1.7l.6-1.2l.4-.4l.6 2.3l.4-.1l.6-.6l.4 1l.6 1.8l.4 .4l.6-3.6l.4-.6l.6-.3l.4-1l.6 1.1l.4-.4l1 1.7l.6 1.5l.4 4l.6 1.5l.4 1.5l.6 1.7l.4 2.8l.6 2.1l.4 1.9l.6 .6l.4-1.1l.6 2.5l.4 1.3l.6 .6l.4 .2l.6 8.9l.4 7.2l.6 1.3l.4 3l.6 .1l.4 1.4l.6 2.5l.4 4.5l.6-.7l.4-2.8l.6-4l.4 3l.6 2.4l1-1.7l.4-5.5l.6-10.8l.4-3.8l.6-7.2l.4-4.3l.6-3.3l.4-5.6l.6-2.9l.4-.3l.6-1l.4 3.3l.6-1l.4-2.4l.6-1.5l.4 4.3l.6 1.4l1 8.8l.4 1.6l.6 2.3l.4 2.5l.6 3.4l.4 3.1l.6-1.2l.4-2.2l.6-3.5l.4-2.4l.6 5.1l.4 6.3l.6-1.2l.4 .8l.6 3l.4 2.9l.6 3.2l.4-.4l.6 1l.4 1.3l.6 .5l.4 .3l.6-.1l.4-5l.6-2.3l.4 2.2l.6 2.8l.4 1.3l.6-.5l.4 2l.6 .6l.4-2.6l.6-1.1l.4 2.8l.6 10.5l.4 6.5l14.6 0l.4 1.6l.6-5.7l.4-12.3l.6-1.5l.4 16.3l.6 2.5l.4 1.4l.6-.2l.4 .1l.6 .3l.4-.1l.6 2l.4-2.1l.6-.6l.4 1.4l.6-.4l.4 1l.6-.2l.4-.5l.6 .6l.4-.5l.6 1l.4-.2l.6 .5l.4 .7l.6 1.9l.4-.7l.6 .3l.4 .2l.6 .2l.4 1.4l.6-.4l.4-.8l.6 .8l.4 .2l29.6 0l.4 1.2l.6 2.9l.4 2.4l.6 3l.4 1.2l.6 .9l.4 1.2l.6 3.2l.4 2.1l.6-.4l.4-.7l.6 .6l.4 3.1l.6 .4l.4 1.8l.6 .8l.4-1.3l.6-3.5l.4 1.7l.6 2.9l.4 6.1l.6 1.4l.4 1.4l.6 7.7l.4 10.2l9.6 0l.4-2.6l.6-2.7l.4 .3l.6 1.6l.4 3.3l.6 1.3l.4 2.3l.6 .5l.4 3.6l.6 3.1l.4 4.1l.6 1.2l5 0l.4 5.8l.6 3.7l98 0l.4 1.4l.6 1.9l.4 .2l13.6 0l.4-1.7l.6-2.7l.4 0l.6 2l.4 1l.6 3.3l.4 1.4l.6 1.7l5 0l.4 .9l.6 1.9l.4-.6l.6 1.5l.4 .6l.6 .9l.4 1.3l.6 .2l.4-1.1l.6-2l.4-3l.6-.3l.4-1.9l.6-.5l.4-1.1l.6-.5l.4 .2l.6-2.1l.4 1.1l.6-1.2l1-2.1l.4 .4l.6 2.9l.4 1l.6 1.3l.4 2l.6 .8l.4-.8l.6-1.3l.4-.6l.6-2.1l.4 1.7l.6 1.3l.4 2.2l.6 1.9l.4 .9l.6 2.9l.4 1.4l.6 2.1l.4 1.7l.6 .5l.4-.1l.6-.1l.4 .5l.6 .4l.4 1l.6 2.6l.4 2.5l52.6 0l.4 1.1l.6 3.9l.4 .2l7 0l.6-.9l1-.8l.4 .1l.6-4l.4-4.6l.6-3l.4-1.2l.6-4.8l.4 .6l.6-.4l.4 3.4l.6 1.9l1-.8l.4 2.2l.6 2.8l.4-1.4l.6-3.8l.4-.3l.6 5.2l.4 2.1l.6 .2l.4 1.1l.6 3.7l.4 1.6l.6-2.8l.4-1.5l.6 0l.4 6.3l.6 4.2l.4 1.9l.6 2.3l.4 3.9l.6 1.1l.4-3.2l.6-2.3l.4-2l.6-.4l1-.2l.4 1.2l.6 2.3l.4 .9l.6 1.5l.4-1l.6-.4l.4-2.1l.6-1.4l.4-2.3l.6-1.2l.4 .3l.6-.8l.4 3.3l.6 2l.4 3.2l.6 1.4l.4-.6l.6 0l.4-1.1l.6-1.3l.4-2l.6-3.3l.4-5.7l.6-3.9l.4-1l.6-2.8l.4-5.5l.6-3.4l.4-3l.6-1.6l.4-1.6l.6 .9l.4 1.6l.6-3.2l.4-1.8l.6-2.8l.4-2.9l1-2.7l.6-.4l.4-7.7l.6-9.4l.4 2l.6 3.8l.4 3.2l.6-1.8l.4-2.7l.6 1.4l.4 .9l.6-4l.4-.6l.6 9.4l.4 8.1l.6-2.4l.4-3.7l.6-2.7l.4 3.1l.6-1.2l.4-2.9l.6-.3l.4-7.1l.6-6.2l.4 2.8l.6-2.5l.4-8.7l.6-3.7l.4 2.7l.6 1.8l.4 1l.6 2.4l.4 2.5l.6 8l.4 4l.6-4.5l.4-1l.6 3.5l.4 1.7l.6 2.1l.4 3.3l.6 4.8l.4-4.5l.6-8.9l.4-5l.6-5.5l.4-3.5l.6-4.5l.4-5.7l.6-.8l1-6.6l.4-2.7l.6-3.5l.4-.8l.6-.3l.4-11.5l.6-11.4l.4-7.3l.6-6.5l.4-1.5l.6-2.4l.4-3.2l.6-3.2l.4 5l.6 3.3l.4 2.8l.6 1.2l.4 .1l.6-.2l.4 3.1l.6-.7l.4-.9l.6 2l.4 1.8l.6 2.1l.4 2l.6 1.6l.4 3.1l.6 5.8l.4-3.5l.6-3.7l.4-5.8l.6-9.2l.4-7.1l.6 .8l.4-.5l.6 .6l.4-2.7l.6-2.5l.4 16.1l.6 .4l.4-3l.6-10l.4-9.8l.6 2.9l.4 2.6l.6 1l.4 3l.6 .2l.4-2.8l.6-2.8l.4-5.7l.6-2.8l.4 2.4l.6 .8l.4-4.6l.6-8l.4-12.2l.6-8.4l.4-.1l.6 2.1l.4 9.1l.6 18.8l.4 4.5l.6-8.2l.4-6.9l.6 5.9l.4 4.2l1-6l.6 5.2l.4 3.5l.6 1.4l.4-1.6l.6-.5l.4 1.3l.6 2.4l1 1.9l.4 .6l.6-1.2l.4 1.9l.6 1.2l.4 2.1l.6-.9l.4 .1l.6 2.3l.4-1.7l.6-.1l.4-1.1l.6-1.6l.4-.1l.6 1.4l.4 2.4l.6-1.1l.4-4.1l.6-4.5l.4-.1l.6-2.1l.4 3.8l.6 .4l.4-5.1l.6-3.5l.4 2.1l.6 .4l.4-.9l.6-3.8l.4-3.2l.6 6.3l.4 4.4l.6-6.9l.4-6.6l.6-4.6l.4-6.2l.6-7.1l.4 0l.6 3.9l.4 4.4l.6 1.3l.4 .9l.6 3.5l.4 3l.6 4.6l.4 5.2l.6-5.7l.4-7l.6-1.4l.4 3.1l.6 2.1l.4 1.3l.6 4l.4-1.4l.6-.6l.4 .9l.6-3.7l.4-4.2l.6-4.8l.4-1.3l.6-3.6l.4 1.6l.6 3.2l.4-.7l.6-3.3l.4-5l.6 .3l.4-.6l.6 0l.4 6.9l.6 13.4l.4 4.8l.6 5.6l.4-6.5l.6-7.7l.4-5.4l.6-3.3l.4-3.1l.6 9.6l.4 6.8l.6-10.3l.4-10.8l.6 4.2l.4 10.6l.6 3.6l.4 .8l.6 1.6l.4-.8l.6-9.1l.4-10.9l.6 2.8l.4 2.2l.6 13.4l.4 12l.6 8.4l.4 2.4l.6 1.1l.4 3.9l.6-.7l.4 .9l.6-1.9l.4 2.3l.6 2.4l.4 1.1l.6 .1l.4 1.3l.6 1.7l.4 .1l.6 1l.4-.3l.6 1.4l.4 2.9l.6-.5l.4-1.1l.6-.9l.4 .5l.6 2l.4 4.3l.6 .9l.4 3.6l.6 3.7l.4 4.3l.6 3.8l.4-3.9l.6-6l.4-5.6l.6-5.9l.4-1.8l.6-2.2l.4-2.8l.6-1.6l.4-.6l.6 5.4l.4 5.5l.6 5.3l.4 2.2l1-13.7l.6 0l.4 0l.6 1.8l.4-.3l1-7.5l1-5.4l.6-2.4l.4-4.2l.6-5.1l.4-8.9l.6-2.6l.4 .6l.6 2.3l.4 2l.6 2.4l.4-2.6l.6-2.3l.4 4.2l.6 6.2l.4-.8l.6-1.5l.4-2.3l.6-3l.4-4.8l.6-5.5l.4-2.8l.6-2.4l.4-.9l.6-3l.4-2.7l.6-1.8l.4-.1l.6 3.7l.4 4.3l.6-.5l.4 .3l1 11l.6-1.8l.4-1l.6-7.1l.4-7.3l.6-.7l.4-.9l.6 1l.4-1l.6 .7l.4 3l.6 2.5l.4 3.8l.6 2.4l.4-1l.6-.9l.4 2.9l.6 3.9l1-9.2l.4-2.8l.6-4.6l.4 0l.6 .9l.4 .5l.6 .8l.4-1.9l.6 8.7l.4 11.6l.6 3.7l.4 1.8l.6 .7l.4-1.2l.6 2.8l.4 6.3l.6 3.9l.4 .8l.6 1.7l.4 1.2l.6 .4l.4 5l.6 3.7l.4 3l.6 3.8l.4 2.3l.6 3.8l.4 5.1l.6 5.1l.4 4.5l.6 2.7l.4 2.9l67 0l.6 2.4l.4 1.8l2.6 0l.4-2.1l.6-1.8l.4-2.4l.6-2.3l.4-2.1l.6-1.8l.4 4.4l.6 1l.4-.1l.6-.4l.4 2.8l.6 2.4l.4 .8l.6-1.4l.4-1.5l.6 2.5l.4 7.9l.6 5.3l.4-.8l.6-6.6l.4-5.3l.6-6.5l.4-4.8l.6-.1l.4 9.6l.6 2.2l.4-2.2l.6-3l.4-2.4l.6-.9l.4-2.5l.6-.3l.4-1.1l.6 1.2l.4 2.1l.6-3.8l.4-3.8l.6 2.2l.4 2.3l.6 2.3l.4 .4l.6 3.4l.4 1.8l.6 2.3l.4 1.3l.6 3.4l.4 2.6l.6 3.2l.4 4.6l.6 3l.4 1.8l4.6 0l.4 1.9l.6 4.6l.4 .2l1.6 0l.4 .7l.6 .5l.4 2.9l12 0l.6-1.4l.4-.6l.6-2l.4-1l.6-1.6l.4 1.8l.6 2l.4-1.4l.6-1.6l.4-.7l.6-2.9l.4-1.9l.6-.3l.4-1.1l.6 .4l.4 1l.6-.3l.4 1.3l.6 3.9l.4 2.4l.6 1.4l5 0l.4 .3l6 0l.6 .5l.4-.3l.6 .5l.4 3.2l.6-.2l4 0l1 1.3l.4 2.1l.6 .8l.4 .3l.6-.8l.4-6l.6-3.3l.4-2.3l.6-.1l.4 4l.6 .1l.4-2l.6-2.2l.4-1.5l.6-.9l.4-2.1l.6-.8l.4 .8l.6 .2l.4-.2l.6-.8l.4-1.9l.6 0l.4-.6l.6-.1l.4 2.3l.6 3.5l.4 2.5l.6 2.2l.4 .8l.6 1l.4-3.2l.6-3.3l.4-2.7l.6 4l.4 2.6l.6-4.7l.4-4.3l.6-4.9l.4-4l.6-2.6l.4-1.3l.6 2.1l.4 .2l.6-.2l.4 .2l.6-1.6l.4-3.3l.6-.5l.4 4.9l.6 3l.4 .1l.6 1l.4 1.3l.6-.2l.4-.4l.6 1.9l.4 4l.6-5.2l.4-6.1l.6 2l.4 1.8l.6 1.6l.4 2.2l.6-3.2l.4-2l.6-1.6l.4-1.7l.6 .5l.4 .4l.6 3.9l.4 4.4l.6 2.4l.4 1l.6 .5l.4 0l.6 1.2l.4-2l.6 1.1l.4-1.1l.6-2.5l.4-1.8l.6-3.8l.4-1.8l.6-1.3l.4-1.8l.6-.2l.4-.9l.6-1.5l.4-2l.6-.5l.4-1.9l.6 .4l.4 .9l.6 .8l.4 2.4l.6-2.4l.4-1.3l.6-2.5l.4-.9l.6-.9l.4-1.2l.6-.4l.4-1.8l.6 .2l.4-.2l.6-1l.4-2.6l.6 .8l.4-1.1l.6-8.3l.4-6.9l.6-4.6l.4 .9l.6 5.3l.4-7.2l.6-8.4l.4-6.1l.6-5.8l.4-2.3l.6-1.5l.4-3l.6 .5l.4-1.2l.6 6.7l.4 4.9l.6 3.3l.4 2.1l.6 .8l.4 2.3l.6-1.2l.4-2.9l.6 .1l.4 2.4l.6 1.8l.4 2.8l.6 3.9l1-5l.4-3.3l.6-4.1l.4 1.3l.6-2l.4-.9l.6-2.4l.4-2l.6-4.5l.4-2.6l.6-3.2l.4 1.3l.6 4.6l.4 16.6l.6 15.2l.4 2.1l.6-.4l.4-1l.6 .2l.4 1.4l.6 2.3l.4 .7l.6-4.4l.4-2.4l.6-2.3l.4-.4l.6-.1l.4-1.1l.6-.1l.4-3.4l.6-1.6l.4 2.5l.6 4.3l.4 .6l.6 2l.4-1l.6-3.7l.4-1.2l.6-1.6l.4-3.3l.6-1.9l.4-1.2l.6-3.5l.4-1l.6-3.2l.4-2.2l.6-.8l.4-2.3l.6-3.3l.4-1.9l.6-1.3l.4-2.2l.6-1.8l.4-.4l.6-2.1l.4-.8l.6-2.4l.4-1.9l.6-2.5l.4-1.5l.6-.7l.4-3.5l.6-.9l.4-1.3l.6-2l.4 .1l.6 .4l.4-1.2l.6 3.9l.4 4l.6 1l.4 0l.6 5.8l.4 2.9l.6-4.3l.4-4.5l.6-5.3l.4-1.5l.6-1l.4-1.4l.6 0l.4 3.3l.6 4.8l.4-3.2l.6-2.6l.4-2l.6-.3l.4 3.5l.6 4.2l.4 2.9l.6 2.5l.4-.9l.6-1.8l.4 1.1l.6 2l.4-.1l.6-1.3l.4-1.5l.6 3.4l.4 2.5l.6-2.6l.4-1.8l.6-1.4l.4-2.4l.6-.6l.4 4.4l.6-2.6l.4-3.9l.6 .8l1-4.8l.4 .1l.6-.9l.4 .5l.6 .8l.4 .9l.6 .5l.4 .9l.6 1.5l.4 1.3l.6 5.9l.4 4.3l.6 3.7l.4 2.7l.6 1.9l.4-2l.6-2.7l.4-5.7l.6 .9l.4-1.8l.6 4.6l.4 10.2l.6 12.5l.4-1.7l.6-1.3l.4-.9l.6-.7l.4-.2l.6 .9l.4-2.2l.6-4.7l.4-6l.6-4.7l.4-3.1l.6-6l.4-6.5l.6-1.9l.4 .9l.6 .3l.4 1.7l.6 2.6l.4 4.6l.6 1.8l.4 1.1l.6 4.1l.4 4l.6 .2l.4 1.4l.6-3.4l.4-1.7l.6-3.1l.4-3.2l1-5.1l.6-3.1l.4-2l.6-3.6l.4 .2l.6-.4l.4 0l.6 .6l.4-.5l.6 .6l.4 2.4l.6 4.8l.4 1.3l.6 .7l.4 2.5l.6-4.2l.4-5l.6 1l.4 1.3l.6-.2l.4-2.1l.6-2.8l.4 2.5l.6 6.5l.4 4l.6 5.3l.4 3.5l.6 3.7l.4 1.9l.6-.8l.4 1.3l.6 2.1l.4 1.5l.6 2l.4 1.4l.6 4.3l.4 6.2l.6 2.8l.4 .6l.6-.5l.4-1.4l.6-5.5l.4-4.8l.6-4.9l.4-3l.6 1.8l.4 0l.6 1.5l.4 .4l.6 .5l.4-2.7l.6-2.9l.4-2l.6-1.5l.4 1.1l.6 1l.4 1.4l.6 .2l.4 1.1l.6 5.4l.4 3.5l.6 3l.4 3.5l.6 2.6l.4 2.1l.6 1.3l.4-.4l.6 .2l19 0l.4 .4l.6 4.6l.4 3.4l.6-.6l.4-1.3l.6-.3l.4 1.9l.6 .7l.4-2.7l.6-2.8l.4 .8l.6 2.2l.4 .5l.6-.6l.4-2.7l.6 3.7l.4 2.3l.6-2.1l.4-1.7l.6-1.1l.4-2l.6 1.4l.4 2.9l.6 3.9l.4 2.1l.6 2.4l.4 .2l.6 1l.4 .3l17 0l.6 1.7l.4 1.2l.6 2l.4 1.1l.6 1l.4 1.6l.6 2.7l.4 5.2l.6-2.6l.4-3.1l.6-2.4l.4-2.6l.6-1.1l.4 2.8l.6 2.4l.4 0l.6 2.7l.4-1.4l.6-.8l.4-2l.6-4.6l.4-1.1l.6-2.2l.4-2.6l.6-3.9l.4-2.5l.6-.7l.4 .8l.6-.3l.4 .8l.6 0l.4 1.8l.6 2.3l.4 1.1l.6 2.6l.4-.3l.6 1.2l.4-.1l.6-1.6l.4-1.7l.6-2.4l.4-1.8l.6-1.4l.4 2.7l.6 3.5l.4 1.5l.6 2l.4 .1l.6 1.7l.4 2.6l.6 .4l.4 1.4l.6 1l.4-.5l.6-3.5l.4-3.8l.6-4.4l.4-3.2l.6-3.2l.4 1.8l.6 1.6l.4 .4l1 .9l.6-1.7l.4-1.6l.6-1l.4-3.4l.6-2.2l.4-2.5l.6-1.3l.4-2.6l.6-.3l.4-3l.6-1.2l.4-1.2l.6-.4l.4-1.9l.6 1.1l.4 2.6l.6 .9l.4 .7l.6 .3l.4 1.5l.6-1.3l.4 2.2l.6-1.9l.4-3.2l.6-3.8l.4-2.6l.6-2.4l.4-.8l.6-1.9l.4 .8l.6 2.4l1 1.4l.4-.3l.6-1.6l.4 .2l.6-1.9l.4 1.3" stroke="#2297E6"/>
<path d="M75.8 531.8l20.4 0l.6 3.3l.4 1.1l.6 2l.4 2.5l.6-2.1l.4-1.6l.6 .7l.4 3.9l.6 8l.4 8.7l.6 5.5l.4 4.4l.6 1.2l.4-1.6l15.6 0l.4 6.1l.6-1.4l.4-3.9l1-5.4l.6-3.8l.4-4.2l.6-4.9l.4-3.5l.6-4.2l.4 2.8l.6 3l.4 5.3l.6 .9l.4-.8l.6-2.7l.4-1.1l.6 3.4l.4 2.9l.6 1.7l.4 .1l.6-4.2l.4-3.8l.6 2.2l.4 3l.6 1.6l.4 3.6l.6 3.8l.4-1.7l.6-4l.4-4.8l.6-4.2l.4-2.2l.6-4.1l.4-3.6l.6-1.1l.4-4.1l.6-1.5l.4-1l.6-.5l.4 1l.6 .1l.4 5.2l.6 3.3l.4 3.3l.6 2.1l.4 3.8l.6 7.8l.4 4.1l.6 1l.4 1.2l.6-1l.4-1.9l.6-1.7l.4 3.9l.6 3.6l.4 1.9l.6 6l.4 3.1l.6 5.3l.4-2.9l.6-2.7l.4-1.9l.6-4.2l.4-1.9l.6-10.9l.4-12.4l.6-4l.4-5.7l.6-2.2l.4-2.3l.6-.3l.4 .7l.6-1.4l2.4 0l.6 .4l.4 7.2l.6 5.5l.4-1.8l.6-2.6l.4-1.5l.6-5.3l.4 1l.6 3.7l.4-1.6l.6-2.2l.4-2.1l.6 1.2l.4 1.3l.6-.5l.4 .1l.6-.3l.4-.7l.6-.2l.4-1.6l.6 .5l.4-.5l.6 4.2l.4 4.4l.6 2.2l.4 1.8l.6 1.4l.4-1.5l.6-1.7l.4-3.8l.6-2l.4-.2l.6 .1l.4 1.8l.6 1.3l.4 3.4l.6 2.6l.4-2.9l.6-6.1l.4-1.7l.6-2.9l.4 .4l.6 .3l.4 1.6l.6 3.9l.4 .2l.6 0l.4 1.2l.6-.9l.4-2.8l.6-2.5l.4 3.7l.6 4.1l.4-7l.6-2.6l.4 11.2l.6 20l.4 2.6l.6 1.7l.4 2.3l.6 .6l.4-2.2l.6-3.4l.4-4.9l.6-4l.4-.8l.6-1.8l.4-2.8l.6-5.2l.4-1.1l.6 3.7l.4 5.7l.6 1l.4-7.5l.6-7l.4-5l.6 1.8l.4-.5l.6 3.8l.4 5.1l.6 2.1l.4 .8l.6 3.5l.4-2.1l.6-1.9l.4-1.5l.6 1l.4 5.5l.6 5.3l.4-4.3l.6-4.5l.4-4.9l.6-.2l.4-1.8l.6-1.6l.4-1.7l.6-3.2l.4-.6l.6-2.5l.4-.7l.6 4.7l.4 7.6l.6 6.8l.4 6.5l.6 4.3l.4-1.3l.6-10.2l.4-9.4l1-8.2l.6 3.3l.4 .7l.6 5.4l.4 4.4l.6-.2l.4-2.6l.6-5.6l.4-3l.6-.6l.4-1.4l.6 2.6l.4 6.2l.6 8l.4 4.2l.6 3.2l.4 5.3l.6 6.4l.4 5.1l.6 8.3l.4 4.8l.6 1.1l.4 1l.6-1.9l.4-2.3l.6-3.2l.4-4.1l.6-.6l.4 0l.6-.7l.4-.5l.6-2.7l.4-8.6l.6-10.4l.4-3.6l.6-4.5l.4 1.2l.6-2.3l.4-3l.6-4.5l.4-3.3l.6-1.3l.4-.5l.6-.6l1 0l.4 4.1l.6 4.4l.4 4.6l.6 5.1l.4 1.2l.6-2.3l.4-1.8l.6 2.3l.4 3.5l.6-2.3l.4-1.8l.6 3.9l.4 2.4l.6 1.8l.4 2.3l.6-.9l.4-1.4l.6-3.2l.4-6l.6-6.6l.4-4.2l.6-4.6l.4 1.6l.6 7.2l.4 4l.6-1.6l.4-3.7l.6-4.3l.4-2.7l.6-1l.4 2.8l.6-.5l.4 3.3l.6 2l.4-.3l.6 .4l.4 0l.6 1.3l.4 .3l.6-3.2l.4 .5l.6-2.4l.4-3.2l.6-1l.4 2.4l.6 3.7l.4 6.1l.6 8.2l.4 7.2l.6 3.3l.4-3.6l.6-3.2l.4-1.3l.6-.7l.4-4.5l.6-6.4l.4-1.8l.6-3.5l.4-1.4l.6-1.9l.4-.2l.6 2.5l.4 3.4l.6 .8l.4 .7l.6 7.2l.4 4.7l.6-4.6l.4-5.2l.6-3.3l.4-2l.6 .9l.4 4.1l.6 2.8l.4 2.7l.6 2.3l.4-3.4l.6-4.1l.4-3.8l.6-2.1l.4-.2l.6 .3l.4 1.1l.6 .7l.4 2l.6 4.5l.4 3.2l.6-3.6l.4-3.7l.6-.1l.4 1.1l.6 1.3l.4-.8l.6 1.5l.4 3.6l.6 .9l.4 2.8l.6 3.6l.4-.1l.6 .8l.4-.3l4 0l.6-1.8l.4-7.5l.6-3.8l.4-2l.6-2.1l.4-.8l1-3.6l.6-1.6l.4-.8l.6 2.1l.4 .2l.6-2.9l.4 0l.6 1.1l.4 .6l.6 .2l.4-.7l1-1.2l.6 0l.4 1.3l.6 7.4l.4-1.4l.6-2.4l.4 4l.6 2.7l.4-.5l.6-.5l.4 3.8l.6-1.8l.4-3.8l.6 1.5l.4 1.1l.6-.4l.4-2.6l.6-2.5l.4-3.6l.6-1.1l.4-1.2l.6 .6l.4-.4l.6 .7l.4 .4l.6 .5l.4 .8l.6 1.2l.4-.7l.6 2.8l.4 0l.6 4.5l.4 3.8l.6 4.3l.4 3.6l.6 .7l.4-4.1l.6-5.9l.4-4l.6-1.5l.4-3.2l.6-3.3l.4 1.3l.6-1.5l.4 1.7l.6-1.2l.4-.4l.6 2.3l.4-.1l.6-.6l.4 1l.6 1.8l.4 .4l.6-3.6l.4-.6l.6-.3l.4-1l.6 1.1l.4-.4l1 1.7l.6 1.5l.4 4l.6 1.5l.4 1.5l.6 1.7l.4 2.8l.6 2.1l.4 1.9l.6 .6l.4-1.1l.6 2.5l.4 1.3l.6 .6l.4-.4l.6 7.7l.4 6l.6 .5l.4 2.4l.6 .7l.4 1.6l4.6 0l.4-1.4l.6-8.1l.4-3.8l.6-7.2l.4-3.8l.6-2.8l.4-5.1l.6-2.2l.4 .4l.6-2l.4 2.1l.6-.5l.4 .1l.6 .7l.4 3.6l.6 .8l1 8.7l.4 2.1l.6 3l.4 3.5l.6 4.5l.4 4.8l.6 4.4l.4 3.5l.6 .4l.4 1.4l.6-.2l26 0l.4-3.3l.6 .1l.4 1l.6-.1l.4-5.2l.6-4.9l.4 9.7l.6 8.6l.4 .4l.6 .2l.4 .9l.6-.2l.4-.5l.6 2.1l.4-2.3l.6-.5l.4 1.3l.6-.3l.4 .9l.6 1.1l.4-.3l.6 .6l.4-.3l.6 1.1l.4 0l.6 .7l.4 1.4l.6 2.8l.4 .1l.6 1.1l.4-.1l.6 2.8l.4 1.3l.6 1l.4 .6l.6-4.9l.4-3l.6-4.3l.4 3.6l.6 4.6l.4 .2l.6 .5l.4 .9l.6 1.9l.4 2.6l18 0l.6 .7l.4 4.9l.6 .1l5 0l.4-6.4l.6-1.6l.4 0l.6 2.1l.4 .5l.6 .6l.4-2l.6-1.4l.4 1.9l.6 5.2l.4-3.4l.6-6.1l.4 2.1l.6 2.2l.4 2.7l.6 0l.4 2.1l.6 .7l.4-2l.6-5.4l.4-.2l.6 4.2l.4 5.7l.6 .8l.4-6.3l.6 1.6l.4 16.9l.6 10.9l.4-.3l.6 1.9l.4-1.5l.6-.9l.4 2.7l.6-1.3l.4 .3l.6 1.1l.4 .8l.6 .2l.4 1.2l.6 1l.4 .3l.6 2l.4 1l.6 .9l.4-.8l.6-2.5l.4-2.3l.6-2.6l.4-.3l.6 2.6l.4 4.6l.6 3l.4 3.5l.6-1.9l.4-1.5l.6 3.6l.4 3l1-.6l.6 2.2l.4 1.9l.6-.3l.4-.5l.6 1.7l.4-1.1l.6-3.3l.4-2.7l.6 4.9l.4 5.9l40 0l.6 1.2l.4 2.1l.6-1.9l.4-1.8l.6 .4l.4 3l.6 2.6l.4-2.8l.6-1.6l.4 4.1l.6 2.3l23 0l.4-2.3l.6-1.7l.4-2.3l.6-.3l.4-.9l.6 .5l.4 4.2l.6 5.6l.4 .4l.6-.2l.4 .5l.6 .8l.4-1.1l.6 .4l.4-.3l.6 1.5l.4 .7l.6 .5l19.4 0l.6-1.9l.4-1.8l.6 1l.4-1.6l.6 2.3l.4 3.4l.6 2.9l.4 2.2l.6 3l11 .1l.4-1.5l.6-2l.4-3.3l.6-1.2l.4-1.8l.6 4.2l.4 1.7l.6 3.4l.4 1.1l.6 2l.4 1.9l.6 1.3l.4 1.2l.6 .6l.4 .1l.6-.7l.4 .2l.6-.9l.4-.1l.6 1.8l.4 1l.6 2l.4-.5l.6-1l.4-2.1l.6-.1l.4 2.8l.6-.8l.4-2.6l.6-3.1l.4-3l.6-.3l.4-1.9l.6-.5l.4-1.1l.6-.5l.4 .2l.6-2.1l.4 1.1l.6-1.2l1-2.1l.4 .4l.6 2.9l.4 1l.6 1.3l.4 2l.6 .8l.4-.8l.6-1.3l.4-.6l.6-2.1l.4 1.7l.6 1.3l.4 2.2l.6 1.9l.4 .9l.6 2.9l.4 1.4l.6 1.3l.4 .8l.6 0l41 0l.4-1l.6-1.2l.4-.9l.6 1l.4 2.5l.6 3.7l.4 .7l.6 1.1l.4 .1l.6-.2l.4-1.9l.6-1l.4-1.6l.6-.6l.4-1.1l.6-1.5l.4-3l.6-1l.4-2.6l.6 5.3l.4 7.3l.6 2.1l.4-1.6l.6-1.8l.4-4.4l.6-6.2l.4-3.4l.6-2.9l.4-2.8l.6-2.2l.4-1.5l.6 3.3l.4 3.2l.6 1.3l.4 1.5l.6 2.8l.4 2l.6-.4l.4-1l.6-.8l.4-1.9l.6-1.8l.4 2l.6 1.1l.4-1.6l.6-2.1l.4-3l.6-5.6l.4-2.8l.6-4.2l.4-3.9l.6-3.3l.4-3.9l.6-2.9l.4-.8l.6-5.6l.4 1l.6-.8l.4 3l.6 1.2l1-.4l.4 2.6l.6 3.5l.4-.7l.6-3.4l.4-.2l.6 5l.4 1l.6 2.3l.4 3.3l.6 4.3l.4 1.5l.6-2.7l.4-.8l.6 .1l.4 6.6l.6 4.4l.4 1.8l.6 2.4l.4 5.4l.6 1.9l.4-4.6l.6-3.9l.4-3.7l.6-2.2l.4-1.7l.6-1.6l.4 1.3l.6 3.9l.4 1.6l.6 2.4l.4-1.5l.6-1.1l.4-3.3l.6-2.1l.4-3.2l.6-1.6l.4 .7l.6-.9l.4 4.7l.6 3.1l.4 4.8l.6 2.1l.4-.9l.6-.1l.4 1.3l.6 1.2l.4 .9l.6-2l.4-9.3l.6-6.4l.4-2l.6-4.2l.4-7.7l.6-4.3l.4-3l.6-1.4l.4-1.7l.6 .4l.4 2l.6-2.8l.4-1l.6-2.1l1-5.5l.4-3l.6-2.1l.4-5l.6-9.2l.4-.9l.6 4.5l.4 1.5l.6-4.6l.4-4.3l.6 3.5l.4 3.1l.6-4.1l.4-3.2l.6 9.2l.4 10.9l.6-3l.4-3l.6-.2l.4 2.3l.6-5.3l.4-5.9l.6-5.4l.4-1.8l.6-4.6l.4-.6l.6-2.1l.4-6.6l.6-5.8l.4 .8l.6 2.8l.4 4.1l.6 5.8l.4 6.2l.6 4.8l.4 4.9l.6-1.8l.4-3l.6 3l.4 4.9l.6 3.1l.4 2.1l.6 2.7l.4-8.3l.6-10.7l.4-8.6l.6-9.9l.4-3.8l.6-2.2l.4-4.6l.6-5l.4-5.3l.6-4.3l.4-4.2l.6-6.5l.4-3.2l.6-2.9l.4-4.6l.6-3.8l.4-4.5l.6-3.2l.4 1.1l.6 .2l.4 0l.6 .7l.4 6.3l.6 3.3l.4 3.6l.6 3.1l.4 1.9l.6-2.6l.4 1.1l.6 3.1l.4 3.5l.6 1.8l.4 .5l.6 1.4l.4 2.4l.6 1.9l.4-.8l.6 2.3l.4 .2l.6 1.2l.4 1.5l.6 .8l.4-1.9l.6 1.1l.4-.4l.6-2.1l.4-6.3l.6-4.4l.4 18.7l.6 4.3l.4 .9l.6-7.6l.4-8.6l.6 4.8l.4 4.1l.6 2.9l.4 2.8l.6-.7l.4-3.9l.6-3.6l.4-5.7l.6-2.8l.4 2.4l.6 .8l.4-4.6l.6-8l.4-12.2l.6-8.4l.4-.1l.6 2.1l.4 9.1l.6 18.8l.4 4.5l.6-8.2l.4-6.9l.6 5.9l.4 4.2l1-6l.6 5.2l.4 3.5l.6 1.4l.4-1.6l.6-.5l.4 1.3l.6 2.4l1 1.9l.4 .6l.6-1.2l.4 1.9l.6 1.2l.4 2.1l.6-.9l.4 .1l.6 2.3l.4-1.7l.6-.1l.4-7.9l.6-5.3l.4-.2l.6 1l.4 1.9l.6-1.3l.4-4.4l.6-4.3l.4 .6l.6-1.7l.4 2.6l.6-1.1l.4-5.3l.6-3.5l.4 1.1l.6-.8l.4-.4l.6-1.3l.4-.9l.6 6.3l.4 4.5l.6-5.6l.4-5.2l.6-2.3l.4-3.7l.6-4.2l.4 0l.6 3.9l.4 4.4l.6 1.3l.4 .9l.6 3.5l.4 3l.6 4.6l.4 5.2l.6-5.7l.4-7l.6-1.4l.4 3.1l.6 2.1l.4 1.3l.6 4l.4-1.4l.6-.6l.4 .9l.6-3.7l.4-4.2l.6-4.8l.4-1.3l.6-3.6l.4 1.6l.6 3.2l.4-.7l.6-3.3l.4-5l.6 .3l.4-.6l.6 0l.4 6.9l.6 13.4l.4 4.8l.6 5.6l.4-6.5l.6-7.7l.4-5.4l.6-3.3l.4-3.1l.6 9.6l.4 6.8l.6-10.3l.4-10.8l.6 4.2l.4 10.6l.6 3.6l.4 .8l.6 1.6l.4-.8l.6-9.1l.4-10.9l.6 2.8l.4 2.2l.6 13.4l.4 10.2l.6 9.5l.4 3.7l.6 3.3l.4-.3l.6-.5l.4-2.3l.6 1l.4-1.4l.6 .7l.4 4.9l.6 2.4l.4 2.1l.6 1.7l.4 .4l.6 2.7l.4-1.3l.6 1.8l.4 3.5l.6 1l.4-2.1l.6 .8l.4 2.2l.6 2l.4 8.3l.6 8.6l.4 1.2l.6-.6l.4 .8l.6-.6l.4 1.1l.6 .3l.4-2.4l.6 1.3l.4-.3l.6-2.2l.4-.1l.6 2l.4 2.4l.6 1l.4 2.4l.6-.3l.4-.7l.6 1.3l.4 1.6l.6 .2l.4 2l.6 1.1l.4 .2l.6 .3l.4-.6l.6 .9l.4-1.1l.6-5.1l.4-3l.6-1.4l.4 .9l.6-3.3l.4-1.5l.6-3.1l.4 1.1l.6 3.4l.4 2.1l.6 1.3l.4 3.2l.6 4.6l.4-3.9l.6-1l.4-2.3l.6-1.9l.4-1.9l.6-2.9l.4-5.2l1-7.1l.6-2l.4-2.5l.6-2.3l.4-1.3l.6 3l.4 2.2l.6 2l.4-.4l.6 4.7l.4 3l.6-.4l.4-1.9l.6-5.3l.4-10.8l.6-6.5l.4-7l.6-4l.4-1.5l.6 .1l.4 1l.6 3l.4 4.3l.6 1.3l.4 2.9l.6 3.8l.4-5.2l1-11.5l.6-1.5l.4-4.3l.6-3.4l.4-2.7l.6-1.8l.4 1.3l.6 0l.4 4.8l.6 8.8l.4 8.5l.6-3.5l.4-2.4l.6 .8l.4 1.6l.6 4.8l.4 5.9l.6 4.4l.4 .7l1 3.4l.6-.1l.4 5.7l.6 3.6l.4 1.9l.6 .7l.4 .2l.6-.8l.4-5.3l.6-6.8l.4-4.4l.6 .8l.4 2.4l.6 1.6l.4-1.1l.6 9l.4 4.5l34 0l.6 .3l.4 6.8l.6-1l.4-.8l1-2.5l.6-1.4l.4 2.6l.6 2.6l.4 2.8l.6 3l.4 .2l.6-.5l.4 2.1l.6 3.6l.4-1.7l.6-3.5l.4-2l.6-2.2l.4 4.2l.6 6.2l.4-.5l.6-1.2l.4 8.2l.6 7.9l.4-.4l3.6 0l.4 2.5l.6 3.3l.4 3.2l.6 2l.4 1.1l.6 .4l.4 .6l.6 0l.4-.5l.6 .2l.4 .7l.6-.6l.4-2.5l.6-2l.4-2l.6-.7l.4 1l.6-2.8l.4-1.9l.6-4.2l.4-3.7l.6 0l.4 3.2l.6 4.4l.4-4.2l.6-6l.4-3l.6-4.9l.4 .3l.6 6.4l.4 5.2l.6 1.1l.4-.6l.6-1.5l.4-1.3l.6-4.3l.4-2.3l1-10l.6-3.8l.4-2l.6-1.9l.4 4.8l.6 1.3l.4 0l.6-.5l.4 2.9l.6 2.4l.4 .8l.6-1.4l.4-1.6l.6 2.6l.4 7.9l.6-.2l.4-2.9l.6-3.9l.4-3.4l.6-6.6l.4-4.7l.6-.8l.4 8.1l.6 2.3l.4-.6l.6-1.3l.4-2.6l.6-1.5l.4-3.2l.6-1l.4-1.6l.6 1.3l.4 2.1l.6-4.3l.4-3.9l.6 2.9l.4 2.8l.6 2l.4 0l.6 4.1l.4 2.5l.6 1.9l.4 .7l.6 3.1l.4 2.5l.6 3.2l.4 4.6l.6 2.9l.4 3.6l.6 2.1l.4 1.9l1 1l26 0l.6 1.7l.4 1.2l.6 2.3l.4 2l.6 3.5l.4 5.3l.6 .5l12 0l.4 .2l.6 1.7l.4 1.1l.6 3.2l.4 2l.6 1.9l.4-2.8l.6-.8l.4-.2l.6-1.5l.4 1l.6-.1l.4 1.2l.6-.5l.4-1.6l.6-.9l.4-1.3l.6-4.9l.4-2.5l.6 .1l.4-2.2l.6-.1l.4 3.9l.6 .2l.4-2l.6-2.2l.4-1.5l.6-1l.4-2l.6-.8l.4 .7l.6 .3l.4-.2l.6-.8l.4-1.9l.6 0l.4-.6l.6-.1l.4 2.4l.6 3.4l.4 2.5l.6 2.2l.4 .8l.6 1l.4-3.2l.6-3.3l.4-2.7l.6 3.5l.4 2.6l.6-4.2l.4-4.3l.6-4.9l.4-4l.6-2.6l.4-1.3l.6 2l.4 .3l.6-.2l.4 .2l.6-1.6l.4-3.3l.6-.5l.4 4.9l.6 3l.4 .1l.6 1l.4 1.5l.6 .3l.4 .1l.6 2.2l.4 3.9l.6-5.1l.4-7.4l1 3.6l.6 1.6l.4 2.2l.6-3.2l.4-2l.6-1.6l.4-1.7l.6 .5l.4 .4l.6 4.3l.4 4.7l.6 2.5l.4 .9l.6 .5l.4 0l.6 1.3l.4-2.1l.6 .7l.4-1.3l.6-2.6l.4-1.8l.6-3.8l.4-1.8l.6-1.3l.4-1.7l.6-.3l.4-.9l.6-1.5l.4-2l.6-.5l.4-1.9l.6 .4l.4 1l.6 .7l.4 2.4l.6-2.4l.4-1.3l.6-2.5l.4-.9l.6-.9l.4-1.2l.6-.4l.4-1.8l.6 .2l.4 0l.6-.6l.4-2.5l.6 .4l.4-1.4l.6-8.3l.4-6.9l.6-4.6l.4 .9l.6 5.3l.4-7.2l.6-8.4l.4-6.1l.6-5.8l.4-2.2l.6-1.2l.4-2.7l.6 .9l.4-.8l.6 6.7l.4 5.2l.6 3.9l.4 2.7l.6 .5l.4 1.9l.6-1.2l.4-2.9l.6 0l.4 2.9l.6 3.3l.4 5.3l.6 6.1l.4-5.3l.6-5.4l.4-3.5l.6-4.1l.4 1.3l.6-2l.4-.9l.6-2.4l.4-2l.6-4.5l.4-2.6l.6-3.2l.4 1.7l.6 5.7l.4 17.3l.6 15.9l.4 .4l.6-2.6l.4-2.1l.6 .5l.4 1.7l.6 2.3l.4 .7l.6-4.4l.4-2.4l.6 2.4l.4 4.9l.6-3.8l.4-4.2l.6-3.3l.4-2.6l.6-1l.4 2.6l.6 4.3l.4 2.9l.6 4.7l.4 .7l.6-2.2l.4-.1l.6-.6l.4-4.4l.6-3.7l.4-2.6l.6-4.8l.4-1.2l.6-3.2l.4-1.7l.6-.2l.4-2.2l.6-3.8l.4-2.5l.6-1.3l.4-2.3l.6-1.8l.4-.5l.6-1.6l.4-.2l.6-1.7l.4-1.2l.6-1.9l.4-1.5l.6-.7l.4-4.7l.6-2.4l.4-2.1l.6-2.6l.4 0l.6 1l.4-.6l.6 3.9l.4 4l.6-2.9l.4-4.3l.6 5l.4 2.9l.6-4.3l.4-4.5l.6-4.6l.4-.8l.6-1.7l.4-2.3l.6-1.1l.4 3.4l.6 4.5l.4-3.2l.6-2.6l.4-2.3l.6-.8l.4 3.5l.6 4.3l.4 2.9l.6 2.5l.4-.9l.6-1.9l.4 1.1l.6 2l.4 0l.6-1.3l.4-1.6l.6 3.5l.4 2.5l.6-2.7l.4-1.8l.6-1.3l.4-2.5l.6-.6l.4 3.7l.6-2.6l.4-3.9l.6 .8l1-4.8l.4 .1l.6-.9l.4 .5l.6 .8l.4 .9l.6 .5l.4 .9l.6 1.5l.4 1.3l.6 5.9l.4 4.3l.6 3.7l.4 2.7l.6 1.9l.4-2l.6-2.7l.4-5.7l.6 .9l.4-1.8l.6 4.6l.4 10.2l.6 12.5l.4 1.3l3 0l.6 0l.4-4.3l.6-2.9l.4-1.3l.6-3.9l.4-4.5l.6-1.4l.4-.2l.6 .4l.4 1.6l.6 2.7l.4 4.6l.6 2.5l.4 1.9l.6 2.7l.4 2.5l.6 .8l.4 2.1l.6-2.1l.4 0l.6-.4l.4-.9l.6-.3l.4-.4l.6-3.6l.4-2.5l.6-7.6l.4-4.5l.6-6.9l.4-6.1l.6-2.2l.4-3.4l.6 .6l.4 2.3l.6 5.2l.4 1.7l.6 .7l.4 2.5l.6-4.2l.4-5l.6 1l.4 1.3l.6-.9l.4-2.9l.6-3.3l.4 2.4l.6 7l.4 5.5l.6 6.7l.4 3.2l.6 3.1l.4 .6l.6-2.6l.4-.7l.6-1.5l.4-2.1l.6-7.7l.4 2.2l.6 17.2l.4 4.8l.6 .9l.4-1.1l.6-2.4l.4-.7l.6-1.8l.4-1l.6-1.7l.4 .3l.6 2.8l.4 .9l.6 1.8l.4-.5l.6-.3l.4-2.8l.6-1.6l.4-.9l.6-.5l.4 1.2l.6 .9l.4 1.1l.6-.1l.4-.1l.6 2.8l.4 1l.6 .8l.4 1.2l21.6 0l.4 .4l.6 4.6l.4 3.4l.6-.6l.4-1.3l.6-.3l.4 1.5l.6 .4l.4-6.3l.6-6.9l.4-1.1l.6 .7l.4 .6l.6 1.6l.4-.8l.6-.5l.4-2.1l.6-2.5l.4-1.6l.6 .5l.4-.2l.6 2.8l.4 3.6l.6 4.5l.4 2.7l.6 3.1l.4 .3l.6 1l.4 12.2l.6 14.4l13 0l.4 1.6l.6 3.6l.4-.2l.6-2.9l.4-.6l.6-1l.4 .3l.6 1l.4-.9l.6 2.7l.4 2.2l.6 2.3l.4 2.8l.6 1.1l.4 .3l.6-2.6l.4-2.8l.6-2.4l.4-2.5l.6-1.1l.4 2.8l.6 2.4l.4 0l.6 2.7l.4-1.4l.6-.8l.4-2l.6-4.6l.4-1.1l.6-2.2l.4-2.6l.6-3.9l.4-2.5l.6-.7l.4 .8l.6-.3l.4 .8l.6 0l.4 1.8l.6 2.3l.4 1.2l.6 2.5l.4 0l.6 1.4l.4 .2l.6-1.9l.4-1.9l.6-2.6l.4-1.9l.6-1.4l.4-.7l.6 0l.4 1.5l.6 2l.4 .1l.6 1.7l.4 2.6l.6 .4l.4 1.4l.6 1l.4-.5l.6-3.5l.4-3.8l.6-4.4l.4-3.2l.6-3.2l.4 1.8l.6 1.6l.4 .4l1 .9l.6-1.7l.4-1.6l.6-1l.4-3.4l.6-2.3l.4-2.4l.6-1.3l.4-2.6l.6-.3l.4-3l.6-1.2l.4-1.2l.6-.4l.4-1.9l.6 1.1l.4 2.6l.6 .9l.4 .7l.6 .3l.4 1.5l.6-1.3l.4 2.2l.6-1.9l.4-3.2l.6-3.8l.4-2.6l.6-2.4l.4-.8l.6-1.9l.4 .8l.6 2.4l.4 .7l.6 .7l.4-.3l.6-1.7l.4 .3l.6-1.9l.4 1.4" stroke="#61D04F"/>
<path d="M75.8 531.8l.4 1l.6 1l.4 1.3l.6 .8l.4 1.6l1 4.1l.6 1.9l.4 4.9l.6 3.1l.4 1l.6 3l.4-1l.6 .7l.4 4.9l.6 4.5l.4 3.6l.6 .7l.4 3l.6 8.7l.4 .7l2.6 0l.4-1.3l.6 0l.4 5.3l.6 1.6l.4 .6l.6 3.7l.4 5.4l.6-2l.4 1.1l.6-.5l.4-1l.6 1l.4-1.5l.6-3.3l.4 2.4l.6 4.1l.4 0l.6-.3l.4 .4l.6-1l.4-.7l.6 .5l.4 4.3l.6 5l.4 5.6l.6 6.1l.4 5.1l.6-.9l19 0l.4-16.3l.6-9.8l.4 2.1l.6 .8l.4-3.7l.6-3.6l.4 5.5l.6 2l.4-3.9l.6-6.4l.4-2.4l.6 4.6l.4 3.2l.6-10.2l.4-12.2l.6 8.5l.4 9.6l.6-2.4l.4-4.6l.6-2.4l1 7.2l.4-4.5l.6-6.9l.4-3l.6-2l.4-4l.6-6.6l.4-6l.6-3.7l.4-6.4l.6-2.6l.4-2.1l.6 1.6l.4 3.2l.6 .3l.4 4.9l.6 2.9l.4 3.8l.6 2.7l.4 3.5l.6 6.2l.4 1.6l.6-1.5l.4-1.3l.6-3.4l.4-2.3l.6 .4l.4 5.8l.6 3.6l.4-.2l.6 3.8l.4-1.4l.6 .9l.4-2.1l.6 .9l.4 1l.6-2.3l.4-1.5l.6-12l.4-14l.6-2.5l.4 1.2l.6-4.1l.4-4l.6-.6l.4 .3l.6-2.4l.4-.3l2 0l.6 .4l.4 7.2l.6 5.5l.4-1.8l.6-2.6l.4-1.5l.6-5.3l.4 1l.6 3.7l.4-1.6l.6-2.2l.4-2.1l.6 1.2l.4 1.3l.6-.5l.4 .1l.6-.3l.4-.7l.6-.2l.4-1.6l.6 .5l.4-.5l.6 4.2l.4 4.4l.6 2.2l.4 1.8l.6 1.4l.4-1.5l.6-1.7l.4-3.8l.6-2l.4-.2l.6 .1l.4 1.8l.6 1.3l.4 3.4l.6 2.6l.4-2.9l.6-6.1l.4-1.7l.6-2.9l.4 .4l.6 .3l.4 1.6l.6 3.9l.4 .2l.6 0l.4 1.2l.6-.9l.4-2.8l.6-2.5l.4 3.7l.6 4.1l.4-7l.6-2.6l.4 14.6l.6 16.4l.4 1.4l.6 2.2l.4 2.5l.6 3.8l.4 3.9l.6-.2l.4-7l.6-4.9l.4 2.7l.6 2.7l.4-2.6l.6-5.3l.4-2.5l.6 3.2l.4 1.1l.6-.8l.4-6.1l.6-5.1l.4-1.5l.6 3.3l.4 1.7l.6 3l.4 4.1l.6 3.4l.4-2l.6 1.8l.4-1.4l.6-3.8l.4-2.7l.6 1.4l.4 4.5l.6 1.3l.4-1.3l.6 1.9l.4 .5l.6-2.3l.4-2.1l.6-1.6l.4-3.1l.6-3.6l.4-2.4l.6-5.6l.4-6.9l.6 3.7l.4 7.7l.6 3.2l.4 .5l.6 11.9l.4 1.6l.6-12.1l.4-11.2l.6-5.1l.4-5.2l.6 4.3l.4 1.8l.6 6l.4 5l.6-.1l.4-3.2l.6-6.3l.4-4.1l.6-1.6l.4-1.1l.6 3l.4 4.4l.6 6.2l.4 2.9l.6 2.6l.4 4.7l.6 5.7l.4 4.4l.6 1.6l.4 1.2l2.6 0l.4-.2l.6 1.2l.4 1.5l.6-1l.4-3l.6-4.8l.4-5.9l.6-7.4l.4 3.4l.6 2.7l.4 1.9l.6-2.2l.4-3.9l.6-6.4l.4-5.3l.6-4.4l.4-3.8l.6-1.3l.4 .6l.6 .1l.4 5.1l.6 5.5l.4 5.3l.6 5.7l.4 1.5l.6-2.3l.4-1.7l.6 2.2l.4 3.5l.6-2.3l.4-1.8l.6 3.9l.4 2.4l.6 2l.4 2.6l.6-.6l.4-1.8l.6-3.6l.4-6.6l.6-7.4l.4-5.1l.6-5.6l.4 1.9l.6 8.7l.4 4l.6-1.6l.4-3.7l.6-4.6l.4-3.2l.6-1.8l.4 2.9l.6-.5l.4 3.8l.6 2.6l.4 0l.6 .1l.4-.4l.6 1.7l.4 .7l.6-3.5l.4 .2l.6-2.7l.4-3.6l.6-2.1l.4 4.3l1 8.2l.6 6.3l.4 4.8l.6 2.7l.4-1.4l.6-.8l.4-.3l.6 .7l.4-.1l.6-3.3l.4-.4l.6-1.9l.4-2l.6-2.8l.4 1.8l.6 4.4l.4 5.2l.6 3l.4 4l.6 .4l.4-.1l.6 1.7l.4 1.4l.6 1l.4 1.3l.6 1.3l.4 0l.6 .4l.4-3.4l.6 1.2l.4 3l.6 1l.4 .8l.6-.2l.4-2.9l.6-1.4l.4 2.6l.6 3.3l.4 .5l.6 3.2l.4-1.4l.6-2l.4-1.2l.6 3.4l.4-1l.6-1.5l.4-2.7l.6 2.3l.4 2.8l.6 2.9l.4 1l.6 3.6l.4 .2l.6 .4l.4-1.2l.6 0l.4 1.1l.6-.8l.4 .5l.6-1.4l.4 .2l.6-.1l.4 1.3l.6-3.7l1-8.4l1-5.6l.4-1.5l1-4.8l.6-2.2l.4-1.4l.6 1.3l.4-2.6l.6-5.6l.4-1.1l.6 2.4l.4-.5l.6-2.6l.4-3.5l.6-2.4l.4-2.7l.6-6.4l.4-.7l.6 8.4l.4-1.4l.6-2.4l.4 4.3l.6 3l.4-.3l.6-.5l.4 3.8l.6-1.8l.4-3.8l.6 1.5l.4 1.2l.6-.8l.4-3.1l.6-2.8l.4-4l.6-1.5l.4-1.7l.6 .7l.4-.4l.6 .8l.4 .3l.6 .5l.4 .9l.6 1.6l.4-.4l.6 3.3l.4 .5l.6 5l.4 4.5l.6 5l.4 4.1l.6 .9l.4-4.4l.6-6.1l.4 .3l.6 2.9l.4-4.3l.6-4.7l.4-1.3l.6-4.2l.4-.4l.6-2.2l.4-1.4l.6 1.8l.4 .1l.6-.3l.4 1.3l.6 2l.4 .7l.6-3.9l.4-1l.6-.7l.4-1.3l.6 1.4l.4-.2l.6 1.1l.4 .9l.6 1.4l.4 4.3l.6 1.9l.4 2.6l.6 2.7l.4 4.5l.6 4.1l.4 2.8l.6 .4l.4-1.4l.6 2.4l.4 1.2l.6 .6l.4 .3l7.6 0l.4 .3l.6 0l.4-.2l.6-5.8l.4-3l.6-3.3l.4-5.6l.6-2.2l.4 .3l.6-2.6l.4 1.5l.6-.8l.4 .1l.6 .7l.4 3.6l.6 .8l1 7.2l.4 2.1l.6 3l.4 2.9l.6 3.3l.4 3.5l.6 2.9l.4 2.1l.6 2.7l.4-.1l.6 1.8l.4-.2l25.6 0l.4-3.9l.6-.9l.4-.2l.6-4.3l.4-9.6l.6-19.7l.4 17.3l.6 12.7l.4 2.1l.6 2.9l.4 2.1l.6 2.7l.4-.8l.6 1.6l.4-3.4l.6-2.2l.4-2.4l.6-2.4l.4 .4l.6-1.3l.4-1.5l.6 .7l.4 2.3l.6 4.5l.4 4.8l.6 5.3l.4 .1l.6 1.4l.4-.4l.6 .9l.4 1l.6-.9l.4-3.1l.6-.1l.4 3.6l.6-2.5l.4-3.4l.6-4.7l.4 4l.6 5l.4 .5l.6 .8l.4 .4l.6 .7l.4 1.4l17.6 0l.4 1.1l.6 0l.4 .8l.6 3.7l.4 4.5l.6 2.2l.4-3.4l.6-2.9l.4-1.3l.6-2.3l.4-2.2l.6-2.5l.4-1.1l.6-3.7l.4-2.2l.6-1.2l.4 0l.6 2.3l.4 .4l.6 .6l.4-2.1l.6-1.5l.4 1.8l.6 5.4l.4-.1l.6-2.5l.4 1.6l.6 1l.4 .8l.6-2.9l.4-.6l.6-.1l.4-3.1l.6 1.8l.4-.5l.6-7.5l.4-4l.6-2.6l.4-1.4l.6 5.9l.4 19.4l.6 12.1l.4-.3l.6 1.9l.4-.9l.6-1.7l.4 .8l5.6 0l.4-.8l.6-.7l.4-.4l.6-1.1l.4-.2l.6 4.1l.4 4.1l.6 3.5l.4 1.3l.6 0l.4 .9l.6 1.1l.4 1.7l.6 7.9l.4 .8l3 0l.6 2.2l.4 4.1l.6 5l14 0l.4 .4l19 0l.6 .3l.4 1.1l.6 1.9l.4-1l.6-1.5l.4-2.6l.6 1.7l.4-.5l.6 1.2l.4-1l.6-3.6l.4-2.5l.6-.4l.4-.2l.6-1.4l.4-1.2l.6 1.3l.4 1.4l.6 1.3l.4-2.8l.6-1.6l.4 .8l.6 2l.4 6.6l.6 3.1l.4 2.7l.6 1.2l.4-.2l.6 0l.4-.1l.6 .9l.4-.1l.6-1l.4 .3l.6 .5l.4 4l.6 2l17 0l.4-.8l.6-3.9l.4-1.5l.6 .1l.4 .2l.6 .4l.4 .8l.6 7.3l.4 1.1l.6-.3l.4 .6l.6 .8l.4-1.2l.6 .5l.4-.3l.6 1.6l.4 .1l.6 2.3l.4 4l.6 1.6l.4 2.9l.6 .2l14 0l.4 2.2l.6-.9l.4-1.9l.6-1.7l.4-1.8l.6 .1l.4-1.3l.6-1l.4-.7l.6-1.3l.4 2.4l.6 2.1l.4 3.9l.6 2.2l.4 3.3l1 3.7l.6 .5l.4-1.2l.6 .3l.4 .6l.6-.4l.4 1.9l.6 0l.4 1.6l.6 1l.4 .4l.6-.4l.4-1.7l.6-.1l.4 0l.6 1.9l.4 .5l1 .5l.6-1.1l.4-.1l.6-2.5l.4-3.1l.6-2.6l.4-2.3l.6-3.4l.4-.8l.6 1.1l.4 .6l.6 3.3l.4 1.6l.6 2.3l.4 3.5l.6 1l.4 1.5l.6 1.2l.4 .2l.6-.6l.4 2l.6-1.1l.4-1.4l.6-.5l.4 1.7l.6 2.1l.4 1.1l.6 .5l.4-.7l.6-1.8l.4-.8l1-3.6l.6-2.3l.4-2.6l.6 .3l.4-1.5l.6-.5l.4-1.1l.6-.4l.4 .9l.6-1.4l.4 1.8l.6-1.5l.4-1.4l.6-1.8l.4-.3l.6 3.1l.4 1.3l.6 1.6l.4 2.3l.6 1.1l.4-1.5l.6-2.1l.4-.5l.6-2.2l.4 2l.6 1.6l.4 2.3l.6 1.5l.4 .7l.6 3.6l.4 2.1l.6 .1l32.4 0l.6 10.8l.4 7.1l.6 .1l.4 .4l.6-.9l.4 .9l.6-.1l.4 .8l.6 1.8l.4 2.7l.6 6.5l.4-.2l.6-1.8l.4-2.1l.6-5.3l.4-6.2l.6-1.6l.4-3.1l.6-2.7l.4-2.5l.6-2.5l.4-2.5l.6-2.7l.4-2.8l.6-1.6l.4 1.6l.6 2l.4-1.1l.6-.9l.4-2.5l.6-1.6l.4-.7l.6 2.7l.4 2l.6-2.8l.4-4.5l.6-1.4l.4-3.1l.6 4.5l.4 6.6l.6 2.1l.4-.6l.6-.7l.4-4.9l.6-7l.4-2.8l.6-2.1l.4-3.1l.6-2.9l.4-2.4l.6 2.8l.4 2.7l.6 1.3l.4 1.4l.6 2.6l.4 1.7l.6-.7l.4-1.5l.6-.8l.4-1.6l.6-1.4l.4 3.2l.6 2.1l.4-2.8l.6-3.5l.4-2.8l.6-5l.4-1.9l.6-3l.4-2.7l.6-1.2l.4-1.7l.6-12.1l.4 1.4l.6-6.4l.4 2.3l.6 .2l.4 2.3l.6-.4l1-.4l.4-1.9l.6-1.3l.4-.3l.6 .8l.4 2.7l.6 6.5l.4 1.9l.6 2.1l.4 3.6l.6 2.6l.4-1.5l.6-4.2l.4-1.2l.6-.1l.4 7.1l.6 9.8l.4 6.3l9.6 0l.4 1.3l.6 1l.4 1.4l.6 .6l.4-.1l.6-.7l.4-1l.6 1.9l.4-.4l.6 0l.4 2.1l.6 2.4l.4 .2l.6-3.7l.4-2.4l.6-4.6l.4-6.8l.6-3.7l.4-3.4l.6-2.3l.4-1.8l.6-1.6l.4-.7l.6 1.7l.4-2l.6-3l.4-2.4l.6-1.4l.4-3.9l.6-2.3l.4-2.9l.6-10.4l.4-2.8l.6 4.5l.4 1.6l.6-4.7l.4-4.3l.6 3.5l.4 3.1l.6-4.1l.4-3.2l.6 9.2l.4 10.9l.6-3l.4-3l.6 .5l.4 2.9l.6-5.1l.4-5.9l.6-5.4l.4-1.8l.6-4.6l.4-.6l.6-2.1l.4-6.6l.6-5.8l.4 .8l.6 2.8l.4 4.1l.6 5.8l.4 6.2l.6 3.3l.4 3.6l.6-1.9l.4-3.1l.6 1.9l.4 3.7l.6 2l.4 1.6l.6 2l.4-6.8l.6-9.2l.4-7.3l.6-8.4l.4-3l.6-1.5l.4-4.1l.6-4.3l.4-4.7l.6-3.6l.4-3.5l.6-5.7l.4-2.6l.6-2.2l.4-4l.6-3.7l.4-5.1l.6-3.8l.4 .7l.6-.1l.4 .8l.6 1.1l.4 6.6l.6 3.7l.4 3.7l.6 2.4l.4 1.3l.6-2.6l.4 1.1l.6 3.1l.4 3.5l.6-1.7l.4-3.9l.6-1l.4 2.7l.6 2.3l.4 .7l.6 3.8l.4 4l.6 5.1l.4-3.4l.6-15.3l.4-5.5l.6-6.1l.4-4.4l.6-2.6l.4 4.1l.6 1.8l.4 3.5l.6-6.2l.4-3.6l.6 1.5l.4 1.4l.6 2l.4 2.3l.6 3l.4 5.3l.6-1l.4-6.1l.6-1.3l.4-2l.6-5.2l.4 .8l.6 .5l.4 .9l.6-3.2l.4 2.4l.6-.8l.4 0l.6 2.5l.4 5.8l.6 13.2l.4 2.7l.6-1.1l.4-5.4l.6 4.7l.4 2.5l.6-1l.4-2.2l.6 1.2l.4 2.2l.6 .4l.4-4.2l.6 .4l.4-.2l.6-1l.4 2l.6 3.7l.4-1.8l.6-.4l.4 1.3l.6 3.4l.4 2.9l.6 4l.4 4.3l.6 .8l.4 2.3l.6-.1l.4-.8l.6-.7l.4 0l.6 1.7l.4 2.7l.6 1.3l.4 2l.6 .6l.4 3.2l.6 .5l.4 1.4l.6-2.8l.4-3.2l.6-3.6l.4 .6l.6-.9l.4 2.3l.6-3.4l.4-1.9l.6 4.5l.4 5.3l.6-6.2l.4-7.8l.6-3.7l.4-7.8l.6-5.9l.4-5.7l.6-5.3l.4-1.7l.6 4.1l.4 3l.6 2.3l.4 3.2l.6 3l.4 4.3l.6-3.4l.4-7.2l.6 2l.4 5.5l.6 8.2l.4 5.5l.6 4.6l.4-3.2l.6-3.7l.4-4.1l.6-3l.4-3.1l.6-3.4l.4-8.3l.6-10.1l.4 .7l.6 3.2l.4-.7l.6-3.3l.4-5l.6 .3l.4-.6l.6 0l.4 6.9l.6 13.4l.4 4.8l.6 5.6l.4-6.5l.6-7.7l.4-5.4l.6-3.3l.4-3.1l.6 9.6l.4 6.8l.6-10.3l.4-10.8l.6 4.2l.4 10.6l.6 3.6l.4 .8l.6 1.6l.4-.8l.6-9.1l.4-10.9l.6 2.8l.4 2.2l.6 13.4l.4 9.7l.6 3.5l.4 2.2l.6 1.1l.4 4.3l.6-.5l.4 2.3l.6 .9l.4 5.1l.6 3.8l.4 2.4l.6-.3l.4 .8l.6 1.2l.4 .1l13.6 0l.4-.3l.6 .7l.4 1.1l.6 .4l.4 2.5l.6 1l.4-.2l.6 .1l.4-1.6l.6 .1l.4-2.2l.6-4.1l.4-1.4l.6 .5l.4 2.9l1-6.4l.6-5.1l.4 .9l.6 3.6l.4 2.9l.6 2l.4 2.1l.6 3.4l.4-4.4l.6-1.2l.4-1.7l.6-1.1l.4-.7l.6-1.5l.4-5.3l1-9.6l.6-3.4l.4-4l.6-1.2l.4-1l.6 2.3l.4 1.5l.6 2.8l.4 .2l.6 2.9l.4 .7l.6-1.3l.4-2.6l.6-4.5l.4-7.5l.6-6.3l.4-7l.6-3.4l.4-.5l.6 1.3l.4 2.5l.6 4.6l.4 5.3l.6 1.8l.4-1.7l.6-1.2l.4 2.7l.6 5.1l.4-6.6l.6-2.1l.4-5.1l.6-4l.4-2.1l.6-.6l.4 .9l.6-.9l.4 2.6l.6 9.5l.4 9.3l.6 1.6l.4 3.4l.6 .4l.4-.3l.6 3.4l.4 5.2l.6 3.9l.4 .6l.6 1.8l.4 .1l3.6 0l.4 .3l28.6 0l.4-2.1l.6-1l.4-1.3l.6-4.1l.4-9.3l.6-7.8l.4 2.3l.6 1.8l.4-5.7l.6-3.2l.4 .9l.6 .8l.4-.3l.6-4.2l.4-4l.6-.7l.4-1.7l.6 3.1l.4 2.1l.6 4.3l.4 4.2l.6-3.3l.4-3.8l.6-.8l.4-1.4l.6 1.1l.4 4.2l.6 4l.4-.9l.6-1.9l.4 2l.6 1.9l.4-3.8l.6-6.1l.4-1.2l.6-1.9l.4-1l.6-1.9l.4 6.7l.6 8.6l1 9.8l.4 3.7l.6 3.8l10 0l.4 .6l.6-1.3l.4 .2l.6 .7l.4 1.1l.6 3.8l.4-1.3l.6-5.3l.4-5.2l.6 6.6l.4 7.7l.6 3.9l.4 .3l.6-6l.4-9.9l.6-3.2l.4 5.2l.6 3.9l.4 2.2l.6-.7l.4 .3l.6-1.9l.4-1.4l.6-4.3l.4-.3l.6-4.8l.4-6.7l.6-5.3l.4-2.3l.6-.4l.4 1.5l.6 4.5l.4 .5l.6-1.9l.4 0l.6 2l.4 2.5l.6-.3l.4-.4l.6 1l.4 11.1l.6 5.2l.4-1l.6-5.8l.4-7.7l.6-5.2l.4-4.4l.6 .5l.4 5.8l.6 6.9l.4-1.7l.6-.7l.4-2.3l.6-.9l.4-5.3l.6-1.7l.4-2.1l.6-.5l.4 1.9l.6-1.6l.4-1.9l.6 .8l.4 1.4l.6 2.2l.4 3.8l.6 4l.4-1.6l.6 1.5l.4 1.2l.6 1.1l.4 .5l24 0l.6-4.5l.4-1.7l.6 2.1l.4 1.8l.6-.4l.4-5.1l.6 .5l.4 2.2l.6-3l.4-1.8l.6-2.4l.4-1.9l.6-3.1l.4 2.1l.6 .9l1 12.4l.4 6.5l.6 5.9l4 0l.4-1.6l.6-1.8l.4-.4l.6 2.7l.4 3.2l.6 3.4l.4 .7l.6 .4l.4 .5l.6 1.4l.4-1.3l.6-1.8l.4-.1l.6-2.4l.4 .9l.6-.7l.4-1.7l.6-.7l.4 3.9l.6 .6l.4 .4l.6 .8l.4 .3l.6-.1l.4-2l.6 2l.4 1.6l.6 .4l.4-.8l.6-.9l.4 1.2l.6-.6l.4-1.3l.6-2l.4 .1l1-8.6l.6-5l.4-.5l.6 1.5l.4-1.3l.6-1.3l.4-3.4l.6-.5l.4-2.5l.6-2.7l.4-.1l.6 1.5l.4 2.9l.6 1.5l.4 1.3l.6-2l.4-3.4l.6 2.6l.4 1.4l.6 3.3l.4 .8l.6 2.3l.4 1.2l.6 1.4l.4-1.7l.6-1l.4-4l.6-.9l.4-.1l.6-.2l.4-3.1l.6-4.6l.4-3.6l1-4.2l.6-2.1l.4 .5l.6 5l.4-.7l.6-2.2l.4-.4l.6-2.6l.4-.9l.6 6.7l.4 1.9l.6 1.6l.4 1.6l.6 1.3l.4 2.8l.6-2l.4-6l.6-5.4l.4 3.6l.6 7l.4 0l.6 4l.4 .4l.6 2l.4 .2l.6-6.1l.4-6.4l.6-1.4l.4 .2l.6 6l.4 2.1l.6 4l.4 5.2l.6 1.3l4 0l.4-1l.6-1.7l.4-2.8l.6-1.1l.4-3l.6-3.5l.4-3.2l.6 1.4l.4-.7l.6-.7l.4 1.2l.6 1.9l.4-4l.6-1.5l.4-1.7l.6-1l.4-3l.6 1.4l.4-.8l.6-.3l.4-.7l.6-.9l.4 .3l.6-.3l.4-.1l.6 .1l.4-.1l.6 1.2l.4-1.2l.6 0l.4 .3l.6 0l.4 3.5l.6 3.7l.4-3.1l.6-3.3l.4-.6l.6-.3l.4 2.1l.6-2.3l.4 .3l.6 5.1l.4 6.1l.6 3.4l.4 2.7l.6 1.3l.4 .9l.6 .7l.4 .5l.6 .9l.4 4.2l.6 3.5l.4 5l.6 3.9l.4-1.3l.6-2.9l.4-4l.6-5.9l.4-3.7l.6 1l.4-.6l.6 1.4l.4-3.6l.6-5.5l.4-3.2l.6-6.2l.4-2.4l.6 12.7l.4 15.7l.6 15.6l.4 1.2l11.6 0l.4-2.7l.6-1.1l.4 .3l.6-1.6l.4-1.3l.6-3.6l.4-1.6l.6-4.1l.4-.2l.6-3.8l.4 .9l.6-1l.4-4.7l.6-.3l.4-4.3l.6-1l.4-5.8l.6 .4l.4 .4l.6-1.7l.4-3l.6 1.5l.4-2.4l.6-3.4l.4-1.3l.6 .3l.4-1.3l.6-.1l.4 .8l.6 3.5l.4 3.7l.6 2.2l.4 .8l.6 1.3l.4 4.9l.6-2.2l.4-5.3l.6-3.2l.4-3.6l.6-2.9l.4 .9l.6-.2l.4 2.3l.6 3.7l.4-2.3l.6-2l.4 .5l.6-1.6l.4 2.9l.6 2.5l.4 2.2l.6 2.5l.4-1.5l.6-1.7l.4 1.9l.6 3.2l.4-1.9l.6-1.4l.4-.3l.6 1.7l.4 3.2l1-4.1l.6 1.3l.4-3.2l.6 1.3l.4 1.9l.6-2.6l.4-3.9l.6 .8l1-4.8l.4 .1l.6-.9l.4 .5l.6 .8l.4 .9l.6 .5l.4 .9l.6 1.5l.4 1.3l.6 5.9l.4 4.9l.6 2.9l.4 .4l.6 0l10 0l.4-7.1l.6-3.1l.4 0l.6 .3l.4 1.6l.6 2.7l.4 4.6l.6 1.8l.4 1.1l.6 2.7l.4 2.6l.6-.1l.4 1.1l.6-3.1l.4 .2l.6-1l.4-1.8l.6-1.2l.4-1.3l.6-2.9l.4-1.8l.6-5.7l.4-2.2l.6-3.7l.4-2.9l.6-.4l.4-1.6l.6 .6l.4 2.4l.6 6.3l.4 2.8l.6 .7l.4 2.5l.6-4.2l.4-5l.6 1l.4 1.3l.6-.9l.4-2.9l.6-3.8l.4 2.4l.6 7.5l.4 4.8l.6 6l.4 3.6l.6 3.7l.4 1.9l.6-.7l.4 1.3l.6 3.5l.4 2.9l.6 10.4l.4 6.1l35 0l.6-3.4l.4-4.4l.6-5.3l.4 7.1l.6 4.6l.4 4l.6-3l.4-3.5l.6-7.4l1-13l.4-1.3l.6 .4l.4 .6l.6 1.9l.4-.5l.6-.1l.4-1.7l.6-2.2l.4-1.2l.6 .1l.4-.8l.6 2.1l.4 3.1l.6 2l.4 .5l.6 4.1l.4 3l.6 11.5l.4 9.2l.6 9.3l12 0l.4 1.4l.6 3.8l.4-.5l.6-.3l.4-.6l.6-2.6l.4-.3l.6-.7l1 1.3l.4-1.3l.6 2.7l.4 2.2l.6 2.6l.4 3.3l.6 1.8l.4 1.1l.6-3l.4-3.1l.6-2.4l.4-2.6l.6-1.1l.4 2.8l.6 2.4l.4 0l.6 2.7l.4-1.4l.6-.8l.4-2l.6-4.6l.4-1.1l.6-2.2l.4-2.6l.6-3.9l.4-2.5l.6-.7l.4 .8l.6-.3l.4 .8l.6 0l.4 1.8l.6 2.3l.4 1.1l.6 2.6l.4-.3l.6 1.2l.4-.1l.6-1.6l.4-1.7l.6-2.4l.4-1.8l.6-1.4l.4-.4l.6 .5l.4 1.5l.6 2l.4 0l.6 1.7l.4 2.7l.6 .5l.4 1.6l.6 1.3l.4 1.7l.6 1l.4 .7l.6-1.2l.4-1.7l.6-1.8l.4 .4l.6 .1l.4 .3l1.6 1.4l.4 .7l.6 1.3l.4-4.8l.6-3.7l.4-4l.6-1.1l.4-2.3l.6 .3l.4-2.3l.6-1l.4-1.4l.6-.7l.4-2l.6 1.1l.4 2.6l.6 .8l.4 .7l.6 .5l.4 1.4l.6-1.2l.4 2.1l.6-1.8l.4-2.9l.6-3.5l.4-2.6l.6-2.3l.4-.9l.6-1.8l.4 .8l.6 2.3l1 1.4l.4-.2l.6-1.7l.4 .3l.6-2l.4 .7" stroke="#DF536B"/>
<path d="M75.8 531.8l.4 .8l.6 .5l.4 .9l.6 2.1l.4 2.4l.6 3.5l.4 2l.6 4l.4 1.3l9 0l.6-1l.4-.8l.6 2.8l.4 4.5l.6 3.5l.4 2.4l.6 1.3l.4 .9l.6-1l.4-1.6l.6 .7l.4-4.2l.6-3l.4 .5l.6 1.1l.4-1.8l.6-6.6l.4-7.1l.6-.7l.4-.7l.6 3.1l.4-.5l.6 7.8l.4 7.8l.6 3.4l.4 .1l.6 1.6l.4 1l14 0l.6-1.5l.4 0l.6 5.6l.4 3.3l.6 .8l.4 2.7l.6 0l.4-4.7l.6-24.9l.4-10.1l.6 4l.4-3.7l.6-2.5l.4 2.3l.6 5.8l.4-4.9l.6-2.6l.4-.5l.6-.1l.4 2.1l.6 2.4l.4-3.9l.6 9l.4 16.8l.6-2.4l.4-4.6l.6-3.3l.4-3l.6 .5l.4 1.7l.6 6.1l.4-6.3l.6-6.6l.4-2.1l.6-5.5l.4-.3l.6-.5l.4 .4l.6-.5l.4 5.5l.6 3.3l.4-2.9l.6-5.9l.4 2.4l.6-.1l.4 3.8l.6 4.5l.4 0l.6 4.3l.4 5.2l.6 14l.4 .4l7.6 0l.4-8.4l.6-16.9l.4-6.3l.6-3.2l.4 .8l.6-.7l.4-.1l.6 2.5l.4-2.5l.6 0l.4 .3l.6 .2l.4-.2l.6 .2l.4-.2l.6 2l.4 6.9l.6 5.1l.4-3.1l.6-2.3l.4-3.8l.6-3l.4 3.2l.6 .2l.4-.7l.6-.8l.4-3.2l.6-.5l.4-.3l.6 1l.4 .2l.6 .4l.4-.7l.6 .3l.4-1l.6-.2l.4 3l.6 3.3l.4 1l.6 3.1l.4 1.3l.6 1.7l.4-1.6l.6-4.3l.4-2.1l.6-1.5l.4-1.4l.6 1.3l.4 2.7l.6 1.9l.4 2.3l.6 1.9l1-6.2l.4-3.7l.6 1l.4-2.4l.6 .9l.4 3.7l.6-.4l.4 1.2l.6 1.6l.4 .1l.6-1.7l.4-1l.6-3.1l.4 3.5l.6 2.3l.4-3.2l.6-3.7l.4 17.8l.6 21.5l4 0l.4 3.2l.6 3.4l.4 2.9l.6 3.6l.4 2.6l.6 2.9l.4-4.4l.6-3.9l.4-3.6l.6-2.2l.4 .6l.6 4.6l.4 3l.6-.8l.4-.3l.6 .4l.4 3.2l.6 4.5l.4 3.2l.6 1l.4 2l.6 0l.4 1.6l.6-.7l.4-1.9l.6 1.5l.4 .2l1-4.5l.6-1.7l.4-3.5l.6-3.8l.4-5.6l.6-3.8l.4-1.7l.6 6.6l.4 7.3l.6 1.9l.4-5.1l.6 8.6l.4 7.1l.6-5.6l.4-9.7l.6-3.4l.4 2.8l.6 3.6l.4 4.5l.6 2.6l.4-.8l1-3.7l.6-2.2l.4-3.5l.6-3.3l.4-.6l.6-.4l.4 4.9l.6 3.5l.4 4.8l.6 4.6l.4 0l7.6 0l.4-6.8l.6-11.4l.4 4l.6 3.2l.4-1.5l.6 .9l.4-3.9l.6-7.7l.4-7.6l.6-5.2l.4-4.7l.6-1.1l.4-.7l.6-2.4l.4-3.3l.6 2.1l.4 8l.6 2.4l.4 4.6l.6 2.4l.4 2.2l6 0l.6-4.2l.4-5.7l.6-7.4l.4 1.8l.6 4.1l.4 5.6l.6 4.6l.4-3.3l.6-2.6l.4-1.1l.6-4l.4-2.2l.6-.3l.4 2.9l.6-.9l.4 2.2l.6 3l.4 2.3l.6 1.1l.4 .2l.6 1.4l.4 2l.6 1.2l.4-3.6l.6-2.6l.4 3.1l.6 3.1l.4-1.6l.6-2l.4 2.9l.6 1.1l.4 .7l.6-.5l.4-.3l.6 .7l.4-.5l.6-.6l.4-.1l.6 1.8l.4 .6l.6-2.1l.4-3.5l.6 .8l.4 4.7l.6 2.5l.4 1.4l.6 .8l.4 .6l.6 1.7l.4 .9l.6-1.1l.4-4l.6-3.9l.4 4.2l.6 4.5l.4-.6l.6 0l.4 1l.6 .1l.4 .1l.6-.3l.4-2.7l.6-1.3l.4 1.9l.6 2.6l.4 .4l.6 3.2l.4-.9l.6-1.3l.4-1.2l.6 2.8l.4-1.4l.6 2.8l.4 1.6l.6-.5l.4-.5l.6 2.2l.4 .8l.6 3.3l3.4 0l.6-1.2l.4-1.7l.6 .8l.4 2.7l.6-3.6l.4-2l.6-3.3l.4-5.2l.6-3.8l.4-1.8l.6-1.9l.4-1.4l.6-2.4l.4-.7l.6-.7l.4-2.4l.6-3l.4 .9l.6 .9l.4-.9l.6-3.2l.4-3.7l.6-2.1l.4-1.5l.6-5.9l.4 2.3l.6 13.3l.4 1.5l.6-2.1l.4 1.8l.6 3.3l.4 1.3l.6 2.2l.4 .2l.6-1.7l.4-2.5l.6 1.1l.4 1.6l.6 2.8l.4 1.6l1-9.4l.6-3.2l.4-2.2l.6-3.8l.4-.5l.6-2.5l.4-2.1l.6 3.2l.4-.5l.6 0l.4 1.7l.6 1.2l.4 9l.6 10.7l4.4 0l.6 .3l.4 1.1l.6 0l.4-6.9l.6-7.5l.4-6.2l.6-5.1l.4-1.9l.6-1.5l.4 1.2l.6 1.9l.4 1.4l.6 4l.4-.5l.6-1.9l.4-3.6l.6-.7l.4-1.3l.6-1.3l.4 .3l.6 1.6l.4 1.5l.6 3.5l.4 1.8l13 0l.6-5.1l.4-7.3l.6-4.9l.4-4.5l.6 .5l.4 1.3l.6-.3l.4-2.4l.6 .1l.4 1.2l.6 0l.4-3.3l.6 1l.4 3.3l.6 4.1l.4 2.2l.6 2.4l.4 .5l29 0l.6-2.8l.4-5.9l.6-2.6l.4-2.2l1 .3l.6 .1l.4-.1l.6 11.9l.4 7.5l.6 7.2l.4 7.3l.6 1.6l.4 1.2l.6 2.8l.4 1.4l.6 3l.4-1.8l.6-.7l.4 0l.6-1.6l.4 1.7l.6-.2l.4 .8l.6 .2l.4-.5l.6 .6l.4-.5l.6-.2l.4 .7l.6 1l.4-1l.6 1.8l.4 1.3l.6 1.7l.4 3.1l.6-.1l.4-1.6l.6-.1l.4-2.9l.6-2.8l.4 4.6l.6 .9l.4-1.3l.6-.7l.4 1.1l.6 3.3l.4 4l7.6 0l.4 3.7l.6 5.1l.4 .2l6 0l1 5.6l.6-1.1l.4-3.8l.6-3.9l.4-4.7l.6-5.4l.4 5.2l.6 3.6l.4 1.3l.6 1.7l.4-4.7l.6-3.8l.4-1.6l.6-.2l.4-2.4l.6-2.6l.4-2.9l.6-3.9l.4-2.9l.6-3.4l.4 .5l.6 2.3l.4 1.1l.6 0l1-2.2l.4 4.7l.6 2.1l.4-2.6l.6 .7l.4 .3l.6 2.2l.4 4.8l.6 1.3l.4 1.3l.6 1l.4 .3l.6-5.4l.4 1.3l.6 5.4l.4 6.9l.6 .9l.4-3.8l.6-1.7l.4 7.2l.6 2.5l8 0l.4-2.5l1-9.2l.6-.8l.4 .1l.6 4.5l.4 4.4l.6 3.7l.4 1.2l.6 .6l.4 2.6l.6 1.8l.4 5.1l.6 6.2l.4 1.3l.6 .4l3.4 0l.6 3.7l.4 6.1l.6-.1l.4 2.4l.6 .1l.4 .1l.6-1.1l.4 .7l.6-.4l.4 .3l.6 .9l.4 4.3l.6 2.9l.4 .8l.6-.5l.4 .1l.6 .3l.4 .1l.6 .6l.4 3.2l.6 2.8l.4 .1l.6 .4l.4 .8l.6-.1l.4-.4l.6 .4l.4-.7l.6 .5l.4-.1l5 0l.6-2.2l.4 1.9l.6 3.8l.4 1.4l.6 2.7l.4 .9l8 0l.6-1.3l.4-1.7l.6 3.1l.4-.3l.6-2.2l.4-2.1l.6 .4l.4 1.5l.6-2.3l.4-2.8l.6-.6l.4-.4l.6-.3l.4 0l.6 1.8l.4-.2l.6-.2l.4 3.2l.6-6.1l.4-4.1l.6-1.5l.4-1.3l.6 2.3l.4 2.7l.6-.8l.4-3.5l.6-.6l.4 0l.6 2.5l.4 4.1l.6 0l.4 1.2l.6 .2l9 0l.4 .8l.6 .5l.4 1.8l.6-1l.4-.2l.6 2.4l.4 .9l.6-.8l.4 .1l.6 1.4l.4 .9l.6 1.2l.4 1.1l.6 0l.4 .3l.6 .5l.4 .8l.6-2.1l.4 1.6l.6 2.7l.4 2.1l.6 1.4l.4-1.1l.6-1.4l.4 1l.6-2.4l.4-1.8l.6-3l.4-2.3l.6-.9l.4 .5l.6 .2l.4 4.8l.6 4.1l.4 .4l.6-.3l.4 .6l.6 .8l.4-1.2l.6 .5l.4-.3l.6 1.6l.4 .8l.6 .6l12.4 0l.6 .3l.4 .5l.6 2.6l.4 4.7l.6-1.8l.4-5.1l.6 3.9l.4 .8l.6-4.4l.4-3.4l.6-3.3l.4-3.6l.6-2.1l.4 1.2l.6 2.1l.4-1.5l.6-1.2l.4-1l.6 5l.4 3l.6 4.9l.4 1.6l11 0l.6-1.3l.4-3.8l.6-3.2l.4-2.3l.6-3.4l.4-1.9l.6-.9l.4 4.4l.6 4.3l.4 3l.6 4l.4 .8l.6 .3l.4 .7l.6 0l.4-.8l.6-.1l.4-.9l.6-1.4l.4-1.2l.6 2.5l.4 2.2l.6 3.2l.4 .8l.6 .9l.4 .5l.6 .3l.4 .6l.6-1.4l.4-1.1l.6-1.4l.4-3.7l.6-.5l.4-.9l.6-.5l.4-.6l.6 1.1l.4-1.9l.6-2.2l.4 .9l.6 .1l.4 1l.6-1.6l.4-1.5l.6 2.4l.4 2.9l.6 1.2l.4 1.9l.6-.3l.4 0l.6-.5l.4 .2l.6-1.5l.4 1.7l.6 1.1l.4 .3l8.6 0l.4 .3l18.6 0l.4-3.8l.6-5.7l.4-1.4l.6-2.1l.4-6.9l.6-6.6l.4 7.1l.6 7.4l.4 5.2l.6 7.7l.4 3.2l.6-4.7l.4-7.1l.6-10.4l.4-16.6l.6 13l.4 8.3l.6-.1l.4-.2l.6-2.1l.4-.4l.6-2.1l.4-4.5l.6 4.5l.4 9l.6 3.4l.4-.6l.6-4.7l.4-8l.6-4.2l.4-1.3l.6-5.2l.4-4.6l.6-5.5l.4-2.2l.6-2.7l.4-1.8l.6-1.5l.4-5.4l.6-3.2l.4 6.5l.6 1.3l.4-3l.6-.2l.4 .6l.6-3.2l.4-1.5l.6 0l.4-2.5l.6-3.5l.4-3.3l.6-6.2l.4 5.5l.6 6.5l.4 2.9l.6 3.1l.4 .2l.6 1.5l.4 1.8l.6 .8l.4 1.6l.6-4.8l.4-10.5l.6-9l.4 3.4l.6 4.6l.4 2.1l.6 .7l.4 2l.6 1.6l.4-1.4l.6-1.5l.4 1.5l.6 3.5l.4 3.4l.6 2.9l.4-.4l.6 .7l.4 .8l.6 .2l.4-1.4l.6-.9l.4 .5l.6 .3l.4 .2l.6-3l.4-6.1l.6-5.8l.4-4.6l.6-4l.4-2.3l.6-4l.4 4.8l.6 3l.4-1.2l.6 .3l.4 3.2l.6 7l.4 1.1l.6 1.5l.4 1.7l.6 4l.4 .2l9 0l.6 .8l.4 1.6l.6 4.3l.4 1.7l.6 .3l.4 .4l.6-.4l.4 0l.6-6.9l.4-4.6l.6-2.1l.4 .7l.6-2.3l.4 8.4l.6 7.2l.4 .4l.6-.7l.4-1.2l.6 2.2l1-.1l.4 2.5l.6-3.1l.4-8l.6-11l.4-5.3l.6-7.2l.4-3.7l.6-6.2l.4-3.8l.6-2.6l.4-1.9l.6 2.8l.4 .1l.6-2.6l.4-6.7l.6-4.6l.4-3.5l.6-3.4l.4-.7l.6-3.1l.4 .5l.6-10l.4-9.1l.6 6.2l.4 4.9l.6-4.1l.4-3.4l.6-2l.4-1.4l.6 .2l.4 3l.6 15.7l.4 5.6l4 0l.6 3.1l.4 1l.6-3.9l.4-5.7l.6-12l.4 1.1l.6 4.3l.4 2.2l.6-.9l.4 14.1l.6 8.6l.4 0l.6 1.7l.4 1.2l.6 .3l.4 .6l.6 1.4l.4-1.4l.6-1.7l.4 .5l.6 .9l.4-3.1l.6-3.2l.4-5.7l.6-7.4l.4-6.3l.6-7.5l.4-5.5l.6 1.3l.4-3.6l.6 .1l.4 .8l.6 .3l.4-1.4l2.6 0l.4 .1l.6 1.1l.4 3.8l.6 6.1l.4 3.3l.6 1.5l.4 4.6l.6-1.3l.4-.1l.6 2.1l.4 2.7l.6 1.7l.4 1.5l.6 1.7l.4 0l.6 4.2l.4 .4l.6-.5l.4 1.3l.6 2.5l.4 .3l2 0l.6-2.7l.4-4.4l.6-4l.4 17.5l.6 3.1l.4 1.8l.6-7.7l.4-8l.6 4.1l.4 4.4l.6 2.1l.4 3.9l.6-1.8l.4-6.5l1-4.2l.6-5.1l.4 2.3l.6 1.9l.4-3.9l.6-9l.4-8.3l.6-9l.4-1.3l.6 1.9l.4 5.8l.6 16.3l.4 3.2l.6-3l.4-7l.6 6.2l.4 3.8l.6-1.6l.4-2.9l.6 2.2l.4 3.5l.6 1.6l.4-2.9l.6 1.7l.4 1.9l.6 1.1l.4 .7l.6 2.2l.4-.2l.6 1.5l.4 1.1l.6 1.3l.4 2l.6-1.1l2 0l.4-.1l.6 .1l.4 .7l.6 2.1l.4 3.1l.6-1.4l.4-1.2l.6-3l.4-1.1l.6-3.5l.4 3.6l.6-.8l.4-1.7l.6-2.2l.4 .8l.6-.9l.4 1.5l.6-5.3l.4-3.8l.6 3.8l.4 4.6l.6-6.9l.4-8.5l.6-5.1l.4-9.3l.6-4.8l.4-1.1l.6 1.3l.4 4.7l.6 2.3l.4 .9l.6 3.1l.4 3.9l.6 3l.4 4.3l.6-3.4l.4-7.2l.6 0l.4 1l.6 4l.4 2.7l.6 1.7l.4 .1l1.6 0l.4-3.5l.6-9.5l.4-3.7l.6-4l.4-.1l.6 4.1l.4 1.3l.6-2.8l.4-5.1l.6-.2l.4 0l.6 1.3l.4 4.6l.6 11.2l.4 6l.6 5.3l.4-5.8l.6-7.1l.4-4.1l.6-5.4l.4-.1l.6 6.4l.4 7.9l.6-8.6l.4-9.3l.6 4.2l.4 9.5l.6 1.8l.4 1.1l.6 1.4l.4 .3l.6-7l.4-12.5l.6 1.9l.4 2.3l.6 10.6l.4 14.5l.6 13.5l.4 .6l15 0l.6-2.3l.4-4.8l.6-3.4l.4-.6l.6-.6l.4-.9l.6 3.9l.4 4.2l.6 7.8l.4-.3l.6-4l.4-3.5l.6 2.5l.4 4.8l.6-.4l.4-2.1l1 1l.6 1l.4-2.4l.6-1.5l.4-2.9l.6-3.5l.4 2.7l.6-1.1l.4-3.6l.6-6.5l.4 .9l.6 3.6l.4-.9l.6 5.1l.4 9.1l.6 1l3 0l.4-2.9l.6-5l.4-3.4l.6-2.4l.4-4.5l.6 .3l.4-.2l.6 3.9l.4 2.9l.6 2.2l.4-.5l.6 4.8l.4 2.8l.6 1.2l1.4 0l.6-13.6l.4-14.4l.6-13.2l.4-2.1l.6-.2l.4 4.9l.6 8.6l.4 3.1l.6-.3l.4-2.5l.6-1.9l.4 8l.6 11.6l.4-7.3l.6-2.9l.4-3.2l.6-1.9l.4-5.4l.6-4.8l.4 .1l.6-1.2l.4 9.7l.6 5.7l9 0l.4 .3l10.6 0l.4 .3l.6 4.4l.4 3.9l12 .1l.6 5.2l.4 1.8l.6 3.6l.4-1.4l.6-6.5l.4-6.4l.6 1.5l.4-.2l.6-5.3l.4-8l.6-2.1l.4 2.9l.6-.1l.4-9l.6-7.4l.4 4.1l.6 3.5l.4-4.8l.6-2.2l.4 2.3l.6 2.2l.4-1.5l.6-3.8l.4-.2l.6 2.2l.4-1.3l.6 .2l.4-.3l.6 6.9l.4 6.7l.6-4.7l.4-5.2l.6-1.3l.4-1.7l.6 1.4l.4 5.1l.6 4.7l.4-5.2l.6-6.3l1 6.6l.4 6.5l.6 4.6l.4-3.3l.6-4l.4 5.8l.6 5.3l.4 .8l7.6 0l.4 5.4l.6 3.2l.4 2.6l.6 1l.4 1.5l1 2.7l.6-.6l.4 1.8l.6-1l.4-1.1l.6-3.4l.4-2.9l.6-4l.4-1.3l.6 2l.4-3.4l.6-7.9l.4-7.6l.6 6.6l.4 7.7l.6-5.3l.4-9.9l.6-3.2l.4-4.7l.6 .4l.4 6.3l.6 5l.4 3.6l.6 .4l.4 1.6l.6-.6l.4-.2l.6-4.1l.4 .3l.6-4l.4-5.7l.6-3l.4 1.7l.6 3.5l.4 0l.6 3.1l.4 2.4l.6 .3l.4-.2l.6 1.3l.4 2.6l.6 .4l.4 .4l.6-1.1l.4 0l.6 .7l.4-.5l.6 1.7l.4-1.6l.6-3.5l.4-6.5l.6 .1l.4 7.5l.6 7.7l.4-1.7l.6-.7l.4-3.3l.6-2.2l.4-6l.6-1.7l.4-1.9l.6 .1l.4 2.6l.6-3l.4-2l.6 2.3l.4 2.8l.6 .1l.4 1.7l.6 6.5l.4-.5l20.6 0l.4-.4l.6 .3l.4 .8l.6 .1l.4-2.2l.6-1.9l.4-1.6l.6-3.1l.4-2.8l.6-2.4l.4-1l.6-.6l.4 1.3l.6 3.6l.4 2.1l.6-.3l.4-5.2l.6 .4l.4 2.3l.6-2.3l.4-.9l.6-.6l.4 .9l.6-.3l.4 1.4l.6 .2l.4 3.4l.6 3.4l.4 3.9l.6 3.5l5.4 0l.6 1.5l.4 2.3l.6 2.7l1 .1l.4 .5l.6 1.5l.4-1.7l.6-2.5l.4-.6l.6-2.9l.4 .6l.6-.4l.4-1.5l.6-.4l.4 8.3l.6 4.7l.4 .5l.6 .3l.4 .2l.6 .4l.4-1l.6 1.3l.4 1.5l.6 .1l.4-.8l.6-.7l.4 1.5l.6-.6l.4-1.7l.6-2.6l.4-4l.6-8.8l.4-.5l.6-1.1l.4 2.7l.6 4.7l.4 0l.6-2l.4-4l.6-1.9l.4-4l.6-4.2l.4-1.4l.6-.2l.4 1.4l.6 1.5l.4 1.3l.6-1.9l.4-3.5l.6 4.6l.4 3.5l.6 2.7l3.4 0l.6 3.4l.4 4.1l.6 1.4l.4-1.9l.6-5.6l.4-7.3l.6-5.5l.4-.3l.6-.4l.4 .2l.6 4.7l.4-1.3l.6-2.9l.4 0l.6-.9l.4 .4l.6 6.4l.4 1.6l.6 2.2l.4 2.3l.6 .3l.4 1.6l.6 1.3l.4 2.2l.6 2.4l.4 .1l.6 4.1l.4-1.3l.6-.1l.4 .3l.6 .7l.4 2l.6-1.2l.4-1.8l.6-1.5l.4 2.6l.6 .3l.4-1.5l.6 2.3l.4 3.9l.6 .7l4 0l.4-.7l.6-1.1l.4-2.2l.6-1.8l.4-3.8l.6-.8l.4-.3l.6-.9l.4-3.8l.6-2.1l.4 1.9l.6 2.4l.4-3.9l.6-1.6l.4-1l.6-.3l.4-3.4l.6 .7l.4-1.1l.6-.3l.4-.7l.6-1.3l.4 0l.6-1.8l.4-1.7l.6-.1l.4-.6l.6 .6l.4-.6l.6 0l.4 .2l.6 .1l.4 4.9l.6 5.1l.4-4.3l.6-4.9l.4-.6l.6-.3l.4 2.1l.6-2.3l.4 .3l.6 6l.4 6.7l.6 3.4l.4 2.7l.6 1.7l.4 1.2l.6-1.2l.4-1.5l.6-1l.4 1.6l.6 2l.4 4.8l.6 3.6l4 0l.4-2l.6-7l.4-5l.6-4.6l.4 2l.6 5l.4 17.7l.6 18.6l.4 2.3l5 0l.6 .7l.4-2.8l.6-1.5l.4 3.9l.6 .3l.4 .3l.6 2.6l.4 7.2l.6 6.5l.4-.6l.6 .6l.4 .6l.6 .4l.4-4.9l.6-3.6l.4 .6l.6-1.2l.4-1l.6-3.1l.4-1.1l.6-3.3l.4-.3l.6-4.2l.4 .1l.6-.4l.4-3.8l.6-1.8l.4-5.5l.6-.9l.4-4.9l.6 1l.4 1.3l.6-.7l.4-3.9l.6 .2l.4-4.4l.6-5.6l.4-1.7l.6 .3l.4-1.2l.6-.1l.4 .7l.6 3.2l.4 3.2l.6 3.9l.4 2.6l.6 2.4l.4 5.6l.6-1.6l.4-4.5l.6-3.1l.4-3.6l.6-6l.4-3.3l.6-3l.4 1.4l.6 2.7l.4-.8l.6-.6l.4-2.7l.6-5.1l.4 1.5l.6 1.7l.4 3.1l.6 7.8l.4 5.6l.6 7.1l.4 4l.6 1.7l.4-.7l.6 .7l.4 1.7l.6-.6l.4-.3l.6 .6l.4 .3l.6 1.2l.4-2.9l.6 2.6l.4-.8l.6 .8l.4-3.7l.6-1.2l.4-.1l.6 .6l.4-2l.6 1.7l.4-2.6l.6-.2l.4-2.5l.6 3.2l.4 1.9l.6 1.8l.4-.5l.6 1l.4 1l.6 .5l.4-1.1l9 0l.6-5l.4-3.4l.6-4.6l.4-2.4l.6-3.6l.4-3.1l.6-1l.4 4.1l.6 3.4l.4 2.6l.6 5.1l.4 .7l.6 1l.4 2.1l.6 1.2l.4-1.5l.6-.2l.4 1.2l.6 1.8l.4 .2l.6 1.3l.4-1.8l.6-1l.4-2.7l.6-6.8l.4-4.6l.6-5.5l.4-7.4l.6-2.6l.4-6.1l.6-.1l.4 3.2l.6 2.4l.4 3.4l.6 4.5l.4 .7l.6-5l.4-4.2l.6 3.8l.4 1.5l.6-3.7l.4-6.5l.6 3.9l.4 5.6l.6 4.4l.4 .3l4.6 0l.4 9.1l.6 13.6l.4 .5l5.6 0l.4 1.3l.6 .2l.4-3.6l.6-.8l.4 1.1l.6 .4l.4-1.6l.6-1.2l.4 .4l.6 1.1l.4 1.8l.6 3.2l.4 0l11.6 0l.4-.2l.6 1.1l.4 1.8l.6 1.9l.4 3.5l.6 4.5l.4 1.6l.6 .6l.4 1.4l.6 .5l.4 .2l.6 .1l.4 3.4l.6 2.6l.4 3.1l.6-1.3l.4 .5l.6 1.8l.4-1.4l.6 0l.4-1.1l.6-1.8l.4-10.1l.6 .3l.4 7.8l.6-1.1l.4-2.4l.6-3l.4 .7l.6-3l1.4-14.2l.6-3.9l.4-2l.6 2.6l.4-1.6l.6 .1l.4-.4l.6-2.2l.4-2.1l.6 .2l.4 1.7l.6 2.5l.4 1.9l.6 1.5l.4 1.2l.6 2.7l.4 .6l.6-.2l9.4 0l.6-.1l.4 2l.6-1.4l.4-1.6l.6 4.3l.4 1.4l.6-4.9l.4-6.9l.6-3.4l.4-3.5l.6-1.8l.4-2.4l.6 1.3l.4-.6l.6-.2l.4 1.1l.6-.7l.4 .1l.6 1l.4 3.2l.6 1.5l.4 2.9l.6-.5l.4 2.7l.6-.8l.4 .9l.6-.6l.4-2.2l.6 .7l.4 2l.6 2.4l.4 2.4l.6 1.1l.4 2.9l.6-.9l.4-3.7l.6-3.3l.4-3.5l.6-2.5l.4-3.1l.6-1.5l.4-2l.6 .3l.4-2l.6 .9l.4 0l.6 .8l.4 2.3l.6 2.7l.4 1.2l.6 2l.4 .6l.6 .8l.4-.1l.6-1.1l.4-2.2l.6 1.8l.4 0l.6-3l.4 .5l.6 1.5l.4-.6l.6 3.2l.4 .7l.6 .8l.4 .4l.6 1.1l.4 1.8l.6 .1l.4 1.4l.6-.6l.4 1.4l.6-1.1l.4-2.1l.6-1.3l.4-1.5l.6 2.8l.4-1.3l.6-.8l.4 1.7l.6 .7l.4 .7l.6-.5l.4-2.4l.6-4.8l.4-5.2l.6-2.1l.4-3l.6-.8l.4-.2l.6-2.9l.4-1.8l.6-1.4l.4-.5l.6 1.3l.4 .5l.6 3.4l.4 .8l.6 1.1l.4-.6l.6-.5l.4 1.1l.6-.5l.4-1.9l.6-1.3l.4-3.6l.6-2.7l.4-.5l.6-.7l.4 1.3l.6 .1l.4-.7l.6 .7l.4-.4l.6 .1l.4 2.8l.6-2.1l.4-2.8" stroke="#000000"/>
</g>
<line x1="75.75" x2="1324.25" y1="419.5" y2="419.5" stroke="#BDBDBD" stroke-width="1.1"/>
<line x1="75.75" x2="1324.25" y1="531.3" y2="531.3" stroke="#BDBDBD" stroke-width="1.1"/>
<line x1="75.25" x2="1324.75" y1="446.1" y2="446.1" stroke="#757575" stroke-width="1.4"/>
<line x1="75.75" x2="75.75" y1="446.1" y2="451.8" stroke="#4D4D4D" stroke-width="1.15"/>
<line x1="132" x2="132" y1="446.1" y2="451.8" stroke="#4D4D4D" stroke-width="1.15"/>
<line x1="195.25" x2="195.25" y1="446.1" y2="451.8" stroke="#4D4D4D" stroke-width="1.15"/>
<line x1="257.5" x2="257.5" y1="446.1" y2="451.8" stroke="#4D4D4D" stroke-width="1.15"/>
<line x1="320" x2="320" y1="446.1" y2="451.8" stroke="#4D4D4D" stroke-width="1.15"/>
<line x1="381.75" x2="381.75" y1="446.1" y2="451.8" stroke="#4D4D4D" stroke-width="1.15"/>
<line x1="444.5" x2="444.5" y1="446.1" y2="451.8" stroke="#4D4D4D" stroke-width="1.15"/>
<line x1="506.5" x2="506.5" y1="446.1" y2="451.8" stroke="#4D4D4D" stroke-width="1.15"/>
<line x1="569" x2="569" y1="446.1" y2="451.8" stroke="#4D4D4D" stroke-width="1.15"/>
<line x1="631.5" x2="631.5" y1="446.1" y2="451.8" stroke="#4D4D4D" stroke-width="1.15"/>
<line x1="694.25" x2="694.25" y1="446.1" y2="451.8" stroke="#4D4D4D" stroke-width="1.15"/>
<line x1="756.5" x2="756.5" y1="446.1" y2="451.8" stroke="#4D4D4D" stroke-width="1.15"/>
<line x1="819.25" x2="819.25" y1="446.1" y2="451.8" stroke="#4D4D4D" stroke-width="1.15"/>
<line x1="881.5" x2="881.5" y1="446.1" y2="451.8" stroke="#4D4D4D" stroke-width="1.15"/>
<line x1="944.5" x2="944.5" y1="446.1" y2="451.8" stroke="#4D4D4D" stroke-width="1.15"/>
<line x1="1007" x2="1007" y1="446.1" y2="451.8" stroke="#4D4D4D" stroke-width="1.15"/>
<line x1="1069.5" x2="1069.5" y1="446.1" y2="451.8" stroke="#4D4D4D" stroke-width="1.15"/>
<line x1="1131.5" x2="1131.5" y1="446.1" y2="451.8" stroke="#4D4D4D" stroke-width="1.15"/>
<line x1="1194" x2="1194" y1="446.1" y2="451.8" stroke="#4D4D4D" stroke-width="1.15"/>
<line x1="1256.5" x2="1256.5" y1="446.1" y2="451.8" stroke="#4D4D4D" stroke-width="1.15"/>
<line x1="1318.75" x2="1318.75" y1="446.1" y2="451.8" stroke="#4D4D4D" stroke-width="1.15"/>
<line x1="1324.25" x2="1324.25" y1="446.1" y2="451.8" stroke="#4D4D4D" stroke-width="1.15"/>
<text x="59.82" y="463.50" font-size="10.03" fill="#262626" textLength="31.87" lengthAdjust="spacingAndGlyphs">Oct 20</text>
<text x="63.53" y="475.50" font-size="10.03" fill="#262626" textLength="24.43" lengthAdjust="spacingAndGlyphs">2015</text>
<text x="116.06" y="463.50" font-size="10.03" fill="#262626" textLength="31.88" lengthAdjust="spacingAndGlyphs">Apr 01</text>
<text x="119.78" y="475.50" font-size="10.03" fill="#262626" textLength="24.43" lengthAdjust="spacingAndGlyphs">2016</text>
<text x="179.32" y="463.50" font-size="10.03" fill="#262626" textLength="31.87" lengthAdjust="spacingAndGlyphs">Oct 03</text>
<text x="183.03" y="475.50" font-size="10.03" fill="#262626" textLength="24.43" lengthAdjust="spacingAndGlyphs">2016</text>
<text x="241.56" y="463.50" font-size="10.03" fill="#262626" textLength="31.88" lengthAdjust="spacingAndGlyphs">Apr 03</text>
<text x="245.28" y="475.50" font-size="10.03" fill="#262626" textLength="24.43" lengthAdjust="spacingAndGlyphs">2017</text>
<text x="304.07" y="463.50" font-size="10.03" fill="#262626" textLength="31.87" lengthAdjust="spacingAndGlyphs">Oct 03</text>
<text x="307.78" y="475.50" font-size="10.03" fill="#262626" textLength="24.43" lengthAdjust="spacingAndGlyphs">2017</text>
<text x="365.81" y="463.50" font-size="10.03" fill="#262626" textLength="31.88" lengthAdjust="spacingAndGlyphs">Apr 02</text>
<text x="369.53" y="475.50" font-size="10.03" fill="#262626" textLength="24.43" lengthAdjust="spacingAndGlyphs">2018</text>
<text x="428.57" y="463.50" font-size="10.03" fill="#262626" textLength="31.87" lengthAdjust="spacingAndGlyphs">Oct 01</text>
<text x="432.28" y="475.50" font-size="10.03" fill="#262626" textLength="24.43" lengthAdjust="spacingAndGlyphs">2018</text>
<text x="490.56" y="463.50" font-size="10.03" fill="#262626" textLength="31.88" lengthAdjust="spacingAndGlyphs">Apr 01</text>
<text x="494.28" y="475.50" font-size="10.03" fill="#262626" textLength="24.43" lengthAdjust="spacingAndGlyphs">2019</text>
<text x="553.07" y="463.50" font-size="10.03" fill="#262626" textLength="31.87" lengthAdjust="spacingAndGlyphs">Oct 01</text>
<text x="556.78" y="475.50" font-size="10.03" fill="#262626" textLength="24.43" lengthAdjust="spacingAndGlyphs">2019</text>
<text x="615.56" y="463.50" font-size="10.03" fill="#262626" textLength="31.88" lengthAdjust="spacingAndGlyphs">Apr 01</text>
<text x="619.28" y="475.50" font-size="10.03" fill="#262626" textLength="24.43" lengthAdjust="spacingAndGlyphs">2020</text>
<text x="678.32" y="463.50" font-size="10.03" fill="#262626" textLength="31.87" lengthAdjust="spacingAndGlyphs">Oct 01</text>
<text x="682.03" y="475.50" font-size="10.03" fill="#262626" textLength="24.43" lengthAdjust="spacingAndGlyphs">2020</text>
<text x="740.56" y="463.50" font-size="10.03" fill="#262626" textLength="31.88" lengthAdjust="spacingAndGlyphs">Apr 01</text>
<text x="744.28" y="475.50" font-size="10.03" fill="#262626" textLength="24.43" lengthAdjust="spacingAndGlyphs">2021</text>
<text x="803.32" y="463.50" font-size="10.03" fill="#262626" textLength="31.87" lengthAdjust="spacingAndGlyphs">Oct 01</text>
<text x="807.03" y="475.50" font-size="10.03" fill="#262626" textLength="24.43" lengthAdjust="spacingAndGlyphs">2021</text>
<text x="865.56" y="463.50" font-size="10.03" fill="#262626" textLength="31.88" lengthAdjust="spacingAndGlyphs">Apr 01</text>
<text x="869.28" y="475.50" font-size="10.03" fill="#262626" textLength="24.43" lengthAdjust="spacingAndGlyphs">2022</text>
<text x="928.57" y="463.50" font-size="10.03" fill="#262626" textLength="31.87" lengthAdjust="spacingAndGlyphs">Oct 03</text>
<text x="932.28" y="475.50" font-size="10.03" fill="#262626" textLength="24.43" lengthAdjust="spacingAndGlyphs">2022</text>
<text x="991.06" y="463.50" font-size="10.03" fill="#262626" textLength="31.88" lengthAdjust="spacingAndGlyphs">Apr 03</text>
<text x="994.78" y="475.50" font-size="10.03" fill="#262626" textLength="24.43" lengthAdjust="spacingAndGlyphs">2023</text>
<text x="1053.57" y="463.50" font-size="10.03" fill="#262626" textLength="31.87" lengthAdjust="spacingAndGlyphs">Oct 03</text>
<text x="1057.28" y="475.50" font-size="10.03" fill="#262626" textLength="24.43" lengthAdjust="spacingAndGlyphs">2023</text>
<text x="1115.56" y="463.50" font-size="10.03" fill="#262626" textLength="31.88" lengthAdjust="spacingAndGlyphs">Apr 01</text>
<text x="1119.28" y="475.50" font-size="10.03" fill="#262626" textLength="24.43" lengthAdjust="spacingAndGlyphs">2024</text>
<text x="1178.07" y="463.50" font-size="10.03" fill="#262626" textLength="31.87" lengthAdjust="spacingAndGlyphs">Oct 01</text>
<text x="1181.78" y="475.50" font-size="10.03" fill="#262626" textLength="24.43" lengthAdjust="spacingAndGlyphs">2024</text>
<text x="1240.56" y="463.50" font-size="10.03" fill="#262626" textLength="31.88" lengthAdjust="spacingAndGlyphs">Apr 01</text>
<text x="1244.28" y="475.50" font-size="10.03" fill="#262626" textLength="24.43" lengthAdjust="spacingAndGlyphs">2025</text>
<text x="1302.82" y="463.50" font-size="10.03" fill="#262626" textLength="31.87" lengthAdjust="spacingAndGlyphs">Oct 01</text>
<text x="1306.53" y="475.50" font-size="10.03" fill="#262626" textLength="24.43" lengthAdjust="spacingAndGlyphs">2025</text>
<line x1="75.25" x2="1324.75" y1="761.1" y2="761.1" stroke="#757575" stroke-width="1.4"/>
<line x1="75.75" x2="75.75" y1="761.1" y2="766.8000000000001" stroke="#4D4D4D" stroke-width="1.15"/>
<line x1="132" x2="132" y1="761.1" y2="766.8000000000001" stroke="#4D4D4D" stroke-width="1.15"/>
<line x1="195.25" x2="195.25" y1="761.1" y2="766.8000000000001" stroke="#4D4D4D" stroke-width="1.15"/>
<line x1="257.5" x2="257.5" y1="761.1" y2="766.8000000000001" stroke="#4D4D4D" stroke-width="1.15"/>
<line x1="320" x2="320" y1="761.1" y2="766.8000000000001" stroke="#4D4D4D" stroke-width="1.15"/>
<line x1="381.75" x2="381.75" y1="761.1" y2="766.8000000000001" stroke="#4D4D4D" stroke-width="1.15"/>
<line x1="444.5" x2="444.5" y1="761.1" y2="766.8000000000001" stroke="#4D4D4D" stroke-width="1.15"/>
<line x1="506.5" x2="506.5" y1="761.1" y2="766.8000000000001" stroke="#4D4D4D" stroke-width="1.15"/>
<line x1="569" x2="569" y1="761.1" y2="766.8000000000001" stroke="#4D4D4D" stroke-width="1.15"/>
<line x1="631.5" x2="631.5" y1="761.1" y2="766.8000000000001" stroke="#4D4D4D" stroke-width="1.15"/>
<line x1="694.25" x2="694.25" y1="761.1" y2="766.8000000000001" stroke="#4D4D4D" stroke-width="1.15"/>
<line x1="756.5" x2="756.5" y1="761.1" y2="766.8000000000001" stroke="#4D4D4D" stroke-width="1.15"/>
<line x1="819.25" x2="819.25" y1="761.1" y2="766.8000000000001" stroke="#4D4D4D" stroke-width="1.15"/>
<line x1="881.5" x2="881.5" y1="761.1" y2="766.8000000000001" stroke="#4D4D4D" stroke-width="1.15"/>
<line x1="944.5" x2="944.5" y1="761.1" y2="766.8000000000001" stroke="#4D4D4D" stroke-width="1.15"/>
<line x1="1007" x2="1007" y1="761.1" y2="766.8000000000001" stroke="#4D4D4D" stroke-width="1.15"/>
<line x1="1069.5" x2="1069.5" y1="761.1" y2="766.8000000000001" stroke="#4D4D4D" stroke-width="1.15"/>
<line x1="1131.5" x2="1131.5" y1="761.1" y2="766.8000000000001" stroke="#4D4D4D" stroke-width="1.15"/>
<line x1="1194" x2="1194" y1="761.1" y2="766.8000000000001" stroke="#4D4D4D" stroke-width="1.15"/>
<line x1="1256.5" x2="1256.5" y1="761.1" y2="766.8000000000001" stroke="#4D4D4D" stroke-width="1.15"/>
<line x1="1318.75" x2="1318.75" y1="761.1" y2="766.8000000000001" stroke="#4D4D4D" stroke-width="1.15"/>
<line x1="1324.25" x2="1324.25" y1="761.1" y2="766.8000000000001" stroke="#4D4D4D" stroke-width="1.15"/>
<text x="59.82" y="778.50" font-size="10.03" fill="#262626" textLength="31.87" lengthAdjust="spacingAndGlyphs">Oct 20</text>
<text x="63.53" y="790.50" font-size="10.03" fill="#262626" textLength="24.43" lengthAdjust="spacingAndGlyphs">2015</text>
<text x="116.06" y="778.50" font-size="10.03" fill="#262626" textLength="31.88" lengthAdjust="spacingAndGlyphs">Apr 01</text>
<text x="119.78" y="790.50" font-size="10.03" fill="#262626" textLength="24.43" lengthAdjust="spacingAndGlyphs">2016</text>
<text x="179.32" y="778.50" font-size="10.03" fill="#262626" textLength="31.87" lengthAdjust="spacingAndGlyphs">Oct 03</text>
<text x="183.03" y="790.50" font-size="10.03" fill="#262626" textLength="24.43" lengthAdjust="spacingAndGlyphs">2016</text>
<text x="241.56" y="778.50" font-size="10.03" fill="#262626" textLength="31.88" lengthAdjust="spacingAndGlyphs">Apr 03</text>
<text x="245.28" y="790.50" font-size="10.03" fill="#262626" textLength="24.43" lengthAdjust="spacingAndGlyphs">2017</text>
<text x="304.07" y="778.50" font-size="10.03" fill="#262626" textLength="31.87" lengthAdjust="spacingAndGlyphs">Oct 03</text>
<text x="307.78" y="790.50" font-size="10.03" fill="#262626" textLength="24.43" lengthAdjust="spacingAndGlyphs">2017</text>
<text x="365.81" y="778.50" font-size="10.03" fill="#262626" textLength="31.88" lengthAdjust="spacingAndGlyphs">Apr 02</text>
<text x="369.53" y="790.50" font-size="10.03" fill="#262626" textLength="24.43" lengthAdjust="spacingAndGlyphs">2018</text>
<text x="428.57" y="778.50" font-size="10.03" fill="#262626" textLength="31.87" lengthAdjust="spacingAndGlyphs">Oct 01</text>
<text x="432.28" y="790.50" font-size="10.03" fill="#262626" textLength="24.43" lengthAdjust="spacingAndGlyphs">2018</text>
<text x="490.56" y="778.50" font-size="10.03" fill="#262626" textLength="31.88" lengthAdjust="spacingAndGlyphs">Apr 01</text>
<text x="494.28" y="790.50" font-size="10.03" fill="#262626" textLength="24.43" lengthAdjust="spacingAndGlyphs">2019</text>
<text x="553.07" y="778.50" font-size="10.03" fill="#262626" textLength="31.87" lengthAdjust="spacingAndGlyphs">Oct 01</text>
<text x="556.78" y="790.50" font-size="10.03" fill="#262626" textLength="24.43" lengthAdjust="spacingAndGlyphs">2019</text>
<text x="615.56" y="778.50" font-size="10.03" fill="#262626" textLength="31.88" lengthAdjust="spacingAndGlyphs">Apr 01</text>
<text x="619.28" y="790.50" font-size="10.03" fill="#262626" textLength="24.43" lengthAdjust="spacingAndGlyphs">2020</text>
<text x="678.32" y="778.50" font-size="10.03" fill="#262626" textLength="31.87" lengthAdjust="spacingAndGlyphs">Oct 01</text>
<text x="682.03" y="790.50" font-size="10.03" fill="#262626" textLength="24.43" lengthAdjust="spacingAndGlyphs">2020</text>
<text x="740.56" y="778.50" font-size="10.03" fill="#262626" textLength="31.88" lengthAdjust="spacingAndGlyphs">Apr 01</text>
<text x="744.28" y="790.50" font-size="10.03" fill="#262626" textLength="24.43" lengthAdjust="spacingAndGlyphs">2021</text>
<text x="803.32" y="778.50" font-size="10.03" fill="#262626" textLength="31.87" lengthAdjust="spacingAndGlyphs">Oct 01</text>
<text x="807.03" y="790.50" font-size="10.03" fill="#262626" textLength="24.43" lengthAdjust="spacingAndGlyphs">2021</text>
<text x="865.56" y="778.50" font-size="10.03" fill="#262626" textLength="31.88" lengthAdjust="spacingAndGlyphs">Apr 01</text>
<text x="869.28" y="790.50" font-size="10.03" fill="#262626" textLength="24.43" lengthAdjust="spacingAndGlyphs">2022</text>
<text x="928.57" y="778.50" font-size="10.03" fill="#262626" textLength="31.87" lengthAdjust="spacingAndGlyphs">Oct 03</text>
<text x="932.28" y="790.50" font-size="10.03" fill="#262626" textLength="24.43" lengthAdjust="spacingAndGlyphs">2022</text>
<text x="991.06" y="778.50" font-size="10.03" fill="#262626" textLength="31.88" lengthAdjust="spacingAndGlyphs">Apr 03</text>
<text x="994.78" y="790.50" font-size="10.03" fill="#262626" textLength="24.43" lengthAdjust="spacingAndGlyphs">2023</text>
<text x="1053.57" y="778.50" font-size="10.03" fill="#262626" textLength="31.87" lengthAdjust="spacingAndGlyphs">Oct 03</text>
<text x="1057.28" y="790.50" font-size="10.03" fill="#262626" textLength="24.43" lengthAdjust="spacingAndGlyphs">2023</text>
<text x="1115.56" y="778.50" font-size="10.03" fill="#262626" textLength="31.88" lengthAdjust="spacingAndGlyphs">Apr 01</text>
<text x="1119.28" y="790.50" font-size="10.03" fill="#262626" textLength="24.43" lengthAdjust="spacingAndGlyphs">2024</text>
<text x="1178.07" y="778.50" font-size="10.03" fill="#262626" textLength="31.87" lengthAdjust="spacingAndGlyphs">Oct 01</text>
<text x="1181.78" y="790.50" font-size="10.03" fill="#262626" textLength="24.43" lengthAdjust="spacingAndGlyphs">2024</text>
<text x="1240.56" y="778.50" font-size="10.03" fill="#262626" textLength="31.88" lengthAdjust="spacingAndGlyphs">Apr 01</text>
<text x="1244.28" y="790.50" font-size="10.03" fill="#262626" textLength="24.43" lengthAdjust="spacingAndGlyphs">2025</text>
<text x="1302.82" y="778.50" font-size="10.03" fill="#262626" textLength="31.87" lengthAdjust="spacingAndGlyphs">Oct 01</text>
<text x="1306.53" y="790.50" font-size="10.03" fill="#262626" textLength="24.43" lengthAdjust="spacingAndGlyphs">2025</text>
<text x="579.27" y="33.60" font-size="15.05" font-weight="bold" fill="#000" textLength="268.86" lengthAdjust="spacingAndGlyphs">Aluminium (CAP_WT) SMA Profile</text>
<text x="677.47" y="48.10" font-size="10.03" fill="#000" textLength="44.67" lengthAdjust="spacingAndGlyphs">long-only</text>
<text x="319.38" y="68.90" font-size="12.82" fill="#000" textLength="761.64" lengthAdjust="spacingAndGlyphs">cumulative: 406.23% / 308.11% / 361.52% / 437.24% / 934.27%; annualized: 18.02% / 15.45% / 16.91% / 18.74% / 26.95%</text>
<text x="1181.17" y="48.90" font-size="11.29" fill="#262626" textLength="136.03" lengthAdjust="spacingAndGlyphs">2015-10-20 / 2025-10-16</text>
<text x="1181.17" y="515.90" font-size="11.29" fill="#262626" textLength="136.03" lengthAdjust="spacingAndGlyphs">2015-10-20 / 2025-10-16</text>
<line x1="85.5" x2="105.5" y1="88.4" y2="88.4" stroke="#000000" stroke-width="1"/>
<text x="115.30" y="91.80" font-size="10.87" fill="#262626" textLength="41.12" lengthAdjust="spacingAndGlyphs">SMA_20</text>
<line x1="85.5" x2="105.5" y1="101.4" y2="101.4" stroke="#DF536B" stroke-width="1"/>
<text x="115.30" y="104.80" font-size="10.87" fill="#262626" textLength="41.12" lengthAdjust="spacingAndGlyphs">SMA_50</text>
<line x1="85.5" x2="105.5" y1="114.4" y2="114.4" stroke="#61D04F" stroke-width="1"/>
<text x="115.30" y="117.80" font-size="10.87" fill="#262626" textLength="47.74" lengthAdjust="spacingAndGlyphs">SMA_100</text>
<line x1="85.5" x2="105.5" y1="127.4" y2="127.4" stroke="#2297E6" stroke-width="1"/>
<text x="115.30" y="130.80" font-size="10.87" fill="#262626" textLength="47.74" lengthAdjust="spacingAndGlyphs">SMA_200</text>
<line x1="85.5" x2="105.5" y1="140.4" y2="140.4" stroke="#28E2E5" stroke-width="1"/>
<text x="115.30" y="143.80" font-size="10.87" fill="#262626" textLength="32.55" lengthAdjust="spacingAndGlyphs">INDEX</text>
<text x="-31.00" y="0.00" font-size="12.38" fill="#BEBEBE" textLength="62.00" lengthAdjust="spacingAndGlyphs" transform="translate(1383.7,621.8) rotate(-90)">@StockViz</text>
</svg>
</body></html>
